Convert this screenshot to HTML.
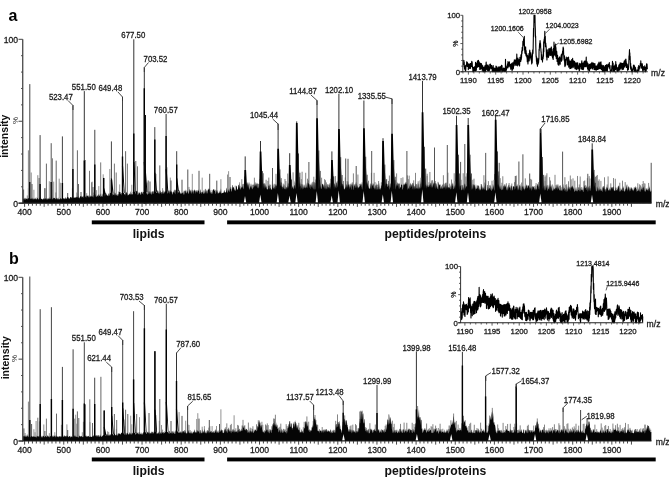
<!DOCTYPE html>
<html><head><meta charset="utf-8"><style>
html,body{margin:0;padding:0;background:#fff;width:669px;height:477px;overflow:hidden}
svg{display:block;filter:grayscale(1)}
</style></head><body>
<svg width="669" height="477" viewBox="0 0 669 477" font-family='"Liberation Sans", sans-serif'>
<rect width="669" height="477" fill="#fff"/>
<line x1="24" y1="198.18" x2="24" y2="203.2" stroke="#777" stroke-width="0.8"/>
<line x1="27.3" y1="195.45" x2="27.3" y2="203.2" stroke="#777" stroke-width="0.8"/>
<line x1="28.4" y1="188.29" x2="28.4" y2="203.2" stroke="#777" stroke-width="0.8"/>
<line x1="33.9" y1="189.76" x2="33.9" y2="203.2" stroke="#777" stroke-width="0.8"/>
<line x1="36.1" y1="197.54" x2="36.1" y2="203.2" stroke="#777" stroke-width="0.8"/>
<line x1="40.5" y1="196.89" x2="40.5" y2="203.2" stroke="#777" stroke-width="0.8"/>
<line x1="44.9" y1="188.78" x2="44.9" y2="203.2" stroke="#777" stroke-width="0.8"/>
<line x1="49.3" y1="181.25" x2="49.3" y2="203.2" stroke="#777" stroke-width="0.8"/>
<line x1="51.5" y1="195.44" x2="51.5" y2="203.2" stroke="#777" stroke-width="0.8"/>
<line x1="52.6" y1="189.68" x2="52.6" y2="203.2" stroke="#777" stroke-width="0.8"/>
<line x1="53.7" y1="181.67" x2="53.7" y2="203.2" stroke="#777" stroke-width="0.8"/>
<line x1="55.9" y1="192.44" x2="55.9" y2="203.2" stroke="#777" stroke-width="0.8"/>
<line x1="59.2" y1="178.66" x2="59.2" y2="203.2" stroke="#777" stroke-width="0.8"/>
<line x1="60.3" y1="182.77" x2="60.3" y2="203.2" stroke="#777" stroke-width="0.8"/>
<line x1="65.8" y1="197.69" x2="65.8" y2="203.2" stroke="#777" stroke-width="0.8"/>
<line x1="68" y1="197.47" x2="68" y2="203.2" stroke="#777" stroke-width="0.8"/>
<line x1="72.4" y1="188.35" x2="72.4" y2="203.2" stroke="#777" stroke-width="0.8"/>
<line x1="76.8" y1="192.5" x2="76.8" y2="203.2" stroke="#777" stroke-width="0.8"/>
<line x1="77.9" y1="193.64" x2="77.9" y2="203.2" stroke="#777" stroke-width="0.8"/>
<line x1="85.6" y1="194.96" x2="85.6" y2="203.2" stroke="#777" stroke-width="0.8"/>
<line x1="86.7" y1="193.15" x2="86.7" y2="203.2" stroke="#777" stroke-width="0.8"/>
<line x1="92.2" y1="181.67" x2="92.2" y2="203.2" stroke="#777" stroke-width="0.8"/>
<line x1="93.3" y1="192.57" x2="93.3" y2="203.2" stroke="#777" stroke-width="0.8"/>
<line x1="96.6" y1="190.15" x2="96.6" y2="203.2" stroke="#777" stroke-width="0.8"/>
<line x1="98.8" y1="186.08" x2="98.8" y2="203.2" stroke="#777" stroke-width="0.8"/>
<line x1="102.1" y1="193.7" x2="102.1" y2="203.2" stroke="#777" stroke-width="0.8"/>
<line x1="103.2" y1="174.3" x2="103.2" y2="203.2" stroke="#777" stroke-width="0.8"/>
<line x1="104.3" y1="194.35" x2="104.3" y2="203.2" stroke="#777" stroke-width="0.8"/>
<line x1="105.4" y1="193.36" x2="105.4" y2="203.2" stroke="#777" stroke-width="0.8"/>
<line x1="109.8" y1="168.98" x2="109.8" y2="203.2" stroke="#777" stroke-width="0.8"/>
<line x1="115.3" y1="193.5" x2="115.3" y2="203.2" stroke="#777" stroke-width="0.8"/>
<line x1="118.6" y1="191.55" x2="118.6" y2="203.2" stroke="#777" stroke-width="0.8"/>
<line x1="119.7" y1="184.41" x2="119.7" y2="203.2" stroke="#777" stroke-width="0.8"/>
<line x1="123" y1="189.4" x2="123" y2="203.2" stroke="#777" stroke-width="0.8"/>
<line x1="126.3" y1="192.56" x2="126.3" y2="203.2" stroke="#777" stroke-width="0.8"/>
<line x1="131.8" y1="184.77" x2="131.8" y2="203.2" stroke="#777" stroke-width="0.8"/>
<line x1="141.7" y1="191.9" x2="141.7" y2="203.2" stroke="#777" stroke-width="0.8"/>
<line x1="145" y1="184.73" x2="145" y2="203.2" stroke="#777" stroke-width="0.8"/>
<line x1="147.2" y1="182.49" x2="147.2" y2="203.2" stroke="#777" stroke-width="0.8"/>
<line x1="156" y1="173.9" x2="156" y2="203.2" stroke="#777" stroke-width="0.8"/>
<line x1="162.6" y1="188.2" x2="162.6" y2="203.2" stroke="#777" stroke-width="0.8"/>
<line x1="164.8" y1="191.34" x2="164.8" y2="203.2" stroke="#777" stroke-width="0.8"/>
<line x1="167" y1="167.3" x2="167" y2="203.2" stroke="#777" stroke-width="0.8"/>
<line x1="168.1" y1="190.97" x2="168.1" y2="203.2" stroke="#777" stroke-width="0.8"/>
<line x1="170.3" y1="177.58" x2="170.3" y2="203.2" stroke="#777" stroke-width="0.8"/>
<line x1="179.1" y1="190.35" x2="179.1" y2="203.2" stroke="#777" stroke-width="0.8"/>
<line x1="184.6" y1="191.1" x2="184.6" y2="203.2" stroke="#777" stroke-width="0.8"/>
<line x1="189" y1="186.96" x2="189" y2="203.2" stroke="#777" stroke-width="0.8"/>
<line x1="192.3" y1="173.88" x2="192.3" y2="203.2" stroke="#777" stroke-width="0.8"/>
<line x1="202.2" y1="177.65" x2="202.2" y2="203.2" stroke="#777" stroke-width="0.8"/>
<line x1="205.5" y1="188.89" x2="205.5" y2="203.2" stroke="#777" stroke-width="0.8"/>
<line x1="207.7" y1="190.64" x2="207.7" y2="203.2" stroke="#777" stroke-width="0.8"/>
<line x1="208.8" y1="189.92" x2="208.8" y2="203.2" stroke="#777" stroke-width="0.8"/>
<line x1="212.1" y1="189.92" x2="212.1" y2="203.2" stroke="#777" stroke-width="0.8"/>
<line x1="213.2" y1="190.49" x2="213.2" y2="203.2" stroke="#777" stroke-width="0.8"/>
<line x1="215.4" y1="189.84" x2="215.4" y2="203.2" stroke="#777" stroke-width="0.8"/>
<line x1="217.6" y1="190.43" x2="217.6" y2="203.2" stroke="#777" stroke-width="0.8"/>
<line x1="220.9" y1="179.2" x2="220.9" y2="203.2" stroke="#777" stroke-width="0.8"/>
<line x1="227.5" y1="174.53" x2="227.5" y2="203.2" stroke="#777" stroke-width="0.8"/>
<line x1="228.6" y1="171.18" x2="228.6" y2="203.2" stroke="#777" stroke-width="0.8"/>
<line x1="230.8" y1="187.23" x2="230.8" y2="203.2" stroke="#777" stroke-width="0.8"/>
<line x1="233" y1="187.41" x2="233" y2="203.2" stroke="#777" stroke-width="0.8"/>
<line x1="235.2" y1="185.63" x2="235.2" y2="203.2" stroke="#777" stroke-width="0.8"/>
<line x1="239.6" y1="182.33" x2="239.6" y2="203.2" stroke="#777" stroke-width="0.8"/>
<line x1="240" y1="185.78" x2="240" y2="203.2" stroke="#666" stroke-width="0.8"/>
<line x1="241.8" y1="179.2" x2="241.8" y2="203.2" stroke="#666" stroke-width="0.8"/>
<line x1="242.7" y1="184.09" x2="242.7" y2="203.2" stroke="#666" stroke-width="0.8"/>
<line x1="243.6" y1="183.87" x2="243.6" y2="203.2" stroke="#666" stroke-width="0.8"/>
<line x1="244.5" y1="176.5" x2="244.5" y2="203.2" stroke="#666" stroke-width="0.8"/>
<line x1="246.3" y1="183.4" x2="246.3" y2="203.2" stroke="#666" stroke-width="0.8"/>
<line x1="248.1" y1="184.41" x2="248.1" y2="203.2" stroke="#666" stroke-width="0.8"/>
<line x1="249" y1="182.49" x2="249" y2="203.2" stroke="#666" stroke-width="0.8"/>
<line x1="249.9" y1="183.78" x2="249.9" y2="203.2" stroke="#666" stroke-width="0.8"/>
<line x1="252.6" y1="184.69" x2="252.6" y2="203.2" stroke="#666" stroke-width="0.8"/>
<line x1="253.5" y1="184.69" x2="253.5" y2="203.2" stroke="#666" stroke-width="0.8"/>
<line x1="254.4" y1="177.68" x2="254.4" y2="203.2" stroke="#666" stroke-width="0.8"/>
<line x1="255.3" y1="182.48" x2="255.3" y2="203.2" stroke="#666" stroke-width="0.8"/>
<line x1="256.2" y1="184.45" x2="256.2" y2="203.2" stroke="#666" stroke-width="0.8"/>
<line x1="258" y1="183.83" x2="258" y2="203.2" stroke="#666" stroke-width="0.8"/>
<line x1="259.8" y1="179.33" x2="259.8" y2="203.2" stroke="#666" stroke-width="0.8"/>
<line x1="260.7" y1="182.33" x2="260.7" y2="203.2" stroke="#666" stroke-width="0.8"/>
<line x1="261.6" y1="181.46" x2="261.6" y2="203.2" stroke="#666" stroke-width="0.8"/>
<line x1="263.4" y1="173.26" x2="263.4" y2="203.2" stroke="#666" stroke-width="0.8"/>
<line x1="264.3" y1="183.54" x2="264.3" y2="203.2" stroke="#666" stroke-width="0.8"/>
<line x1="266.1" y1="179.75" x2="266.1" y2="203.2" stroke="#666" stroke-width="0.8"/>
<line x1="267.9" y1="180.88" x2="267.9" y2="203.2" stroke="#666" stroke-width="0.8"/>
<line x1="268.8" y1="177.59" x2="268.8" y2="203.2" stroke="#666" stroke-width="0.8"/>
<line x1="270.6" y1="184.69" x2="270.6" y2="203.2" stroke="#666" stroke-width="0.8"/>
<line x1="272.4" y1="181.23" x2="272.4" y2="203.2" stroke="#666" stroke-width="0.8"/>
<line x1="274.2" y1="183.77" x2="274.2" y2="203.2" stroke="#666" stroke-width="0.8"/>
<line x1="275.1" y1="184.7" x2="275.1" y2="203.2" stroke="#666" stroke-width="0.8"/>
<line x1="276" y1="173.83" x2="276" y2="203.2" stroke="#666" stroke-width="0.8"/>
<line x1="277.8" y1="179.36" x2="277.8" y2="203.2" stroke="#666" stroke-width="0.8"/>
<line x1="278.7" y1="180.3" x2="278.7" y2="203.2" stroke="#666" stroke-width="0.8"/>
<line x1="279.6" y1="182.41" x2="279.6" y2="203.2" stroke="#666" stroke-width="0.8"/>
<line x1="281.4" y1="178.11" x2="281.4" y2="203.2" stroke="#666" stroke-width="0.8"/>
<line x1="283.2" y1="183.62" x2="283.2" y2="203.2" stroke="#666" stroke-width="0.8"/>
<line x1="284.1" y1="184.56" x2="284.1" y2="203.2" stroke="#666" stroke-width="0.8"/>
<line x1="285" y1="178.98" x2="285" y2="203.2" stroke="#666" stroke-width="0.8"/>
<line x1="285.9" y1="181.05" x2="285.9" y2="203.2" stroke="#666" stroke-width="0.8"/>
<line x1="287.7" y1="173.54" x2="287.7" y2="203.2" stroke="#666" stroke-width="0.8"/>
<line x1="288.6" y1="183.47" x2="288.6" y2="203.2" stroke="#666" stroke-width="0.8"/>
<line x1="290.4" y1="184.64" x2="290.4" y2="203.2" stroke="#666" stroke-width="0.8"/>
<line x1="291.3" y1="184.69" x2="291.3" y2="203.2" stroke="#666" stroke-width="0.8"/>
<line x1="293.1" y1="172.33" x2="293.1" y2="203.2" stroke="#666" stroke-width="0.8"/>
<line x1="294.9" y1="182.35" x2="294.9" y2="203.2" stroke="#666" stroke-width="0.8"/>
<line x1="296.7" y1="184.59" x2="296.7" y2="203.2" stroke="#666" stroke-width="0.8"/>
<line x1="297.6" y1="184.59" x2="297.6" y2="203.2" stroke="#666" stroke-width="0.8"/>
<line x1="298.5" y1="182.03" x2="298.5" y2="203.2" stroke="#666" stroke-width="0.8"/>
<line x1="299.4" y1="177.14" x2="299.4" y2="203.2" stroke="#666" stroke-width="0.8"/>
<line x1="301.2" y1="184.24" x2="301.2" y2="203.2" stroke="#666" stroke-width="0.8"/>
<line x1="302.1" y1="171.73" x2="302.1" y2="203.2" stroke="#666" stroke-width="0.8"/>
<line x1="303" y1="184.62" x2="303" y2="203.2" stroke="#666" stroke-width="0.8"/>
<line x1="304.8" y1="184.68" x2="304.8" y2="203.2" stroke="#666" stroke-width="0.8"/>
<line x1="305.7" y1="172.78" x2="305.7" y2="203.2" stroke="#666" stroke-width="0.8"/>
<line x1="307.5" y1="178.7" x2="307.5" y2="203.2" stroke="#666" stroke-width="0.8"/>
<line x1="308.4" y1="180.38" x2="308.4" y2="203.2" stroke="#666" stroke-width="0.8"/>
<line x1="313.8" y1="176.74" x2="313.8" y2="203.2" stroke="#666" stroke-width="0.8"/>
<line x1="314.7" y1="182.33" x2="314.7" y2="203.2" stroke="#666" stroke-width="0.8"/>
<line x1="315.6" y1="180.34" x2="315.6" y2="203.2" stroke="#666" stroke-width="0.8"/>
<line x1="317.4" y1="184.02" x2="317.4" y2="203.2" stroke="#666" stroke-width="0.8"/>
<line x1="324.6" y1="179.17" x2="324.6" y2="203.2" stroke="#666" stroke-width="0.8"/>
<line x1="325.5" y1="180.22" x2="325.5" y2="203.2" stroke="#666" stroke-width="0.8"/>
<line x1="326.4" y1="182.41" x2="326.4" y2="203.2" stroke="#666" stroke-width="0.8"/>
<line x1="327.3" y1="184.16" x2="327.3" y2="203.2" stroke="#666" stroke-width="0.8"/>
<line x1="328.2" y1="184.56" x2="328.2" y2="203.2" stroke="#666" stroke-width="0.8"/>
<line x1="329.1" y1="184.69" x2="329.1" y2="203.2" stroke="#666" stroke-width="0.8"/>
<line x1="330.9" y1="178.84" x2="330.9" y2="203.2" stroke="#666" stroke-width="0.8"/>
<line x1="331.8" y1="184.47" x2="331.8" y2="203.2" stroke="#666" stroke-width="0.8"/>
<line x1="333.6" y1="176.64" x2="333.6" y2="203.2" stroke="#666" stroke-width="0.8"/>
<line x1="335.4" y1="176.05" x2="335.4" y2="203.2" stroke="#666" stroke-width="0.8"/>
<line x1="336.3" y1="182.76" x2="336.3" y2="203.2" stroke="#666" stroke-width="0.8"/>
<line x1="337.2" y1="181.3" x2="337.2" y2="203.2" stroke="#666" stroke-width="0.8"/>
<line x1="338.1" y1="182.74" x2="338.1" y2="203.2" stroke="#666" stroke-width="0.8"/>
<line x1="339" y1="182.65" x2="339" y2="203.2" stroke="#666" stroke-width="0.8"/>
<line x1="339.9" y1="184.7" x2="339.9" y2="203.2" stroke="#666" stroke-width="0.8"/>
<line x1="340.8" y1="183.14" x2="340.8" y2="203.2" stroke="#666" stroke-width="0.8"/>
<line x1="341.7" y1="184.63" x2="341.7" y2="203.2" stroke="#666" stroke-width="0.8"/>
<line x1="342.6" y1="184.06" x2="342.6" y2="203.2" stroke="#666" stroke-width="0.8"/>
<line x1="345.3" y1="177.52" x2="345.3" y2="203.2" stroke="#666" stroke-width="0.8"/>
<line x1="346.2" y1="184.42" x2="346.2" y2="203.2" stroke="#666" stroke-width="0.8"/>
<line x1="347.1" y1="181.19" x2="347.1" y2="203.2" stroke="#666" stroke-width="0.8"/>
<line x1="348" y1="181.54" x2="348" y2="203.2" stroke="#666" stroke-width="0.8"/>
<line x1="348.9" y1="184.13" x2="348.9" y2="203.2" stroke="#666" stroke-width="0.8"/>
<line x1="351.6" y1="184.61" x2="351.6" y2="203.2" stroke="#666" stroke-width="0.8"/>
<line x1="353.4" y1="173.38" x2="353.4" y2="203.2" stroke="#666" stroke-width="0.8"/>
<line x1="354.3" y1="184.61" x2="354.3" y2="203.2" stroke="#666" stroke-width="0.8"/>
<line x1="356.1" y1="183.93" x2="356.1" y2="203.2" stroke="#666" stroke-width="0.8"/>
<line x1="357.9" y1="174.53" x2="357.9" y2="203.2" stroke="#666" stroke-width="0.8"/>
<line x1="359.7" y1="183.89" x2="359.7" y2="203.2" stroke="#666" stroke-width="0.8"/>
<line x1="360.6" y1="184.58" x2="360.6" y2="203.2" stroke="#666" stroke-width="0.8"/>
<line x1="361.5" y1="184.45" x2="361.5" y2="203.2" stroke="#666" stroke-width="0.8"/>
<line x1="366" y1="184.52" x2="366" y2="203.2" stroke="#666" stroke-width="0.8"/>
<line x1="366.9" y1="182.31" x2="366.9" y2="203.2" stroke="#666" stroke-width="0.8"/>
<line x1="367.8" y1="183.88" x2="367.8" y2="203.2" stroke="#666" stroke-width="0.8"/>
<line x1="368.7" y1="184.67" x2="368.7" y2="203.2" stroke="#666" stroke-width="0.8"/>
<line x1="371.4" y1="172.75" x2="371.4" y2="203.2" stroke="#666" stroke-width="0.8"/>
<line x1="374.1" y1="172.83" x2="374.1" y2="203.2" stroke="#666" stroke-width="0.8"/>
<line x1="375" y1="182.12" x2="375" y2="203.2" stroke="#666" stroke-width="0.8"/>
<line x1="376.8" y1="184.66" x2="376.8" y2="203.2" stroke="#666" stroke-width="0.8"/>
<line x1="377.7" y1="184.7" x2="377.7" y2="203.2" stroke="#666" stroke-width="0.8"/>
<line x1="378.6" y1="181.02" x2="378.6" y2="203.2" stroke="#666" stroke-width="0.8"/>
<line x1="381.3" y1="182.33" x2="381.3" y2="203.2" stroke="#666" stroke-width="0.8"/>
<line x1="383.1" y1="184.43" x2="383.1" y2="203.2" stroke="#666" stroke-width="0.8"/>
<line x1="384" y1="180.32" x2="384" y2="203.2" stroke="#666" stroke-width="0.8"/>
<line x1="384.9" y1="184.32" x2="384.9" y2="203.2" stroke="#666" stroke-width="0.8"/>
<line x1="386.7" y1="178.99" x2="386.7" y2="203.2" stroke="#666" stroke-width="0.8"/>
<line x1="387.6" y1="184.2" x2="387.6" y2="203.2" stroke="#666" stroke-width="0.8"/>
<line x1="388.5" y1="180.89" x2="388.5" y2="203.2" stroke="#666" stroke-width="0.8"/>
<line x1="389.4" y1="175.53" x2="389.4" y2="203.2" stroke="#666" stroke-width="0.8"/>
<line x1="392.1" y1="173.77" x2="392.1" y2="203.2" stroke="#666" stroke-width="0.8"/>
<line x1="393" y1="184.7" x2="393" y2="203.2" stroke="#666" stroke-width="0.8"/>
<line x1="393.9" y1="178.57" x2="393.9" y2="203.2" stroke="#666" stroke-width="0.8"/>
<line x1="394.8" y1="180.14" x2="394.8" y2="203.2" stroke="#666" stroke-width="0.8"/>
<line x1="395.7" y1="180.33" x2="395.7" y2="203.2" stroke="#666" stroke-width="0.8"/>
<line x1="396.6" y1="173.38" x2="396.6" y2="203.2" stroke="#666" stroke-width="0.8"/>
<line x1="398.4" y1="183.45" x2="398.4" y2="203.2" stroke="#666" stroke-width="0.8"/>
<line x1="399.3" y1="183.86" x2="399.3" y2="203.2" stroke="#666" stroke-width="0.8"/>
<line x1="401.1" y1="178" x2="401.1" y2="203.2" stroke="#666" stroke-width="0.8"/>
<line x1="402.9" y1="177.33" x2="402.9" y2="203.2" stroke="#666" stroke-width="0.8"/>
<line x1="407.4" y1="175.36" x2="407.4" y2="203.2" stroke="#666" stroke-width="0.8"/>
<line x1="408.3" y1="179.16" x2="408.3" y2="203.2" stroke="#666" stroke-width="0.8"/>
<line x1="409.2" y1="175.64" x2="409.2" y2="203.2" stroke="#666" stroke-width="0.8"/>
<line x1="411.9" y1="184.65" x2="411.9" y2="203.2" stroke="#666" stroke-width="0.8"/>
<line x1="412.8" y1="182.87" x2="412.8" y2="203.2" stroke="#666" stroke-width="0.8"/>
<line x1="413.7" y1="180.31" x2="413.7" y2="203.2" stroke="#666" stroke-width="0.8"/>
<line x1="415.5" y1="172.85" x2="415.5" y2="203.2" stroke="#666" stroke-width="0.8"/>
<line x1="416.4" y1="184.13" x2="416.4" y2="203.2" stroke="#666" stroke-width="0.8"/>
<line x1="418.2" y1="181.29" x2="418.2" y2="203.2" stroke="#666" stroke-width="0.8"/>
<line x1="420" y1="180.48" x2="420" y2="203.2" stroke="#666" stroke-width="0.8"/>
<line x1="420.9" y1="184.06" x2="420.9" y2="203.2" stroke="#666" stroke-width="0.8"/>
<line x1="421.8" y1="182.45" x2="421.8" y2="203.2" stroke="#666" stroke-width="0.8"/>
<line x1="422.7" y1="184.57" x2="422.7" y2="203.2" stroke="#666" stroke-width="0.8"/>
<line x1="423.6" y1="180.11" x2="423.6" y2="203.2" stroke="#666" stroke-width="0.8"/>
<line x1="424.5" y1="176.43" x2="424.5" y2="203.2" stroke="#666" stroke-width="0.8"/>
<line x1="427.2" y1="173.72" x2="427.2" y2="203.2" stroke="#666" stroke-width="0.8"/>
<line x1="429" y1="182.24" x2="429" y2="203.2" stroke="#666" stroke-width="0.8"/>
<line x1="429.9" y1="171.96" x2="429.9" y2="203.2" stroke="#666" stroke-width="0.8"/>
<line x1="430.8" y1="183.17" x2="430.8" y2="203.2" stroke="#666" stroke-width="0.8"/>
<line x1="431.7" y1="180.44" x2="431.7" y2="203.2" stroke="#666" stroke-width="0.8"/>
<line x1="432.6" y1="180.24" x2="432.6" y2="203.2" stroke="#666" stroke-width="0.8"/>
<line x1="433.5" y1="183.55" x2="433.5" y2="203.2" stroke="#666" stroke-width="0.8"/>
<line x1="434.4" y1="181.57" x2="434.4" y2="203.2" stroke="#666" stroke-width="0.8"/>
<line x1="435.3" y1="181.02" x2="435.3" y2="203.2" stroke="#666" stroke-width="0.8"/>
<line x1="438" y1="181.87" x2="438" y2="203.2" stroke="#666" stroke-width="0.8"/>
<line x1="439.8" y1="184.7" x2="439.8" y2="203.2" stroke="#666" stroke-width="0.8"/>
<line x1="440.7" y1="184.67" x2="440.7" y2="203.2" stroke="#666" stroke-width="0.8"/>
<line x1="442.5" y1="184.59" x2="442.5" y2="203.2" stroke="#666" stroke-width="0.8"/>
<line x1="443.4" y1="175.21" x2="443.4" y2="203.2" stroke="#666" stroke-width="0.8"/>
<line x1="444.3" y1="184.31" x2="444.3" y2="203.2" stroke="#666" stroke-width="0.8"/>
<line x1="445.2" y1="183.2" x2="445.2" y2="203.2" stroke="#666" stroke-width="0.8"/>
<line x1="446.1" y1="182.72" x2="446.1" y2="203.2" stroke="#666" stroke-width="0.8"/>
<line x1="447.9" y1="172.68" x2="447.9" y2="203.2" stroke="#666" stroke-width="0.8"/>
<line x1="449.7" y1="183.67" x2="449.7" y2="203.2" stroke="#666" stroke-width="0.8"/>
<line x1="451.5" y1="179.52" x2="451.5" y2="203.2" stroke="#666" stroke-width="0.8"/>
<line x1="452.4" y1="183.62" x2="452.4" y2="203.2" stroke="#666" stroke-width="0.8"/>
<line x1="454.2" y1="173.28" x2="454.2" y2="203.2" stroke="#666" stroke-width="0.8"/>
<line x1="457.8" y1="184.65" x2="457.8" y2="203.2" stroke="#666" stroke-width="0.8"/>
<line x1="458.7" y1="178.21" x2="458.7" y2="203.2" stroke="#666" stroke-width="0.8"/>
<line x1="460.5" y1="184.8" x2="460.5" y2="203.2" stroke="#666" stroke-width="0.8"/>
<line x1="461.4" y1="185.27" x2="461.4" y2="203.2" stroke="#666" stroke-width="0.8"/>
<line x1="462.3" y1="185.18" x2="462.3" y2="203.2" stroke="#666" stroke-width="0.8"/>
<line x1="463.2" y1="173.25" x2="463.2" y2="203.2" stroke="#666" stroke-width="0.8"/>
<line x1="464.1" y1="185.33" x2="464.1" y2="203.2" stroke="#666" stroke-width="0.8"/>
<line x1="465" y1="184.34" x2="465" y2="203.2" stroke="#666" stroke-width="0.8"/>
<line x1="465.9" y1="176.56" x2="465.9" y2="203.2" stroke="#666" stroke-width="0.8"/>
<line x1="466.8" y1="173.29" x2="466.8" y2="203.2" stroke="#666" stroke-width="0.8"/>
<line x1="467.7" y1="173.75" x2="467.7" y2="203.2" stroke="#666" stroke-width="0.8"/>
<line x1="470.4" y1="176.74" x2="470.4" y2="203.2" stroke="#666" stroke-width="0.8"/>
<line x1="471.3" y1="185.46" x2="471.3" y2="203.2" stroke="#666" stroke-width="0.8"/>
<line x1="473.1" y1="184.05" x2="473.1" y2="203.2" stroke="#666" stroke-width="0.8"/>
<line x1="474" y1="178.68" x2="474" y2="203.2" stroke="#666" stroke-width="0.8"/>
<line x1="477.6" y1="186.18" x2="477.6" y2="203.2" stroke="#666" stroke-width="0.8"/>
<line x1="478.5" y1="185.89" x2="478.5" y2="203.2" stroke="#666" stroke-width="0.8"/>
<line x1="481.2" y1="184.01" x2="481.2" y2="203.2" stroke="#666" stroke-width="0.8"/>
<line x1="483.9" y1="175.22" x2="483.9" y2="203.2" stroke="#666" stroke-width="0.8"/>
<line x1="484.8" y1="182.52" x2="484.8" y2="203.2" stroke="#666" stroke-width="0.8"/>
<line x1="485.7" y1="179.78" x2="485.7" y2="203.2" stroke="#666" stroke-width="0.8"/>
<line x1="487.5" y1="185.09" x2="487.5" y2="203.2" stroke="#666" stroke-width="0.8"/>
<line x1="488.4" y1="181.14" x2="488.4" y2="203.2" stroke="#666" stroke-width="0.8"/>
<line x1="489.3" y1="185.34" x2="489.3" y2="203.2" stroke="#666" stroke-width="0.8"/>
<line x1="490.2" y1="185.52" x2="490.2" y2="203.2" stroke="#666" stroke-width="0.8"/>
<line x1="492" y1="180.72" x2="492" y2="203.2" stroke="#666" stroke-width="0.8"/>
<line x1="494.7" y1="174.1" x2="494.7" y2="203.2" stroke="#666" stroke-width="0.8"/>
<line x1="496.5" y1="184.99" x2="496.5" y2="203.2" stroke="#666" stroke-width="0.8"/>
<line x1="497.4" y1="181.68" x2="497.4" y2="203.2" stroke="#666" stroke-width="0.8"/>
<line x1="498.3" y1="175.56" x2="498.3" y2="203.2" stroke="#666" stroke-width="0.8"/>
<line x1="501.9" y1="182.77" x2="501.9" y2="203.2" stroke="#666" stroke-width="0.8"/>
<line x1="502.8" y1="176.25" x2="502.8" y2="203.2" stroke="#666" stroke-width="0.8"/>
<line x1="503.7" y1="186.12" x2="503.7" y2="203.2" stroke="#666" stroke-width="0.8"/>
<line x1="506.4" y1="183.25" x2="506.4" y2="203.2" stroke="#666" stroke-width="0.8"/>
<line x1="509.1" y1="183.03" x2="509.1" y2="203.2" stroke="#666" stroke-width="0.8"/>
<line x1="511.8" y1="183.5" x2="511.8" y2="203.2" stroke="#666" stroke-width="0.8"/>
<line x1="514.5" y1="182.15" x2="514.5" y2="203.2" stroke="#666" stroke-width="0.8"/>
<line x1="515.4" y1="180.14" x2="515.4" y2="203.2" stroke="#666" stroke-width="0.8"/>
<line x1="516.3" y1="175.58" x2="516.3" y2="203.2" stroke="#666" stroke-width="0.8"/>
<line x1="517.2" y1="185.98" x2="517.2" y2="203.2" stroke="#666" stroke-width="0.8"/>
<line x1="519.9" y1="186.2" x2="519.9" y2="203.2" stroke="#666" stroke-width="0.8"/>
<line x1="521.7" y1="182.54" x2="521.7" y2="203.2" stroke="#666" stroke-width="0.8"/>
<line x1="525.3" y1="178.37" x2="525.3" y2="203.2" stroke="#666" stroke-width="0.8"/>
<line x1="526.2" y1="185.98" x2="526.2" y2="203.2" stroke="#666" stroke-width="0.8"/>
<line x1="527.1" y1="185.81" x2="527.1" y2="203.2" stroke="#666" stroke-width="0.8"/>
<line x1="530.7" y1="178.91" x2="530.7" y2="203.2" stroke="#666" stroke-width="0.8"/>
<line x1="531.6" y1="179.69" x2="531.6" y2="203.2" stroke="#666" stroke-width="0.8"/>
<line x1="532.5" y1="186.2" x2="532.5" y2="203.2" stroke="#666" stroke-width="0.8"/>
<line x1="534.3" y1="186.2" x2="534.3" y2="203.2" stroke="#666" stroke-width="0.8"/>
<line x1="536.1" y1="183.11" x2="536.1" y2="203.2" stroke="#666" stroke-width="0.8"/>
<line x1="537" y1="186.17" x2="537" y2="203.2" stroke="#666" stroke-width="0.8"/>
<line x1="538.8" y1="182.27" x2="538.8" y2="203.2" stroke="#666" stroke-width="0.8"/>
<line x1="539.7" y1="186.18" x2="539.7" y2="203.2" stroke="#666" stroke-width="0.8"/>
<line x1="540.6" y1="185.71" x2="540.6" y2="203.2" stroke="#666" stroke-width="0.8"/>
<line x1="544.2" y1="185.77" x2="544.2" y2="203.2" stroke="#666" stroke-width="0.8"/>
<line x1="545.1" y1="176.57" x2="545.1" y2="203.2" stroke="#666" stroke-width="0.8"/>
<line x1="546" y1="175.27" x2="546" y2="203.2" stroke="#666" stroke-width="0.8"/>
<line x1="546.9" y1="173.28" x2="546.9" y2="203.2" stroke="#666" stroke-width="0.8"/>
<line x1="549.6" y1="177.16" x2="549.6" y2="203.2" stroke="#666" stroke-width="0.8"/>
<line x1="550.5" y1="180.53" x2="550.5" y2="203.2" stroke="#666" stroke-width="0.8"/>
<line x1="552.3" y1="184.49" x2="552.3" y2="203.2" stroke="#666" stroke-width="0.8"/>
<line x1="555" y1="174.83" x2="555" y2="203.2" stroke="#666" stroke-width="0.8"/>
<line x1="555.9" y1="185.19" x2="555.9" y2="203.2" stroke="#666" stroke-width="0.8"/>
<line x1="556.8" y1="184.54" x2="556.8" y2="203.2" stroke="#666" stroke-width="0.8"/>
<line x1="559.5" y1="185.79" x2="559.5" y2="203.2" stroke="#666" stroke-width="0.8"/>
<line x1="560.4" y1="185.39" x2="560.4" y2="203.2" stroke="#666" stroke-width="0.8"/>
<line x1="562.2" y1="186.91" x2="562.2" y2="203.2" stroke="#666" stroke-width="0.8"/>
<line x1="563.1" y1="184.43" x2="563.1" y2="203.2" stroke="#666" stroke-width="0.8"/>
<line x1="564.9" y1="177.21" x2="564.9" y2="203.2" stroke="#666" stroke-width="0.8"/>
<line x1="565.8" y1="184.85" x2="565.8" y2="203.2" stroke="#666" stroke-width="0.8"/>
<line x1="566.7" y1="184.24" x2="566.7" y2="203.2" stroke="#666" stroke-width="0.8"/>
<line x1="568.5" y1="181.27" x2="568.5" y2="203.2" stroke="#666" stroke-width="0.8"/>
<line x1="570.3" y1="175.51" x2="570.3" y2="203.2" stroke="#666" stroke-width="0.8"/>
<line x1="571.2" y1="179.34" x2="571.2" y2="203.2" stroke="#666" stroke-width="0.8"/>
<line x1="573" y1="178.33" x2="573" y2="203.2" stroke="#666" stroke-width="0.8"/>
<line x1="574.8" y1="180.7" x2="574.8" y2="203.2" stroke="#666" stroke-width="0.8"/>
<line x1="577.5" y1="175.95" x2="577.5" y2="203.2" stroke="#666" stroke-width="0.8"/>
<line x1="578.4" y1="187.28" x2="578.4" y2="203.2" stroke="#666" stroke-width="0.8"/>
<line x1="579.3" y1="184.46" x2="579.3" y2="203.2" stroke="#666" stroke-width="0.8"/>
<line x1="580.2" y1="176.49" x2="580.2" y2="203.2" stroke="#666" stroke-width="0.8"/>
<line x1="581.1" y1="187.03" x2="581.1" y2="203.2" stroke="#666" stroke-width="0.8"/>
<line x1="582" y1="187.53" x2="582" y2="203.2" stroke="#666" stroke-width="0.8"/>
<line x1="583.8" y1="181.17" x2="583.8" y2="203.2" stroke="#666" stroke-width="0.8"/>
<line x1="584.7" y1="180.5" x2="584.7" y2="203.2" stroke="#666" stroke-width="0.8"/>
<line x1="585.6" y1="185.2" x2="585.6" y2="203.2" stroke="#666" stroke-width="0.8"/>
<line x1="586.5" y1="187.54" x2="586.5" y2="203.2" stroke="#666" stroke-width="0.8"/>
<line x1="587.4" y1="178.14" x2="587.4" y2="203.2" stroke="#666" stroke-width="0.8"/>
<line x1="588.3" y1="187.44" x2="588.3" y2="203.2" stroke="#666" stroke-width="0.8"/>
<line x1="589.2" y1="176.1" x2="589.2" y2="203.2" stroke="#666" stroke-width="0.8"/>
<line x1="590.1" y1="178.53" x2="590.1" y2="203.2" stroke="#666" stroke-width="0.8"/>
<line x1="591.9" y1="187.48" x2="591.9" y2="203.2" stroke="#666" stroke-width="0.8"/>
<line x1="592.8" y1="187.7" x2="592.8" y2="203.2" stroke="#666" stroke-width="0.8"/>
<line x1="593.7" y1="174.82" x2="593.7" y2="203.2" stroke="#666" stroke-width="0.8"/>
<line x1="594.6" y1="187.66" x2="594.6" y2="203.2" stroke="#666" stroke-width="0.8"/>
<line x1="595.5" y1="176.8" x2="595.5" y2="203.2" stroke="#666" stroke-width="0.8"/>
<line x1="596.4" y1="175.9" x2="596.4" y2="203.2" stroke="#666" stroke-width="0.8"/>
<line x1="597.3" y1="174.97" x2="597.3" y2="203.2" stroke="#666" stroke-width="0.8"/>
<line x1="598.2" y1="180.87" x2="598.2" y2="203.2" stroke="#666" stroke-width="0.8"/>
<line x1="599.1" y1="179.42" x2="599.1" y2="203.2" stroke="#666" stroke-width="0.8"/>
<line x1="600.9" y1="180.87" x2="600.9" y2="203.2" stroke="#666" stroke-width="0.8"/>
<line x1="602.7" y1="187.48" x2="602.7" y2="203.2" stroke="#666" stroke-width="0.8"/>
<line x1="604.5" y1="177.31" x2="604.5" y2="203.2" stroke="#666" stroke-width="0.8"/>
<line x1="606.3" y1="187.46" x2="606.3" y2="203.2" stroke="#666" stroke-width="0.8"/>
<line x1="607.2" y1="184.47" x2="607.2" y2="203.2" stroke="#666" stroke-width="0.8"/>
<line x1="608.1" y1="176.41" x2="608.1" y2="203.2" stroke="#666" stroke-width="0.8"/>
<line x1="610.8" y1="183.37" x2="610.8" y2="203.2" stroke="#666" stroke-width="0.8"/>
<line x1="612.6" y1="187.02" x2="612.6" y2="203.2" stroke="#666" stroke-width="0.8"/>
<line x1="613.5" y1="178.07" x2="613.5" y2="203.2" stroke="#666" stroke-width="0.8"/>
<line x1="615.3" y1="178.76" x2="615.3" y2="203.2" stroke="#666" stroke-width="0.8"/>
<line x1="616.2" y1="187.67" x2="616.2" y2="203.2" stroke="#666" stroke-width="0.8"/>
<line x1="618" y1="187.47" x2="618" y2="203.2" stroke="#666" stroke-width="0.8"/>
<line x1="618.9" y1="185.91" x2="618.9" y2="203.2" stroke="#666" stroke-width="0.8"/>
<line x1="619.8" y1="182.73" x2="619.8" y2="203.2" stroke="#666" stroke-width="0.8"/>
<line x1="622.5" y1="180.67" x2="622.5" y2="203.2" stroke="#666" stroke-width="0.8"/>
<line x1="623.4" y1="187.7" x2="623.4" y2="203.2" stroke="#666" stroke-width="0.8"/>
<line x1="625.2" y1="182.11" x2="625.2" y2="203.2" stroke="#666" stroke-width="0.8"/>
<line x1="627" y1="184.67" x2="627" y2="203.2" stroke="#666" stroke-width="0.8"/>
<line x1="631.5" y1="187.68" x2="631.5" y2="203.2" stroke="#666" stroke-width="0.8"/>
<line x1="634.2" y1="187.34" x2="634.2" y2="203.2" stroke="#666" stroke-width="0.8"/>
<line x1="635.1" y1="187.7" x2="635.1" y2="203.2" stroke="#666" stroke-width="0.8"/>
<line x1="636.9" y1="187.3" x2="636.9" y2="203.2" stroke="#666" stroke-width="0.8"/>
<line x1="637.8" y1="183.3" x2="637.8" y2="203.2" stroke="#666" stroke-width="0.8"/>
<line x1="639.6" y1="184.35" x2="639.6" y2="203.2" stroke="#666" stroke-width="0.8"/>
<line x1="640.5" y1="185.38" x2="640.5" y2="203.2" stroke="#666" stroke-width="0.8"/>
<line x1="642.3" y1="184.02" x2="642.3" y2="203.2" stroke="#666" stroke-width="0.8"/>
<line x1="643.2" y1="181.03" x2="643.2" y2="203.2" stroke="#666" stroke-width="0.8"/>
<line x1="644.1" y1="183.25" x2="644.1" y2="203.2" stroke="#666" stroke-width="0.8"/>
<line x1="645" y1="183.58" x2="645" y2="203.2" stroke="#666" stroke-width="0.8"/>
<line x1="648.6" y1="182.95" x2="648.6" y2="203.2" stroke="#666" stroke-width="0.8"/>
<line x1="649.5" y1="187.7" x2="649.5" y2="203.2" stroke="#666" stroke-width="0.8"/>
<line x1="23.6" y1="189.5" x2="23.6" y2="203.2" stroke="#555" stroke-width="1.0"/>
<line x1="28.4" y1="150.3" x2="28.4" y2="203.2" stroke="#888" stroke-width="1.0"/>
<line x1="29.8" y1="84.1" x2="29.8" y2="203.2" stroke="#444" stroke-width="1.0"/>
<line x1="29.8" y1="182" x2="29.8" y2="203.2" stroke="#000" stroke-width="1.4"/>
<line x1="31.2" y1="172.5" x2="31.2" y2="203.2" stroke="#888" stroke-width="1.0"/>
<line x1="32" y1="184" x2="32" y2="203.2" stroke="#555" stroke-width="1.0"/>
<line x1="37.8" y1="175.2" x2="37.8" y2="203.2" stroke="#888" stroke-width="1.0"/>
<line x1="39.1" y1="178" x2="39.1" y2="203.2" stroke="#666" stroke-width="1.0"/>
<line x1="40.1" y1="135.1" x2="40.1" y2="203.2" stroke="#444" stroke-width="1.0"/>
<line x1="40.1" y1="184" x2="40.1" y2="203.2" stroke="#000" stroke-width="1.4"/>
<line x1="44.9" y1="188" x2="44.9" y2="203.2" stroke="#555" stroke-width="1.0"/>
<line x1="46.4" y1="163.6" x2="46.4" y2="203.2" stroke="#666" stroke-width="1.0"/>
<line x1="51.2" y1="143.2" x2="51.2" y2="203.2" stroke="#555" stroke-width="1.0"/>
<line x1="51.2" y1="182" x2="51.2" y2="203.2" stroke="#000" stroke-width="1.4"/>
<line x1="52.4" y1="158.3" x2="52.4" y2="203.2" stroke="#777" stroke-width="1.0"/>
<line x1="56.2" y1="160.6" x2="56.2" y2="203.2" stroke="#666" stroke-width="1.0"/>
<line x1="62.4" y1="136.4" x2="62.4" y2="203.2" stroke="#444" stroke-width="1.0"/>
<line x1="62.4" y1="183" x2="62.4" y2="203.2" stroke="#000" stroke-width="1.4"/>
<line x1="67.7" y1="193" x2="67.7" y2="203.2" stroke="#555" stroke-width="1.0"/>
<line x1="72.9" y1="105.1" x2="72.9" y2="203.2" stroke="#444" stroke-width="1.0"/>
<line x1="72.9" y1="169" x2="72.9" y2="203.2" stroke="#000" stroke-width="1.4"/>
<line x1="77.4" y1="150.3" x2="77.4" y2="203.2" stroke="#666" stroke-width="1.0"/>
<line x1="78.4" y1="184" x2="78.4" y2="203.2" stroke="#555" stroke-width="1.0"/>
<line x1="81" y1="192" x2="81" y2="203.2" stroke="#555" stroke-width="1.0"/>
<line x1="84.3" y1="91.1" x2="84.3" y2="203.2" stroke="#333" stroke-width="1.0"/>
<line x1="84.3" y1="160.6" x2="84.3" y2="203.2" stroke="#000" stroke-width="1.4"/>
<line x1="85.5" y1="160" x2="85.5" y2="203.2" stroke="#888" stroke-width="1.0"/>
<line x1="89.5" y1="170.8" x2="89.5" y2="203.2" stroke="#777" stroke-width="1.0"/>
<line x1="91.6" y1="182.3" x2="91.6" y2="203.2" stroke="#777" stroke-width="1.0"/>
<line x1="93" y1="187" x2="93" y2="203.2" stroke="#555" stroke-width="1.0"/>
<line x1="94.8" y1="129.8" x2="94.8" y2="203.2" stroke="#444" stroke-width="1.0"/>
<line x1="94.8" y1="164.5" x2="94.8" y2="203.2" stroke="#000" stroke-width="1.4"/>
<line x1="100.7" y1="162.4" x2="100.7" y2="203.2" stroke="#777" stroke-width="1.0"/>
<line x1="103.7" y1="177.9" x2="103.7" y2="203.2" stroke="#555" stroke-width="1.0"/>
<line x1="103.7" y1="178" x2="103.7" y2="203.2" stroke="#000" stroke-width="1.4"/>
<path d="M103.1,188.16 L104.3,188.16 L105.9,194.49 L102.7,194.49 L102.7,203.2 L105.9,203.2Z" fill="#000"/>
<line x1="111.4" y1="141.4" x2="111.4" y2="203.2" stroke="#444" stroke-width="1.0"/>
<line x1="111.4" y1="180" x2="111.4" y2="203.2" stroke="#000" stroke-width="1.4"/>
<path d="M110.8,178.38 L112,178.38 L113.6,193.83 L110.4,193.83 L110.4,203.2 L113.6,203.2Z" fill="#000"/>
<line x1="114.4" y1="163.6" x2="114.4" y2="203.2" stroke="#777" stroke-width="1.0"/>
<line x1="116.2" y1="172.5" x2="116.2" y2="203.2" stroke="#777" stroke-width="1.0"/>
<line x1="119.7" y1="192" x2="119.7" y2="203.2" stroke="#555" stroke-width="1.0"/>
<line x1="122.5" y1="96.8" x2="122.5" y2="203.2" stroke="#444" stroke-width="1.0"/>
<line x1="122.5" y1="156.5" x2="122.5" y2="203.2" stroke="#000" stroke-width="1.4"/>
<path d="M121.9,166.29 L123.1,166.29 L124.7,192.89 L121.5,192.89 L121.5,203.2 L124.7,203.2Z" fill="#000"/>
<line x1="125.6" y1="151.2" x2="125.6" y2="203.2" stroke="#666" stroke-width="1.0"/>
<line x1="127.4" y1="163.6" x2="127.4" y2="203.2" stroke="#777" stroke-width="1.0"/>
<line x1="133.8" y1="39.3" x2="133.8" y2="203.2" stroke="#333" stroke-width="1.0"/>
<line x1="133.8" y1="133.4" x2="133.8" y2="203.2" stroke="#000" stroke-width="1.4"/>
<path d="M133.2,162.12 L134.4,162.12 L136,192.12 L132.8,192.12 L132.8,203.2 L136,203.2Z" fill="#000"/>
<line x1="135.8" y1="161" x2="135.8" y2="203.2" stroke="#666" stroke-width="1.0"/>
<line x1="137.5" y1="166.3" x2="137.5" y2="203.2" stroke="#777" stroke-width="1.0"/>
<line x1="144.3" y1="67.3" x2="144.3" y2="203.2" stroke="#333" stroke-width="1.0"/>
<line x1="144.3" y1="88.3" x2="144.3" y2="203.2" stroke="#000" stroke-width="1.4"/>
<path d="M143.7,161.91 L144.9,161.91 L146.5,191.91 L143.3,191.91 L143.3,203.2 L146.5,203.2Z" fill="#000"/>
<line x1="145.2" y1="115" x2="145.2" y2="203.2" stroke="#333" stroke-width="1.0"/>
<line x1="145.2" y1="115" x2="145.2" y2="203.2" stroke="#000" stroke-width="1.4"/>
<path d="M144.6,169.85 L145.8,169.85 L147.4,191.9 L144.2,191.9 L144.2,203.2 L147.4,203.2Z" fill="#000"/>
<line x1="148.2" y1="180.5" x2="148.2" y2="203.2" stroke="#555" stroke-width="1.0"/>
<line x1="150" y1="181.5" x2="150" y2="203.2" stroke="#555" stroke-width="1.0"/>
<line x1="154.8" y1="127.1" x2="154.8" y2="203.2" stroke="#444" stroke-width="1.0"/>
<line x1="154.8" y1="139.6" x2="154.8" y2="203.2" stroke="#000" stroke-width="1.4"/>
<path d="M154.2,172.68 L155.4,172.68 L157,191.7 L153.8,191.7 L153.8,203.2 L157,203.2Z" fill="#000"/>
<line x1="159.8" y1="165.4" x2="159.8" y2="203.2" stroke="#666" stroke-width="1.0"/>
<line x1="166.1" y1="114" x2="166.1" y2="203.2" stroke="#333" stroke-width="1.0"/>
<line x1="166.1" y1="136" x2="166.1" y2="203.2" stroke="#000" stroke-width="1.4"/>
<path d="M165.5,169.18 L166.7,169.18 L168.3,191.48 L165.1,191.48 L165.1,203.2 L168.3,203.2Z" fill="#000"/>
<line x1="171" y1="180.5" x2="171" y2="203.2" stroke="#555" stroke-width="1.0"/>
<line x1="176.7" y1="151.2" x2="176.7" y2="203.2" stroke="#444" stroke-width="1.0"/>
<line x1="176.7" y1="164.5" x2="176.7" y2="203.2" stroke="#000" stroke-width="1.4"/>
<path d="M176.1,178.27 L177.3,178.27 L178.9,191.27 L175.7,191.27 L175.7,203.2 L178.9,203.2Z" fill="#000"/>
<line x1="182" y1="179.7" x2="182" y2="203.2" stroke="#555" stroke-width="1.0"/>
<line x1="187.8" y1="169.5" x2="187.8" y2="203.2" stroke="#555" stroke-width="1.0"/>
<line x1="192.8" y1="190" x2="192.8" y2="203.2" stroke="#555" stroke-width="1.0"/>
<line x1="199" y1="170.8" x2="199" y2="203.2" stroke="#555" stroke-width="1.0"/>
<line x1="209.7" y1="173.8" x2="209.7" y2="203.2" stroke="#555" stroke-width="1.0"/>
<line x1="216.8" y1="180.6" x2="216.8" y2="203.2" stroke="#555" stroke-width="1.0"/>
<line x1="230" y1="177" x2="230" y2="203.2" stroke="#555" stroke-width="1.0"/>
<line x1="245.2" y1="156.4" x2="245.2" y2="203.2" stroke="#333" stroke-width="1.0"/>
<path d="M244.4,170 L246.1,170 L246.8,183.28 L248.1,193.9 L250.2,203.2 L243.7,203.2 L244,189.92Z" fill="#000"/>
<line x1="247" y1="182.62" x2="247" y2="203.2" stroke="#222" stroke-width="0.9"/>
<line x1="248.4" y1="190.58" x2="248.4" y2="203.2" stroke="#333" stroke-width="0.9"/>
<line x1="249.8" y1="193.24" x2="249.8" y2="203.2" stroke="#777" stroke-width="0.9"/>
<line x1="243.6" y1="193.9" x2="243.6" y2="203.2" stroke="#777" stroke-width="0.9"/>
<line x1="260.5" y1="141" x2="260.5" y2="203.2" stroke="#333" stroke-width="1.0"/>
<path d="M259.7,151.4 L261.4,151.4 L262.1,172.12 L263.4,188.7 L265.5,203.2 L259,203.2 L259.3,182.48Z" fill="#000"/>
<line x1="262.3" y1="171.08" x2="262.3" y2="203.2" stroke="#222" stroke-width="0.9"/>
<line x1="263.7" y1="183.52" x2="263.7" y2="203.2" stroke="#333" stroke-width="0.9"/>
<line x1="265.1" y1="187.66" x2="265.1" y2="203.2" stroke="#777" stroke-width="0.9"/>
<line x1="258.9" y1="188.7" x2="258.9" y2="203.2" stroke="#777" stroke-width="0.9"/>
<line x1="272.5" y1="168" x2="272.5" y2="203.2" stroke="#555" stroke-width="1.0"/>
<line x1="278.1" y1="123.6" x2="278.1" y2="203.2" stroke="#333" stroke-width="1.0"/>
<path d="M277.3,148.7 L279,148.7 L279.7,170.5 L281,187.94 L283.1,203.2 L276.6,203.2 L276.9,181.4Z" fill="#000"/>
<line x1="279.9" y1="169.41" x2="279.9" y2="203.2" stroke="#222" stroke-width="0.9"/>
<line x1="281.3" y1="182.49" x2="281.3" y2="203.2" stroke="#333" stroke-width="0.9"/>
<line x1="282.7" y1="186.85" x2="282.7" y2="203.2" stroke="#777" stroke-width="0.9"/>
<line x1="276.5" y1="187.94" x2="276.5" y2="203.2" stroke="#777" stroke-width="0.9"/>
<line x1="289.7" y1="153.2" x2="289.7" y2="203.2" stroke="#333" stroke-width="1.0"/>
<path d="M288.9,165 L290.6,165 L291.3,180.28 L292.6,192.5 L294.7,203.2 L288.2,203.2 L288.5,187.92Z" fill="#000"/>
<line x1="291.5" y1="179.52" x2="291.5" y2="203.2" stroke="#222" stroke-width="0.9"/>
<line x1="292.9" y1="188.68" x2="292.9" y2="203.2" stroke="#333" stroke-width="0.9"/>
<line x1="294.3" y1="191.74" x2="294.3" y2="203.2" stroke="#777" stroke-width="0.9"/>
<line x1="288.1" y1="192.5" x2="288.1" y2="203.2" stroke="#777" stroke-width="0.9"/>
<line x1="296.7" y1="121.4" x2="296.7" y2="203.2" stroke="#333" stroke-width="1.0"/>
<path d="M295.9,123 L297.6,123 L298.3,155.08 L299.6,180.74 L301.7,203.2 L295.2,203.2 L295.5,171.12Z" fill="#000"/>
<line x1="298.5" y1="153.48" x2="298.5" y2="203.2" stroke="#222" stroke-width="0.9"/>
<line x1="299.9" y1="172.72" x2="299.9" y2="203.2" stroke="#333" stroke-width="0.9"/>
<line x1="301.3" y1="179.14" x2="301.3" y2="203.2" stroke="#777" stroke-width="0.9"/>
<line x1="295.1" y1="180.74" x2="295.1" y2="203.2" stroke="#777" stroke-width="0.9"/>
<line x1="308.9" y1="162" x2="308.9" y2="203.2" stroke="#555" stroke-width="1.0"/>
<line x1="317" y1="100.2" x2="317" y2="203.2" stroke="#333" stroke-width="1.0"/>
<path d="M316.2,118.2 L317.9,118.2 L318.6,152.2 L319.9,179.4 L322,203.2 L315.5,203.2 L315.8,169.2Z" fill="#000"/>
<line x1="318.8" y1="150.5" x2="318.8" y2="203.2" stroke="#222" stroke-width="0.9"/>
<line x1="320.2" y1="170.9" x2="320.2" y2="203.2" stroke="#333" stroke-width="0.9"/>
<line x1="321.6" y1="177.7" x2="321.6" y2="203.2" stroke="#777" stroke-width="0.9"/>
<line x1="315.4" y1="179.4" x2="315.4" y2="203.2" stroke="#777" stroke-width="0.9"/>
<line x1="331.9" y1="151.4" x2="331.9" y2="203.2" stroke="#333" stroke-width="1.0"/>
<path d="M331.1,160 L332.8,160 L333.5,177.28 L334.8,191.1 L336.9,203.2 L330.4,203.2 L330.7,185.92Z" fill="#000"/>
<line x1="333.7" y1="176.42" x2="333.7" y2="203.2" stroke="#222" stroke-width="0.9"/>
<line x1="335.1" y1="186.78" x2="335.1" y2="203.2" stroke="#333" stroke-width="0.9"/>
<line x1="336.5" y1="190.24" x2="336.5" y2="203.2" stroke="#777" stroke-width="0.9"/>
<line x1="330.3" y1="191.1" x2="330.3" y2="203.2" stroke="#777" stroke-width="0.9"/>
<line x1="338.9" y1="94" x2="338.9" y2="203.2" stroke="#333" stroke-width="1.0"/>
<path d="M338.1,129 L339.8,129 L340.5,158.68 L341.8,182.42 L343.9,203.2 L337.4,203.2 L337.7,173.52Z" fill="#000"/>
<line x1="340.7" y1="157.2" x2="340.7" y2="203.2" stroke="#222" stroke-width="0.9"/>
<line x1="342.1" y1="175" x2="342.1" y2="203.2" stroke="#333" stroke-width="0.9"/>
<line x1="343.5" y1="180.94" x2="343.5" y2="203.2" stroke="#777" stroke-width="0.9"/>
<line x1="337.3" y1="182.42" x2="337.3" y2="203.2" stroke="#777" stroke-width="0.9"/>
<line x1="345.7" y1="158.5" x2="345.7" y2="203.2" stroke="#555" stroke-width="1.0"/>
<line x1="348" y1="158.8" x2="348" y2="203.2" stroke="#555" stroke-width="1.0"/>
<line x1="356.2" y1="166" x2="356.2" y2="203.2" stroke="#555" stroke-width="1.0"/>
<line x1="363.9" y1="100.5" x2="363.9" y2="203.2" stroke="#333" stroke-width="1.0"/>
<path d="M363.1,128.3 L364.8,128.3 L365.5,158.26 L366.8,182.23 L368.9,203.2 L362.4,203.2 L362.7,173.24Z" fill="#000"/>
<line x1="365.7" y1="156.76" x2="365.7" y2="203.2" stroke="#222" stroke-width="0.9"/>
<line x1="367.1" y1="174.74" x2="367.1" y2="203.2" stroke="#333" stroke-width="0.9"/>
<line x1="368.5" y1="180.73" x2="368.5" y2="203.2" stroke="#777" stroke-width="0.9"/>
<line x1="362.3" y1="182.23" x2="362.3" y2="203.2" stroke="#777" stroke-width="0.9"/>
<line x1="371.7" y1="151" x2="371.7" y2="203.2" stroke="#555" stroke-width="1.0"/>
<line x1="383" y1="138.2" x2="383" y2="203.2" stroke="#333" stroke-width="1.0"/>
<path d="M382.2,141 L383.9,141 L384.6,165.88 L385.9,185.78 L388,203.2 L381.5,203.2 L381.8,178.32Z" fill="#000"/>
<line x1="384.8" y1="164.64" x2="384.8" y2="203.2" stroke="#222" stroke-width="0.9"/>
<line x1="386.2" y1="179.56" x2="386.2" y2="203.2" stroke="#333" stroke-width="0.9"/>
<line x1="387.6" y1="184.54" x2="387.6" y2="203.2" stroke="#777" stroke-width="0.9"/>
<line x1="381.4" y1="185.78" x2="381.4" y2="203.2" stroke="#777" stroke-width="0.9"/>
<line x1="392" y1="98.7" x2="392" y2="203.2" stroke="#333" stroke-width="1.0"/>
<path d="M391.2,133.7 L392.9,133.7 L393.6,161.5 L394.9,183.74 L397,203.2 L390.5,203.2 L390.8,175.4Z" fill="#000"/>
<line x1="393.8" y1="160.11" x2="393.8" y2="203.2" stroke="#222" stroke-width="0.9"/>
<line x1="395.2" y1="176.79" x2="395.2" y2="203.2" stroke="#333" stroke-width="0.9"/>
<line x1="396.6" y1="182.35" x2="396.6" y2="203.2" stroke="#777" stroke-width="0.9"/>
<line x1="390.4" y1="183.74" x2="390.4" y2="203.2" stroke="#777" stroke-width="0.9"/>
<line x1="406.9" y1="151" x2="406.9" y2="203.2" stroke="#555" stroke-width="1.0"/>
<line x1="422.5" y1="80.8" x2="422.5" y2="203.2" stroke="#333" stroke-width="1.0"/>
<path d="M421.7,112.2 L423.4,112.2 L424.1,148.6 L425.4,177.72 L427.5,203.2 L421,203.2 L421.3,166.8Z" fill="#000"/>
<line x1="424.3" y1="146.78" x2="424.3" y2="203.2" stroke="#222" stroke-width="0.9"/>
<line x1="425.7" y1="168.62" x2="425.7" y2="203.2" stroke="#333" stroke-width="0.9"/>
<line x1="427.1" y1="175.9" x2="427.1" y2="203.2" stroke="#777" stroke-width="0.9"/>
<line x1="420.9" y1="177.72" x2="420.9" y2="203.2" stroke="#777" stroke-width="0.9"/>
<line x1="434.5" y1="147.5" x2="434.5" y2="203.2" stroke="#555" stroke-width="1.0"/>
<line x1="447.3" y1="145" x2="447.3" y2="203.2" stroke="#555" stroke-width="1.0"/>
<line x1="456.5" y1="115.8" x2="456.5" y2="203.2" stroke="#333" stroke-width="1.0"/>
<path d="M455.7,125 L457.4,125 L458.1,156.28 L459.4,181.3 L461.5,203.2 L455,203.2 L455.3,171.92Z" fill="#000"/>
<line x1="458.3" y1="154.72" x2="458.3" y2="203.2" stroke="#222" stroke-width="0.9"/>
<line x1="459.7" y1="173.48" x2="459.7" y2="203.2" stroke="#333" stroke-width="0.9"/>
<line x1="461.1" y1="179.74" x2="461.1" y2="203.2" stroke="#777" stroke-width="0.9"/>
<line x1="454.9" y1="181.3" x2="454.9" y2="203.2" stroke="#777" stroke-width="0.9"/>
<line x1="460.6" y1="161.9" x2="460.6" y2="203.2" stroke="#555" stroke-width="1.0"/>
<line x1="464.8" y1="144" x2="464.8" y2="203.2" stroke="#555" stroke-width="1.0"/>
<line x1="468.2" y1="118" x2="468.2" y2="203.2" stroke="#333" stroke-width="1.0"/>
<path d="M467.4,125 L469.1,125 L469.8,156.28 L471.1,181.3 L473.2,203.2 L466.7,203.2 L467,171.92Z" fill="#000"/>
<line x1="470" y1="154.72" x2="470" y2="203.2" stroke="#222" stroke-width="0.9"/>
<line x1="471.4" y1="173.48" x2="471.4" y2="203.2" stroke="#333" stroke-width="0.9"/>
<line x1="472.8" y1="179.74" x2="472.8" y2="203.2" stroke="#777" stroke-width="0.9"/>
<line x1="466.6" y1="181.3" x2="466.6" y2="203.2" stroke="#777" stroke-width="0.9"/>
<line x1="485.7" y1="152.9" x2="485.7" y2="203.2" stroke="#555" stroke-width="1.0"/>
<line x1="495.6" y1="115.8" x2="495.6" y2="203.2" stroke="#333" stroke-width="1.0"/>
<path d="M494.8,119.7 L496.5,119.7 L497.2,153.1 L498.5,179.82 L500.6,203.2 L494.1,203.2 L494.4,169.8Z" fill="#000"/>
<line x1="497.4" y1="151.43" x2="497.4" y2="203.2" stroke="#222" stroke-width="0.9"/>
<line x1="498.8" y1="171.47" x2="498.8" y2="203.2" stroke="#333" stroke-width="0.9"/>
<line x1="500.2" y1="178.15" x2="500.2" y2="203.2" stroke="#777" stroke-width="0.9"/>
<line x1="494" y1="179.82" x2="494" y2="203.2" stroke="#777" stroke-width="0.9"/>
<line x1="499.2" y1="162.8" x2="499.2" y2="203.2" stroke="#555" stroke-width="1.0"/>
<line x1="515.3" y1="176" x2="515.3" y2="203.2" stroke="#555" stroke-width="1.0"/>
<line x1="518.9" y1="161.5" x2="518.9" y2="203.2" stroke="#555" stroke-width="1.0"/>
<line x1="522.9" y1="154.3" x2="522.9" y2="203.2" stroke="#555" stroke-width="1.0"/>
<line x1="529.7" y1="173.5" x2="529.7" y2="203.2" stroke="#555" stroke-width="1.0"/>
<line x1="540.5" y1="128.7" x2="540.5" y2="203.2" stroke="#333" stroke-width="1.0"/>
<path d="M539.7,128.7 L541.4,128.7 L542.1,158.5 L543.4,182.34 L545.5,203.2 L539,203.2 L539.3,173.4Z" fill="#000"/>
<line x1="542.3" y1="157.01" x2="542.3" y2="203.2" stroke="#222" stroke-width="0.9"/>
<line x1="543.7" y1="174.89" x2="543.7" y2="203.2" stroke="#333" stroke-width="0.9"/>
<line x1="545.1" y1="180.85" x2="545.1" y2="203.2" stroke="#777" stroke-width="0.9"/>
<line x1="538.9" y1="182.34" x2="538.9" y2="203.2" stroke="#777" stroke-width="0.9"/>
<line x1="562.6" y1="151.6" x2="562.6" y2="203.2" stroke="#555" stroke-width="1.0"/>
<line x1="587.8" y1="173.8" x2="587.8" y2="203.2" stroke="#555" stroke-width="1.0"/>
<line x1="592.2" y1="143.3" x2="592.2" y2="203.2" stroke="#333" stroke-width="1.0"/>
<path d="M591.4,149.5 L593.1,149.5 L593.8,170.98 L595.1,188.16 L597.2,203.2 L590.7,203.2 L591,181.72Z" fill="#000"/>
<line x1="594" y1="169.91" x2="594" y2="203.2" stroke="#222" stroke-width="0.9"/>
<line x1="595.4" y1="182.79" x2="595.4" y2="203.2" stroke="#333" stroke-width="0.9"/>
<line x1="596.8" y1="187.09" x2="596.8" y2="203.2" stroke="#777" stroke-width="0.9"/>
<line x1="590.6" y1="188.16" x2="590.6" y2="203.2" stroke="#777" stroke-width="0.9"/>
<line x1="651.2" y1="162.8" x2="651.2" y2="203.2" stroke="#555" stroke-width="1.0"/>
<path d="M23,203.2 L23,199.44 L23.33,198.69 L23.66,198.44 L23.99,199.58 L24.32,199.41 L24.65,197.56 L24.98,199.53 L25.31,199.44 L25.64,197.5 L25.97,198.39 L26.3,198.98 L26.63,198.66 L26.96,198.28 L27.29,199.18 L27.62,199.43 L27.95,197.95 L28.28,198.26 L28.61,198.66 L28.94,197.87 L29.27,198.57 L29.6,197.41 L29.93,199.31 L30.26,198.56 L30.59,198.72 L30.92,199.02 L31.25,198.46 L31.58,199.26 L31.91,197.91 L32.24,197.73 L32.57,199.44 L32.9,198.76 L33.23,199.18 L33.56,199.51 L33.89,197.65 L34.22,198.85 L34.55,199.41 L34.88,198.25 L35.21,199.32 L35.54,197.63 L35.87,199.29 L36.2,199.57 L36.53,199.32 L36.86,199.03 L37.19,198.76 L37.52,197.62 L37.85,198.19 L38.18,199.05 L38.51,199.59 L38.84,199.39 L39.17,197.36 L39.5,198.78 L39.83,198.21 L40.16,199.55 L40.49,199.57 L40.82,197.79 L41.15,198.47 L41.48,199.11 L41.81,199.09 L42.14,199.5 L42.47,199.37 L42.8,199.58 L43.13,197.81 L43.46,198.77 L43.79,199.45 L44.12,198.08 L44.45,199.33 L44.78,199.54 L45.11,198.45 L45.44,197.65 L45.77,199.58 L46.1,197.9 L46.43,199.34 L46.76,199.5 L47.09,199.59 L47.42,199.14 L47.75,198.11 L48.08,198.7 L48.41,197.77 L48.74,199.29 L49.07,199.1 L49.4,199.21 L49.73,197.41 L50.06,197.52 L50.39,199.05 L50.72,198.84 L51.05,199.1 L51.38,198.06 L51.71,199.57 L52.04,199.53 L52.37,198.91 L52.7,199.24 L53.03,197.79 L53.36,198.07 L53.69,198.58 L54.02,198.29 L54.35,198.21 L54.68,197.97 L55.01,197.56 L55.34,199.41 L55.67,198.38 L56,199.42 L56.33,198.82 L56.66,197.95 L56.99,197.65 L57.32,198.03 L57.65,199.57 L57.98,199.01 L58.31,199.39 L58.64,197.35 L58.97,199.42 L59.3,199.24 L59.63,199.01 L59.96,199.54 L60.29,197.69 L60.62,198.3 L60.95,199.33 L61.28,198.59 L61.61,199.42 L61.94,198.26 L62.27,199.11 L62.6,199.41 L62.93,199.28 L63.26,198.3 L63.59,198.05 L63.92,198.8 L64.25,197.98 L64.58,198.7 L64.91,199.13 L65.24,198.73 L65.57,198.52 L65.9,197.04 L66.23,199.07 L66.56,199.1 L66.89,197.99 L67.22,196.75 L67.55,196.9 L67.88,197.51 L68.21,199.02 L68.54,197.13 L68.87,197.48 L69.2,198.83 L69.53,198.05 L69.86,198.94 L70.19,197 L70.52,197.23 L70.85,196.93 L71.18,197.04 L71.51,198.41 L71.84,196.89 L72.17,198.41 L72.5,198.63 L72.83,198.01 L73.16,197.68 L73.49,198.23 L73.82,197.31 L74.15,197.29 L74.48,198.28 L74.81,197.17 L75.14,197.93 L75.47,196.75 L75.8,198.06 L76.13,196.47 L76.46,197.67 L76.79,197.23 L77.12,196.82 L77.45,197.29 L77.78,198.01 L78.11,195.63 L78.44,198.33 L78.77,197.76 L79.1,197.06 L79.43,198.38 L79.76,198.12 L80.09,196.11 L80.42,196.14 L80.75,196.64 L81.08,195.64 L81.41,196.16 L81.74,197.63 L82.07,196.5 L82.4,197.46 L82.73,196.06 L83.06,197.28 L83.39,197.89 L83.72,195.49 L84.05,196.17 L84.38,195.94 L84.71,196.59 L85.04,195.73 L85.37,196.91 L85.7,196.49 L86.03,197.92 L86.36,196.47 L86.69,195.46 L87.02,195.86 L87.35,195.45 L87.68,196.58 L88.01,195.07 L88.34,197.68 L88.67,195.03 L89,196.9 L89.33,197.66 L89.66,195.97 L89.99,196.54 L90.32,196.61 L90.65,194.95 L90.98,197.44 L91.31,195.84 L91.64,196.56 L91.97,196.13 L92.3,196.21 L92.63,197.35 L92.96,196.11 L93.29,194.66 L93.62,197.19 L93.95,197.51 L94.28,197.39 L94.61,196.18 L94.94,193.99 L95.27,197.38 L95.6,193.85 L95.93,195.79 L96.26,197.15 L96.59,196.18 L96.92,196.87 L97.25,194.95 L97.58,195.64 L97.91,196.55 L98.24,196.63 L98.57,194.15 L98.9,194.58 L99.23,195.92 L99.56,196.01 L99.89,194.62 L100.22,193.49 L100.55,196.98 L100.88,196.75 L101.21,196.06 L101.54,195.47 L101.87,196.91 L102.2,196.93 L102.53,196.46 L102.86,195.85 L103.19,194.32 L103.52,194.88 L103.85,196.88 L104.18,196.83 L104.51,195.47 L104.84,193.52 L105.17,193.29 L105.5,195.74 L105.83,193.37 L106.16,193.13 L106.49,195.5 L106.82,193.97 L107.15,195.62 L107.48,196.34 L107.81,194.69 L108.14,196.48 L108.47,194.23 L108.8,193.49 L109.13,192.91 L109.46,195.11 L109.79,196.3 L110.12,192.89 L110.45,193.02 L110.78,192.48 L111.11,194.34 L111.44,193.93 L111.77,195.26 L112.1,195.94 L112.43,195.53 L112.76,193.58 L113.09,195.36 L113.42,193.67 L113.75,194.55 L114.08,194.77 L114.41,192.12 L114.74,195.83 L115.07,194.52 L115.4,195.81 L115.73,192.16 L116.06,194.44 L116.39,195.1 L116.72,195.69 L117.05,193.86 L117.38,194.74 L117.71,195.76 L118.04,196 L118.37,194.7 L118.7,193.78 L119.03,194.07 L119.36,192.03 L119.69,191.93 L120.02,191.75 L120.35,192.5 L120.68,194.14 L121.01,193.89 L121.34,194.46 L121.67,194.43 L122,195.73 L122.33,192.32 L122.66,195.01 L122.99,195.7 L123.32,193.99 L123.65,192.66 L123.98,194.09 L124.31,194.4 L124.64,192.9 L124.97,195.18 L125.3,195.59 L125.63,193.17 L125.96,193.47 L126.29,191.57 L126.62,193.99 L126.95,191.98 L127.28,195.46 L127.61,195.42 L127.94,192.95 L128.27,194.72 L128.6,195.26 L128.93,195.04 L129.26,193.99 L129.59,194.15 L129.92,192.98 L130.25,191.04 L130.58,193.93 L130.91,194.72 L131.24,192.83 L131.57,195.26 L131.9,193.82 L132.23,194.13 L132.56,193.79 L132.89,195.13 L133.22,192.92 L133.55,192.53 L133.88,191.8 L134.21,190.51 L134.54,193.92 L134.87,192.32 L135.2,193.48 L135.53,194.52 L135.86,190.9 L136.19,191.77 L136.52,190.55 L136.85,191.3 L137.18,190.69 L137.51,194.83 L137.84,195.14 L138.17,194.55 L138.5,193.57 L138.83,192.06 L139.16,193.43 L139.49,193.03 L139.82,191.61 L140.15,194.97 L140.48,192.08 L140.81,195.02 L141.14,194.29 L141.47,191.8 L141.8,192.03 L142.13,193.54 L142.46,194.07 L142.79,191.13 L143.12,194.15 L143.45,195.03 L143.78,194.26 L144.11,195.04 L144.44,191.21 L144.77,194.74 L145.1,190.15 L145.43,194.38 L145.76,193.96 L146.09,192.51 L146.42,193.94 L146.75,193.59 L147.08,194.76 L147.41,193.53 L147.74,194.98 L148.07,194.29 L148.4,190.49 L148.73,194.03 L149.06,194.07 L149.39,191.9 L149.72,190.63 L150.05,193.94 L150.38,193.55 L150.71,191.66 L151.04,191.18 L151.37,192.25 L151.7,194.42 L152.03,194.41 L152.36,191.37 L152.69,191.67 L153.02,190.48 L153.35,191.21 L153.68,193.26 L154.01,194.56 L154.34,190.48 L154.67,191.7 L155,192.39 L155.33,191.77 L155.66,193.41 L155.99,193.61 L156.32,192.37 L156.65,192.88 L156.98,191.57 L157.31,190.12 L157.64,190.69 L157.97,193.36 L158.3,193.43 L158.63,190.15 L158.96,193.31 L159.29,190.96 L159.62,194.62 L159.95,192.99 L160.28,192.63 L160.61,190.87 L160.94,190.42 L161.27,194.38 L161.6,192.03 L161.93,191.95 L162.26,194.36 L162.59,190.67 L162.92,192.37 L163.25,189.81 L163.58,194.21 L163.91,192.52 L164.24,193.57 L164.57,191.82 L164.9,192.02 L165.23,192.56 L165.56,193.55 L165.89,192.6 L166.22,193.3 L166.55,190.21 L166.88,192.82 L167.21,192.74 L167.54,193.83 L167.87,193.84 L168.2,189.75 L168.53,193.55 L168.86,190.31 L169.19,192.02 L169.52,189.54 L169.85,194.2 L170.18,189.79 L170.51,190.9 L170.84,192.14 L171.17,191.29 L171.5,191.19 L171.83,192.8 L172.16,191.72 L172.49,193.89 L172.82,194.63 L173.15,191.45 L173.48,192.63 L173.81,189.95 L174.14,193.7 L174.47,190.52 L174.8,189.38 L175.13,189.97 L175.46,189.51 L175.79,194.13 L176.12,194.1 L176.45,193.82 L176.78,193.18 L177.11,194.28 L177.44,194.14 L177.77,194.56 L178.1,189.67 L178.43,193.15 L178.76,191.65 L179.09,192.64 L179.42,190.9 L179.75,190.48 L180.08,193.01 L180.41,192.16 L180.74,194.29 L181.07,193.48 L181.4,193.77 L181.73,193.36 L182.06,193.28 L182.39,191.89 L182.72,193.22 L183.05,193.25 L183.38,190.24 L183.71,194.49 L184.04,194.5 L184.37,194.37 L184.7,189.98 L185.03,191.48 L185.36,190.88 L185.69,189.32 L186.02,193.72 L186.35,189.57 L186.68,193.6 L187.01,192.13 L187.34,191.14 L187.67,190.38 L188,193.55 L188.33,192.35 L188.66,194.34 L188.99,193.34 L189.32,189.08 L189.65,189.6 L189.98,191.7 L190.31,190.39 L190.64,189.6 L190.97,193.09 L191.3,189.03 L191.63,192.45 L191.96,193.88 L192.29,191.97 L192.62,191.58 L192.95,190.95 L193.28,191.08 L193.61,194.28 L193.94,191.27 L194.27,189.38 L194.6,191.06 L194.93,188.99 L195.26,192.02 L195.59,190.12 L195.92,193.9 L196.25,189.52 L196.58,192.43 L196.91,189.64 L197.24,193.04 L197.57,191.29 L197.9,189.82 L198.23,190.72 L198.56,191.3 L198.89,188.93 L199.22,194.05 L199.55,193.99 L199.88,191.7 L200.21,189.01 L200.54,190.84 L200.87,193.04 L201.2,193.95 L201.53,192.28 L201.86,192.09 L202.19,192.15 L202.52,191.23 L202.85,193.2 L203.18,189.47 L203.51,193.11 L203.84,193.91 L204.17,192.78 L204.5,189.05 L204.83,193.69 L205.16,193.13 L205.49,189.09 L205.82,192.76 L206.15,189.67 L206.48,194.08 L206.81,189.34 L207.14,193.3 L207.47,193.55 L207.8,190.32 L208.13,188.58 L208.46,188.79 L208.79,190.24 L209.12,189.1 L209.45,188.57 L209.78,191.51 L210.11,193.67 L210.44,189.53 L210.77,192.41 L211.1,192.86 L211.43,191.79 L211.76,194.03 L212.09,194.07 L212.42,193.08 L212.75,191.18 L213.08,190.17 L213.41,188.69 L213.74,189.68 L214.07,188.8 L214.4,190.89 L214.73,190.24 L215.06,191.19 L215.39,193.83 L215.72,193.89 L216.05,190.03 L216.38,193.32 L216.71,189.81 L217.04,191.91 L217.37,194.01 L217.7,191.31 L218.03,192.02 L218.36,193.81 L218.69,193 L219.02,192.76 L219.35,192.55 L219.68,190.32 L220.01,193.42 L220.34,191.92 L220.67,190.83 L221,188.36 L221.33,193.41 L221.66,193.49 L221.99,192.96 L222.32,192.76 L222.65,192.98 L222.98,193.28 L223.31,192.64 L223.64,192.51 L223.97,190.95 L224.3,189.74 L224.63,191.54 L224.96,192.54 L225.29,192.81 L225.62,191.94 L225.95,192.36 L226.28,190.47 L226.61,187.5 L226.94,188.64 L227.27,191.96 L227.6,192.64 L227.93,192.47 L228.26,190.37 L228.59,190.78 L228.92,188.44 L229.25,192.18 L229.58,191.26 L229.91,188.19 L230.24,189.02 L230.57,189.33 L230.9,186.16 L231.23,191.72 L231.56,191.24 L231.89,188.68 L232.22,188.61 L232.55,185.03 L232.88,184.97 L233.21,188.23 L233.54,186.74 L233.87,187.18 L234.2,191.11 L234.53,187.82 L234.86,189.96 L235.19,189.53 L235.52,190.75 L235.85,191.34 L236.18,185.25 L236.51,186.4 L236.84,186.01 L237.17,189.65 L237.5,188.65 L237.83,190.24 L238.16,187.03 L238.49,184.81 L238.82,185.3 L239.15,183.73 L239.48,189.41 L239.81,185.78 L240.14,190.11 L240.47,187.09 L240.8,190.09 L241.13,186.91 L241.46,186.83 L241.79,188.35 L242.12,188.27 L242.45,185.08 L242.78,187.08 L243.11,187.62 L243.44,189.62 L243.77,188.46 L244.1,183.34 L244.43,181.95 L244.76,187.57 L245.09,182.93 L245.42,182.9 L245.75,188.73 L246.08,188.33 L246.41,184.68 L246.74,188.09 L247.07,182.04 L247.4,187.63 L247.73,184.35 L248.06,184.57 L248.39,188.76 L248.72,182.98 L249.05,187.92 L249.38,189.41 L249.71,189.71 L250.04,186.92 L250.37,185.29 L250.7,188.35 L251.03,183.22 L251.36,188.38 L251.69,183.17 L252.02,189.78 L252.35,188.42 L252.68,189.11 L253.01,186.95 L253.34,187.75 L253.67,187.39 L254,183.12 L254.33,185.78 L254.66,185.54 L254.99,187.43 L255.32,183.57 L255.65,186.48 L255.98,184.19 L256.31,182.47 L256.64,185.48 L256.97,187.06 L257.3,188.41 L257.63,182.49 L257.96,184 L258.29,183.66 L258.62,188.71 L258.95,187.04 L259.28,182.79 L259.61,188.54 L259.94,183.51 L260.27,186.16 L260.6,188.73 L260.93,187.55 L261.26,189.59 L261.59,184.9 L261.92,184.38 L262.25,189.8 L262.58,188.13 L262.91,183.97 L263.24,188.85 L263.57,186.17 L263.9,183.59 L264.23,185.87 L264.56,189.34 L264.89,182.52 L265.22,184.19 L265.55,185.92 L265.88,187.89 L266.21,185.76 L266.54,187.42 L266.87,189.36 L267.2,189.34 L267.53,189.73 L267.86,189.05 L268.19,188.54 L268.52,185.26 L268.85,185.78 L269.18,185.68 L269.51,183.43 L269.84,189.49 L270.17,187.44 L270.5,189.57 L270.83,187.19 L271.16,189.57 L271.49,189.64 L271.82,189.44 L272.15,187.43 L272.48,184.02 L272.81,188.27 L273.14,184.23 L273.47,188.63 L273.8,188.24 L274.13,186.75 L274.46,189.59 L274.79,186.94 L275.12,185.75 L275.45,183.4 L275.78,189.68 L276.11,183.65 L276.44,185.87 L276.77,185.79 L277.1,189.71 L277.43,182.83 L277.76,188.31 L278.09,186.08 L278.42,186.16 L278.75,182.51 L279.08,185.58 L279.41,181.65 L279.74,188.63 L280.07,185.01 L280.4,185.81 L280.73,186.38 L281.06,185.34 L281.39,186.05 L281.72,187.86 L282.05,185.2 L282.38,189.55 L282.71,186.68 L283.04,186.91 L283.37,188.76 L283.7,185.89 L284.03,184.93 L284.36,189.32 L284.69,188.16 L285.02,189.66 L285.35,185.62 L285.68,189.56 L286.01,188.65 L286.34,186.95 L286.67,186.92 L287,189.78 L287.33,182.12 L287.66,188.65 L287.99,185.5 L288.32,188.7 L288.65,185.63 L288.98,187.73 L289.31,188 L289.64,186.72 L289.97,185.72 L290.3,185.61 L290.63,184.76 L290.96,188.37 L291.29,189.51 L291.62,188.48 L291.95,187.94 L292.28,185.53 L292.61,187.23 L292.94,188.05 L293.27,189.47 L293.6,185.63 L293.93,189.41 L294.26,186.35 L294.59,184.76 L294.92,185.38 L295.25,189.11 L295.58,187.71 L295.91,182.19 L296.24,189.51 L296.57,184.85 L296.9,187.05 L297.23,185.47 L297.56,187.4 L297.89,189.33 L298.22,185.94 L298.55,189.87 L298.88,183 L299.21,183.66 L299.54,187.56 L299.87,186.17 L300.2,186.26 L300.53,181.77 L300.86,189.74 L301.19,188.16 L301.52,187.29 L301.85,183.78 L302.18,184.35 L302.51,187.16 L302.84,189.85 L303.17,185.14 L303.5,187.29 L303.83,189.37 L304.16,185.3 L304.49,186.98 L304.82,188.09 L305.15,188.37 L305.48,186.31 L305.81,188.52 L306.14,187.41 L306.47,182.18 L306.8,186.69 L307.13,188.48 L307.46,186.31 L307.79,182.44 L308.12,182.97 L308.45,184.86 L308.78,182.63 L309.11,184.09 L309.44,184.84 L309.77,187.12 L310.1,189.18 L310.43,184.33 L310.76,185.27 L311.09,181.9 L311.42,187.98 L311.75,182.86 L312.08,188.73 L312.41,182.13 L312.74,181.6 L313.07,189.72 L313.4,187.95 L313.73,181.57 L314.06,181.9 L314.39,184.93 L314.72,189.27 L315.05,189.87 L315.38,188.51 L315.71,182.15 L316.04,183.6 L316.37,187.11 L316.7,184.04 L317.03,182.6 L317.36,188.14 L317.69,182.89 L318.02,188.37 L318.35,187.92 L318.68,189.73 L319.01,189.11 L319.34,186.05 L319.67,189.81 L320,186.09 L320.33,189.05 L320.66,184.16 L320.99,189.3 L321.32,188.81 L321.65,188.37 L321.98,185.75 L322.31,183.57 L322.64,184.12 L322.97,184.24 L323.3,184.82 L323.63,186.11 L323.96,187.81 L324.29,188.99 L324.62,183 L324.95,187.27 L325.28,185.12 L325.61,189.63 L325.94,187.67 L326.27,189.46 L326.6,187.72 L326.93,184.32 L327.26,187.82 L327.59,184.82 L327.92,189.33 L328.25,187.47 L328.58,187.27 L328.91,186.42 L329.24,188.66 L329.57,184.66 L329.9,182.81 L330.23,183.52 L330.56,189.79 L330.89,186.6 L331.22,187.8 L331.55,185.85 L331.88,189.55 L332.21,184.35 L332.54,187.21 L332.87,182.16 L333.2,189.83 L333.53,187.2 L333.86,186.62 L334.19,183.33 L334.52,184.09 L334.85,188.97 L335.18,188.08 L335.51,184.29 L335.84,187.19 L336.17,188.41 L336.5,182.3 L336.83,183.21 L337.16,187.71 L337.49,186.06 L337.82,182.31 L338.15,188.74 L338.48,182.52 L338.81,182.78 L339.14,184.38 L339.47,184.78 L339.8,184.79 L340.13,186.11 L340.46,185.76 L340.79,188.87 L341.12,185.94 L341.45,184.91 L341.78,186.63 L342.11,184.84 L342.44,186.86 L342.77,183.62 L343.1,184.44 L343.43,189.52 L343.76,183.96 L344.09,188.25 L344.42,189.56 L344.75,189.34 L345.08,187.96 L345.41,186.28 L345.74,187.91 L346.07,188.83 L346.4,183.96 L346.73,187.56 L347.06,182.89 L347.39,188.55 L347.72,184.74 L348.05,187.69 L348.38,183.14 L348.71,185.16 L349.04,184.85 L349.37,189.5 L349.7,184.14 L350.03,187.72 L350.36,184.25 L350.69,183.19 L351.02,189.34 L351.35,189.84 L351.68,184.07 L352.01,181.89 L352.34,182.62 L352.67,187.05 L353,183.31 L353.33,189.82 L353.66,189.67 L353.99,185.77 L354.32,186.25 L354.65,183.4 L354.98,188.62 L355.31,186.82 L355.64,181.67 L355.97,188.12 L356.3,187.31 L356.63,185.52 L356.96,181.61 L357.29,188.97 L357.62,184.73 L357.95,187.23 L358.28,187.34 L358.61,188.46 L358.94,186.8 L359.27,185.83 L359.6,187.41 L359.93,186.45 L360.26,185.26 L360.59,183.12 L360.92,185.95 L361.25,187.49 L361.58,181.97 L361.91,189.03 L362.24,189.73 L362.57,182.53 L362.9,188.39 L363.23,189.16 L363.56,187.47 L363.89,187.81 L364.22,187.72 L364.55,183.13 L364.88,188.21 L365.21,189.28 L365.54,188.75 L365.87,182.1 L366.2,187.11 L366.53,187.67 L366.86,183.88 L367.19,182.25 L367.52,186.41 L367.85,183.5 L368.18,188.4 L368.51,187.75 L368.84,185.81 L369.17,188.6 L369.5,188.32 L369.83,188.94 L370.16,188.42 L370.49,183.25 L370.82,183.7 L371.15,189.39 L371.48,187.76 L371.81,184.43 L372.14,183.04 L372.47,185.96 L372.8,184.38 L373.13,188.6 L373.46,183.83 L373.79,183.44 L374.12,187.29 L374.45,188.61 L374.78,189.78 L375.11,185.32 L375.44,185.29 L375.77,189.88 L376.1,186.32 L376.43,182.21 L376.76,189.8 L377.09,189.25 L377.42,189.68 L377.75,187.05 L378.08,187.47 L378.41,182.93 L378.74,189.63 L379.07,188.85 L379.4,182.22 L379.73,189.83 L380.06,188.44 L380.39,187.4 L380.72,189.88 L381.05,188.24 L381.38,185.57 L381.71,185.45 L382.04,185.51 L382.37,185.12 L382.7,185.46 L383.03,189.78 L383.36,185.08 L383.69,185.74 L384.02,188.73 L384.35,187.19 L384.68,188.59 L385.01,182.95 L385.34,188.3 L385.67,189.09 L386,183.69 L386.33,184.04 L386.66,183.12 L386.99,184.86 L387.32,187.21 L387.65,186.71 L387.98,186.01 L388.31,185.63 L388.64,182.14 L388.97,188.4 L389.3,183.97 L389.63,189.84 L389.96,188.92 L390.29,182.15 L390.62,188.5 L390.95,186.4 L391.28,182.45 L391.61,185.08 L391.94,186.6 L392.27,184.63 L392.6,181.79 L392.93,182.19 L393.26,188.98 L393.59,189.23 L393.92,188.23 L394.25,189.2 L394.58,184.01 L394.91,183.31 L395.24,189.23 L395.57,189.6 L395.9,187.96 L396.23,184.77 L396.56,183.95 L396.89,186.84 L397.22,185.23 L397.55,182.44 L397.88,182.83 L398.21,189.36 L398.54,184.51 L398.87,183.89 L399.2,182.54 L399.53,187.2 L399.86,189.14 L400.19,186.73 L400.52,187.59 L400.85,187.4 L401.18,183.62 L401.51,185.11 L401.84,184.84 L402.17,185.1 L402.5,189.22 L402.83,189.67 L403.16,187.39 L403.49,183.14 L403.82,185.14 L404.15,183.74 L404.48,185.38 L404.81,183.81 L405.14,181.6 L405.47,184.51 L405.8,183.02 L406.13,181.85 L406.46,184.25 L406.79,183.52 L407.12,189.57 L407.45,189.77 L407.78,182.37 L408.11,188.59 L408.44,188.1 L408.77,189.26 L409.1,185.27 L409.43,189.79 L409.76,183.66 L410.09,188.15 L410.42,184.21 L410.75,182.51 L411.08,184.74 L411.41,187.15 L411.74,185.36 L412.07,183.09 L412.4,184.53 L412.73,188.49 L413.06,189.87 L413.39,182.83 L413.72,185.38 L414.05,189.65 L414.38,186.04 L414.71,185.7 L415.04,188.19 L415.37,182.77 L415.7,188.58 L416.03,189.21 L416.36,188.07 L416.69,187.84 L417.02,182.79 L417.35,185.06 L417.68,189.34 L418.01,187.4 L418.34,189.45 L418.67,184.59 L419,183.09 L419.33,189.5 L419.66,186.5 L419.99,188.55 L420.32,188.25 L420.65,184.18 L420.98,181.8 L421.31,188.3 L421.64,186.12 L421.97,188.06 L422.3,189.66 L422.63,185.57 L422.96,189.14 L423.29,184.76 L423.62,184.18 L423.95,189.22 L424.28,185.63 L424.61,188.8 L424.94,184.02 L425.27,188.24 L425.6,184.75 L425.93,185.14 L426.26,185.82 L426.59,188.73 L426.92,183.3 L427.25,187.72 L427.58,183.95 L427.91,186.72 L428.24,186.95 L428.57,184.52 L428.9,187.83 L429.23,184.02 L429.56,186.97 L429.89,184.25 L430.22,184.67 L430.55,182.14 L430.88,187.28 L431.21,187.76 L431.54,181.61 L431.87,186.35 L432.2,187.2 L432.53,184.64 L432.86,188.51 L433.19,182.01 L433.52,184.11 L433.85,185.13 L434.18,188.2 L434.51,183.56 L434.84,182.42 L435.17,183.74 L435.5,182.49 L435.83,189.5 L436.16,184.24 L436.49,182.97 L436.82,186.71 L437.15,189.57 L437.48,186.12 L437.81,188.56 L438.14,189.78 L438.47,182.24 L438.8,183.32 L439.13,185.27 L439.46,184.17 L439.79,184.92 L440.12,186.82 L440.45,189.34 L440.78,188.22 L441.11,186.45 L441.44,185.76 L441.77,188.13 L442.1,189.31 L442.43,187.81 L442.76,188.95 L443.09,182.3 L443.42,188.71 L443.75,187.4 L444.08,186.13 L444.41,188.49 L444.74,186.54 L445.07,186.03 L445.4,189.71 L445.73,182.12 L446.06,186.16 L446.39,189.2 L446.72,181.74 L447.05,189.06 L447.38,184.38 L447.71,186.65 L448.04,188.45 L448.37,187.52 L448.7,186.66 L449.03,187.59 L449.36,188.53 L449.69,187.22 L450.02,187.05 L450.35,184.76 L450.68,188.87 L451.01,189.73 L451.34,183.31 L451.67,189.62 L452,185.3 L452.33,186.06 L452.66,181.82 L452.99,188.92 L453.32,182.75 L453.65,189.29 L453.98,189.04 L454.31,185.09 L454.64,189.08 L454.97,185.72 L455.3,184.89 L455.63,189.32 L455.96,183.75 L456.29,187.16 L456.62,181.91 L456.95,189.86 L457.28,189.57 L457.61,185.41 L457.94,188.46 L458.27,187.33 L458.6,182.53 L458.93,187.8 L459.26,189.71 L459.59,189.22 L459.92,186 L460.25,185.47 L460.58,185.63 L460.91,188.08 L461.24,189.77 L461.57,190.43 L461.9,189.87 L462.23,190.01 L462.56,184.22 L462.89,188.58 L463.22,190.49 L463.55,186.69 L463.88,188.19 L464.21,190.88 L464.54,183.51 L464.87,183.84 L465.2,189.62 L465.53,184.93 L465.86,188.21 L466.19,186.38 L466.52,186.56 L466.85,185.86 L467.18,188.32 L467.51,190.33 L467.84,185.2 L468.17,188.33 L468.5,188.31 L468.83,185.61 L469.16,186.28 L469.49,183.42 L469.82,188.73 L470.15,186.72 L470.48,190.66 L470.81,190.51 L471.14,189.67 L471.47,189.5 L471.8,188.28 L472.13,189.84 L472.46,183.94 L472.79,188.42 L473.12,188.77 L473.45,184.27 L473.78,185.28 L474.11,185.51 L474.44,184.15 L474.77,185.82 L475.1,189.32 L475.43,183.69 L475.76,190.89 L476.09,184.32 L476.42,188.49 L476.75,189.09 L477.08,188.06 L477.41,188.64 L477.74,184.67 L478.07,185.18 L478.4,185.73 L478.73,189.81 L479.06,188.33 L479.39,190.7 L479.72,185.77 L480.05,190.84 L480.38,188.67 L480.71,190.3 L481.04,184.75 L481.37,184.11 L481.7,189.43 L482.03,184.55 L482.36,190.15 L482.69,186.05 L483.02,189.69 L483.35,188.29 L483.68,186.93 L484.01,189 L484.34,190.03 L484.67,187.13 L485,185.29 L485.33,183.35 L485.66,189.2 L485.99,189.65 L486.32,190.69 L486.65,189.99 L486.98,190.89 L487.31,189.7 L487.64,185.91 L487.97,190.5 L488.3,186.62 L488.63,189.4 L488.96,189.84 L489.29,187.99 L489.62,188.36 L489.95,188.28 L490.28,190.49 L490.61,187.32 L490.94,184.27 L491.27,190.94 L491.6,190.67 L491.93,187.14 L492.26,189.23 L492.59,189.69 L492.92,183.43 L493.25,189.3 L493.58,184.09 L493.91,186.88 L494.24,190.88 L494.57,189.59 L494.9,190.69 L495.23,187.54 L495.56,184.21 L495.89,190.79 L496.22,190.89 L496.55,190.88 L496.88,189.55 L497.21,190.22 L497.54,183.62 L497.87,185.47 L498.2,183.91 L498.53,187.19 L498.86,185.04 L499.19,186.07 L499.52,189.42 L499.85,186.57 L500.18,189.43 L500.51,188.14 L500.84,185.02 L501.17,189.89 L501.5,190.17 L501.83,184.75 L502.16,188.15 L502.49,190.17 L502.82,189.24 L503.15,189.49 L503.48,184.33 L503.81,188.07 L504.14,184.09 L504.47,188.09 L504.8,183.91 L505.13,184.13 L505.46,187.3 L505.79,185.36 L506.12,189.45 L506.45,190.5 L506.78,186.99 L507.11,190.78 L507.44,188.11 L507.77,186.85 L508.1,185.54 L508.43,184.32 L508.76,189.99 L509.09,184.62 L509.42,187.88 L509.75,186.83 L510.08,188.16 L510.41,184.79 L510.74,189.36 L511.07,190.95 L511.4,184.96 L511.73,186.49 L512.06,186 L512.39,190.45 L512.72,189.98 L513.05,186.8 L513.38,185.72 L513.71,186.49 L514.04,187.06 L514.37,186.55 L514.7,190.32 L515.03,188.25 L515.36,189.15 L515.69,185.82 L516.02,187.71 L516.35,185.97 L516.68,186.19 L517.01,184.24 L517.34,184.71 L517.67,190.8 L518,186.43 L518.33,188.83 L518.66,190.57 L518.99,188.03 L519.32,184.83 L519.65,185.27 L519.98,190.55 L520.31,190 L520.64,186.19 L520.97,183.62 L521.3,190.69 L521.63,190.63 L521.96,186.19 L522.29,186.89 L522.62,185.13 L522.95,190.03 L523.28,187.9 L523.61,185.23 L523.94,188.77 L524.27,188.64 L524.6,190.87 L524.93,185.26 L525.26,188.28 L525.59,188.8 L525.92,186.54 L526.25,184.74 L526.58,184.61 L526.91,189.06 L527.24,186.95 L527.57,188.73 L527.9,184.87 L528.23,185.3 L528.56,186.49 L528.89,185.02 L529.22,187.77 L529.55,187.27 L529.88,190.24 L530.21,186.08 L530.54,189.44 L530.87,187.34 L531.2,190.96 L531.53,188.65 L531.86,186.89 L532.19,186.76 L532.52,187.33 L532.85,189.68 L533.18,186.55 L533.51,186.49 L533.84,187.11 L534.17,188.81 L534.5,190.3 L534.83,187.39 L535.16,190.8 L535.49,184.13 L535.82,188.99 L536.15,189.48 L536.48,188.25 L536.81,190.56 L537.14,184.44 L537.47,183.51 L537.8,185.02 L538.13,187.24 L538.46,183.89 L538.79,189.15 L539.12,188.13 L539.45,190.19 L539.78,188.45 L540.11,184.02 L540.44,186.47 L540.77,187.48 L541.1,187.56 L541.43,186.72 L541.76,186.94 L542.09,188.23 L542.42,187.77 L542.75,190.57 L543.08,188.3 L543.41,186.37 L543.74,189.87 L544.07,189.52 L544.4,185.19 L544.73,190.39 L545.06,190.04 L545.39,185.06 L545.72,190.47 L546.05,189.36 L546.38,184.19 L546.71,188.54 L547.04,185.07 L547.37,185.56 L547.7,190.91 L548.03,189.89 L548.36,184.17 L548.69,189.21 L549.02,188.61 L549.35,183.95 L549.68,190.53 L550.01,183.59 L550.34,186.62 L550.67,186.78 L551,190.96 L551.33,186.76 L551.66,185.03 L551.99,188.68 L552.32,190.7 L552.65,190.41 L552.98,190.68 L553.31,188.52 L553.64,185.08 L553.97,190.77 L554.3,188.59 L554.63,188.63 L554.96,188.65 L555.29,187.64 L555.62,187.57 L555.95,189.99 L556.28,185.29 L556.61,187.71 L556.94,188.99 L557.27,183.66 L557.6,186.1 L557.93,190.24 L558.26,183.62 L558.59,187.21 L558.92,189.08 L559.25,189.78 L559.58,190.73 L559.91,189.74 L560.24,190.65 L560.57,190.3 L560.9,185.17 L561.23,188.51 L561.56,191.22 L561.89,190.12 L562.22,189.69 L562.55,191.76 L562.88,189.44 L563.21,189.15 L563.54,185.87 L563.87,189.69 L564.2,187.75 L564.53,187.82 L564.86,191.32 L565.19,188.7 L565.52,189.58 L565.85,191.38 L566.18,191.99 L566.51,185.1 L566.84,191.73 L567.17,186.08 L567.5,190.15 L567.83,191.77 L568.16,185.38 L568.49,187.97 L568.82,189.89 L569.15,186.5 L569.48,187.59 L569.81,189.81 L570.14,187.51 L570.47,187.34 L570.8,191.33 L571.13,187.52 L571.46,185.81 L571.79,187.75 L572.12,186.83 L572.45,185.16 L572.78,186.85 L573.11,189.43 L573.44,188.74 L573.77,187.1 L574.1,188.2 L574.43,191.82 L574.76,191.86 L575.09,190.75 L575.42,186.67 L575.75,191.06 L576.08,190.46 L576.41,186.62 L576.74,191.55 L577.07,190.71 L577.4,190.85 L577.73,191.91 L578.06,187.3 L578.39,190.45 L578.72,189.87 L579.05,190.37 L579.38,191.84 L579.71,186.44 L580.04,191.53 L580.37,190.67 L580.7,187.48 L581.03,190.27 L581.36,189.16 L581.69,190.39 L582.02,188.76 L582.35,190.47 L582.68,189.52 L583.01,192.02 L583.34,192.01 L583.67,189.16 L584,186.68 L584.33,185.08 L584.66,186.79 L584.99,189.03 L585.32,188.1 L585.65,187.88 L585.98,187.41 L586.31,185.14 L586.64,190.3 L586.97,189.6 L587.3,187 L587.63,191.09 L587.96,191.71 L588.29,185.97 L588.62,192.01 L588.95,186.01 L589.28,185.83 L589.61,191.37 L589.94,187.2 L590.27,190.65 L590.6,190.76 L590.93,185.21 L591.26,186.07 L591.59,187.12 L591.92,189.67 L592.25,185.19 L592.58,188.68 L592.91,185.25 L593.24,187.48 L593.57,191.91 L593.9,186.84 L594.23,186.5 L594.56,186.12 L594.89,188.28 L595.22,191.94 L595.55,186.24 L595.88,189.77 L596.21,191.2 L596.54,191.13 L596.87,191.17 L597.2,186.69 L597.53,191.81 L597.86,185.8 L598.19,192.01 L598.52,187.47 L598.85,191 L599.18,189.1 L599.51,191.3 L599.84,185.96 L600.17,191.42 L600.5,189.45 L600.83,188.38 L601.16,189.55 L601.49,191.09 L601.82,190.64 L602.15,185.65 L602.48,191.57 L602.81,192 L603.14,185.88 L603.47,186.08 L603.8,187.77 L604.13,189.41 L604.46,185.5 L604.79,189.83 L605.12,192.02 L605.45,189.67 L605.78,188.99 L606.11,188.85 L606.44,186.06 L606.77,191.83 L607.1,186.36 L607.43,189.04 L607.76,187.39 L608.09,189.83 L608.42,190.61 L608.75,190.35 L609.08,190.74 L609.41,189.54 L609.74,188.47 L610.07,186.56 L610.4,191.32 L610.73,189.57 L611.06,188.97 L611.39,186.67 L611.72,187.57 L612.05,188.27 L612.38,187.86 L612.71,189.58 L613.04,186.77 L613.37,186.5 L613.7,188.71 L614.03,191.61 L614.36,189.74 L614.69,190.8 L615.02,191.22 L615.35,190.6 L615.68,186.66 L616.01,190.27 L616.34,189.71 L616.67,190.04 L617,191.26 L617.33,188.67 L617.66,189.8 L617.99,185.63 L618.32,188.31 L618.65,185.26 L618.98,186.32 L619.31,189.28 L619.64,192.01 L619.97,191.11 L620.3,191.6 L620.63,187.34 L620.96,191.51 L621.29,188.09 L621.62,190.44 L621.95,189.35 L622.28,187.19 L622.61,190.59 L622.94,191.33 L623.27,190.66 L623.6,185.57 L623.93,188.81 L624.26,190.66 L624.59,191.47 L624.92,191.83 L625.25,190.36 L625.58,188.34 L625.91,189.52 L626.24,186.72 L626.57,185.11 L626.9,188.68 L627.23,190.29 L627.56,186.87 L627.89,191.74 L628.22,187.16 L628.55,186.12 L628.88,187.02 L629.21,191.7 L629.54,188.6 L629.87,186.8 L630.2,189.84 L630.53,186.44 L630.86,191.36 L631.19,188.99 L631.52,188.77 L631.85,186.92 L632.18,189.84 L632.51,190.84 L632.84,187.55 L633.17,191.62 L633.5,190.14 L633.83,189.44 L634.16,186.92 L634.49,189.75 L634.82,188.74 L635.15,187.83 L635.48,187.85 L635.81,185.39 L636.14,189.48 L636.47,188.67 L636.8,192 L637.13,191.22 L637.46,190.9 L637.79,191.12 L638.12,189.07 L638.45,191.18 L638.78,188.68 L639.11,186.6 L639.44,191.81 L639.77,190.93 L640.1,189.23 L640.43,191.91 L640.76,191.48 L641.09,188.64 L641.42,189.92 L641.75,185.93 L642.08,188.68 L642.41,187.18 L642.74,190.29 L643.07,190.08 L643.4,186.36 L643.73,188.33 L644.06,185.83 L644.39,190.88 L644.72,191.62 L645.05,187.84 L645.38,191.57 L645.71,191.8 L646.04,189.99 L646.37,187.76 L646.7,190.19 L647.03,187.22 L647.36,189.53 L647.69,190.68 L648.02,188.95 L648.35,188.41 L648.68,191.45 L649.01,188.52 L649.34,191.35 L649.67,185.35 L650,188.97 L650.33,191.15 L650.66,191.92 L650.99,191.1 L651.32,190.47 L651.32,203.2Z" fill="#050505"/>
<path d="M243.8,202.6 L245,195.99 L246.2,202.6Z" fill="#fff"/>
<path d="M259.1,202.6 L260.3,194.6 L261.5,202.6Z" fill="#fff"/>
<path d="M276.7,202.6 L277.9,193.04 L279.1,202.6Z" fill="#fff"/>
<path d="M288.3,202.6 L289.5,195.7 L290.7,202.6Z" fill="#fff"/>
<path d="M295.3,202.6 L296.5,192.84 L297.7,202.6Z" fill="#fff"/>
<path d="M315.6,202.6 L316.8,190.93 L318,202.6Z" fill="#fff"/>
<path d="M330.5,202.6 L331.7,195.54 L332.9,202.6Z" fill="#fff"/>
<path d="M337.5,202.6 L338.7,190.37 L339.9,202.6Z" fill="#fff"/>
<path d="M362.5,202.6 L363.7,190.96 L364.9,202.6Z" fill="#fff"/>
<path d="M381.6,202.6 L382.8,194.35 L384,202.6Z" fill="#fff"/>
<path d="M390.6,202.6 L391.8,190.79 L393,202.6Z" fill="#fff"/>
<path d="M421.1,202.6 L422.3,189.2 L423.5,202.6Z" fill="#fff"/>
<path d="M455.1,202.6 L456.3,192.33 L457.5,202.6Z" fill="#fff"/>
<path d="M466.8,202.6 L468,192.53 L469.2,202.6Z" fill="#fff"/>
<path d="M494.2,202.6 L495.4,192.33 L496.6,202.6Z" fill="#fff"/>
<path d="M539.1,202.6 L540.3,193.49 L541.5,202.6Z" fill="#fff"/>
<path d="M590.8,202.6 L592,194.81 L593.2,202.6Z" fill="#fff"/>
<line x1="22.7" y1="39.3" x2="22.7" y2="203.7" stroke="#555" stroke-width="1.4"/>
<line x1="18.5" y1="203.2" x2="22.7" y2="203.2" stroke="#444" stroke-width="1"/>
<line x1="21.1" y1="186.81" x2="22.7" y2="186.81" stroke="#444" stroke-width="1"/>
<line x1="21.1" y1="170.42" x2="22.7" y2="170.42" stroke="#444" stroke-width="1"/>
<line x1="21.1" y1="154.03" x2="22.7" y2="154.03" stroke="#444" stroke-width="1"/>
<line x1="21.1" y1="137.64" x2="22.7" y2="137.64" stroke="#444" stroke-width="1"/>
<line x1="18.5" y1="121.25" x2="22.7" y2="121.25" stroke="#444" stroke-width="1"/>
<line x1="21.1" y1="104.86" x2="22.7" y2="104.86" stroke="#444" stroke-width="1"/>
<line x1="21.1" y1="88.47" x2="22.7" y2="88.47" stroke="#444" stroke-width="1"/>
<line x1="21.1" y1="72.08" x2="22.7" y2="72.08" stroke="#444" stroke-width="1"/>
<line x1="21.1" y1="55.69" x2="22.7" y2="55.69" stroke="#444" stroke-width="1"/>
<line x1="18.5" y1="39.3" x2="22.7" y2="39.3" stroke="#444" stroke-width="1"/>
<line x1="18.5" y1="203.2" x2="651.5" y2="203.2" stroke="#222" stroke-width="1.2"/>
<line x1="24.6" y1="203.2" x2="24.6" y2="206.8" stroke="#333" stroke-width="0.9"/>
<line x1="28.52" y1="203.2" x2="28.52" y2="205.7" stroke="#333" stroke-width="0.9"/>
<line x1="32.43" y1="203.2" x2="32.43" y2="205.7" stroke="#333" stroke-width="0.9"/>
<line x1="36.34" y1="203.2" x2="36.34" y2="205.7" stroke="#333" stroke-width="0.9"/>
<line x1="40.26" y1="203.2" x2="40.26" y2="205.7" stroke="#333" stroke-width="0.9"/>
<line x1="44.17" y1="203.2" x2="44.17" y2="206.8" stroke="#333" stroke-width="0.9"/>
<line x1="48.09" y1="203.2" x2="48.09" y2="205.7" stroke="#333" stroke-width="0.9"/>
<line x1="52.01" y1="203.2" x2="52.01" y2="205.7" stroke="#333" stroke-width="0.9"/>
<line x1="55.92" y1="203.2" x2="55.92" y2="205.7" stroke="#333" stroke-width="0.9"/>
<line x1="59.84" y1="203.2" x2="59.84" y2="205.7" stroke="#333" stroke-width="0.9"/>
<line x1="63.75" y1="203.2" x2="63.75" y2="206.8" stroke="#333" stroke-width="0.9"/>
<line x1="67.67" y1="203.2" x2="67.67" y2="205.7" stroke="#333" stroke-width="0.9"/>
<line x1="71.58" y1="203.2" x2="71.58" y2="205.7" stroke="#333" stroke-width="0.9"/>
<line x1="75.5" y1="203.2" x2="75.5" y2="205.7" stroke="#333" stroke-width="0.9"/>
<line x1="79.41" y1="203.2" x2="79.41" y2="205.7" stroke="#333" stroke-width="0.9"/>
<line x1="83.33" y1="203.2" x2="83.33" y2="206.8" stroke="#333" stroke-width="0.9"/>
<line x1="87.24" y1="203.2" x2="87.24" y2="205.7" stroke="#333" stroke-width="0.9"/>
<line x1="91.16" y1="203.2" x2="91.16" y2="205.7" stroke="#333" stroke-width="0.9"/>
<line x1="95.07" y1="203.2" x2="95.07" y2="205.7" stroke="#333" stroke-width="0.9"/>
<line x1="98.99" y1="203.2" x2="98.99" y2="205.7" stroke="#333" stroke-width="0.9"/>
<line x1="102.9" y1="203.2" x2="102.9" y2="206.8" stroke="#333" stroke-width="0.9"/>
<line x1="106.81" y1="203.2" x2="106.81" y2="205.7" stroke="#333" stroke-width="0.9"/>
<line x1="110.73" y1="203.2" x2="110.73" y2="205.7" stroke="#333" stroke-width="0.9"/>
<line x1="114.65" y1="203.2" x2="114.65" y2="205.7" stroke="#333" stroke-width="0.9"/>
<line x1="118.56" y1="203.2" x2="118.56" y2="205.7" stroke="#333" stroke-width="0.9"/>
<line x1="122.47" y1="203.2" x2="122.47" y2="206.8" stroke="#333" stroke-width="0.9"/>
<line x1="126.39" y1="203.2" x2="126.39" y2="205.7" stroke="#333" stroke-width="0.9"/>
<line x1="130.31" y1="203.2" x2="130.31" y2="205.7" stroke="#333" stroke-width="0.9"/>
<line x1="134.22" y1="203.2" x2="134.22" y2="205.7" stroke="#333" stroke-width="0.9"/>
<line x1="138.14" y1="203.2" x2="138.14" y2="205.7" stroke="#333" stroke-width="0.9"/>
<line x1="142.05" y1="203.2" x2="142.05" y2="206.8" stroke="#333" stroke-width="0.9"/>
<line x1="145.97" y1="203.2" x2="145.97" y2="205.7" stroke="#333" stroke-width="0.9"/>
<line x1="149.88" y1="203.2" x2="149.88" y2="205.7" stroke="#333" stroke-width="0.9"/>
<line x1="153.79" y1="203.2" x2="153.79" y2="205.7" stroke="#333" stroke-width="0.9"/>
<line x1="157.71" y1="203.2" x2="157.71" y2="205.7" stroke="#333" stroke-width="0.9"/>
<line x1="161.62" y1="203.2" x2="161.62" y2="206.8" stroke="#333" stroke-width="0.9"/>
<line x1="165.54" y1="203.2" x2="165.54" y2="205.7" stroke="#333" stroke-width="0.9"/>
<line x1="169.46" y1="203.2" x2="169.46" y2="205.7" stroke="#333" stroke-width="0.9"/>
<line x1="173.37" y1="203.2" x2="173.37" y2="205.7" stroke="#333" stroke-width="0.9"/>
<line x1="177.28" y1="203.2" x2="177.28" y2="205.7" stroke="#333" stroke-width="0.9"/>
<line x1="181.2" y1="203.2" x2="181.2" y2="206.8" stroke="#333" stroke-width="0.9"/>
<line x1="185.12" y1="203.2" x2="185.12" y2="205.7" stroke="#333" stroke-width="0.9"/>
<line x1="189.03" y1="203.2" x2="189.03" y2="205.7" stroke="#333" stroke-width="0.9"/>
<line x1="192.94" y1="203.2" x2="192.94" y2="205.7" stroke="#333" stroke-width="0.9"/>
<line x1="196.86" y1="203.2" x2="196.86" y2="205.7" stroke="#333" stroke-width="0.9"/>
<line x1="200.78" y1="203.2" x2="200.78" y2="206.8" stroke="#333" stroke-width="0.9"/>
<line x1="204.69" y1="203.2" x2="204.69" y2="205.7" stroke="#333" stroke-width="0.9"/>
<line x1="208.6" y1="203.2" x2="208.6" y2="205.7" stroke="#333" stroke-width="0.9"/>
<line x1="212.52" y1="203.2" x2="212.52" y2="205.7" stroke="#333" stroke-width="0.9"/>
<line x1="216.44" y1="203.2" x2="216.44" y2="205.7" stroke="#333" stroke-width="0.9"/>
<line x1="220.35" y1="203.2" x2="220.35" y2="206.8" stroke="#333" stroke-width="0.9"/>
<line x1="224.27" y1="203.2" x2="224.27" y2="205.7" stroke="#333" stroke-width="0.9"/>
<line x1="228.18" y1="203.2" x2="228.18" y2="205.7" stroke="#333" stroke-width="0.9"/>
<line x1="232.09" y1="203.2" x2="232.09" y2="205.7" stroke="#333" stroke-width="0.9"/>
<line x1="236.01" y1="203.2" x2="236.01" y2="205.7" stroke="#333" stroke-width="0.9"/>
<line x1="239.93" y1="203.2" x2="239.93" y2="206.8" stroke="#333" stroke-width="0.9"/>
<line x1="243.84" y1="203.2" x2="243.84" y2="205.7" stroke="#333" stroke-width="0.9"/>
<line x1="247.75" y1="203.2" x2="247.75" y2="205.7" stroke="#333" stroke-width="0.9"/>
<line x1="251.67" y1="203.2" x2="251.67" y2="205.7" stroke="#333" stroke-width="0.9"/>
<line x1="255.59" y1="203.2" x2="255.59" y2="205.7" stroke="#333" stroke-width="0.9"/>
<line x1="259.5" y1="203.2" x2="259.5" y2="206.8" stroke="#333" stroke-width="0.9"/>
<line x1="263.42" y1="203.2" x2="263.42" y2="205.7" stroke="#333" stroke-width="0.9"/>
<line x1="267.33" y1="203.2" x2="267.33" y2="205.7" stroke="#333" stroke-width="0.9"/>
<line x1="271.25" y1="203.2" x2="271.25" y2="205.7" stroke="#333" stroke-width="0.9"/>
<line x1="275.16" y1="203.2" x2="275.16" y2="205.7" stroke="#333" stroke-width="0.9"/>
<line x1="279.08" y1="203.2" x2="279.08" y2="206.8" stroke="#333" stroke-width="0.9"/>
<line x1="282.99" y1="203.2" x2="282.99" y2="205.7" stroke="#333" stroke-width="0.9"/>
<line x1="286.91" y1="203.2" x2="286.91" y2="205.7" stroke="#333" stroke-width="0.9"/>
<line x1="290.82" y1="203.2" x2="290.82" y2="205.7" stroke="#333" stroke-width="0.9"/>
<line x1="294.74" y1="203.2" x2="294.74" y2="205.7" stroke="#333" stroke-width="0.9"/>
<line x1="298.65" y1="203.2" x2="298.65" y2="206.8" stroke="#333" stroke-width="0.9"/>
<line x1="302.57" y1="203.2" x2="302.57" y2="205.7" stroke="#333" stroke-width="0.9"/>
<line x1="306.48" y1="203.2" x2="306.48" y2="205.7" stroke="#333" stroke-width="0.9"/>
<line x1="310.4" y1="203.2" x2="310.4" y2="205.7" stroke="#333" stroke-width="0.9"/>
<line x1="314.31" y1="203.2" x2="314.31" y2="205.7" stroke="#333" stroke-width="0.9"/>
<line x1="318.23" y1="203.2" x2="318.23" y2="206.8" stroke="#333" stroke-width="0.9"/>
<line x1="322.14" y1="203.2" x2="322.14" y2="205.7" stroke="#333" stroke-width="0.9"/>
<line x1="326.06" y1="203.2" x2="326.06" y2="205.7" stroke="#333" stroke-width="0.9"/>
<line x1="329.97" y1="203.2" x2="329.97" y2="205.7" stroke="#333" stroke-width="0.9"/>
<line x1="333.89" y1="203.2" x2="333.89" y2="205.7" stroke="#333" stroke-width="0.9"/>
<line x1="337.8" y1="203.2" x2="337.8" y2="206.8" stroke="#333" stroke-width="0.9"/>
<line x1="341.72" y1="203.2" x2="341.72" y2="205.7" stroke="#333" stroke-width="0.9"/>
<line x1="345.63" y1="203.2" x2="345.63" y2="205.7" stroke="#333" stroke-width="0.9"/>
<line x1="349.55" y1="203.2" x2="349.55" y2="205.7" stroke="#333" stroke-width="0.9"/>
<line x1="353.46" y1="203.2" x2="353.46" y2="205.7" stroke="#333" stroke-width="0.9"/>
<line x1="357.38" y1="203.2" x2="357.38" y2="206.8" stroke="#333" stroke-width="0.9"/>
<line x1="361.29" y1="203.2" x2="361.29" y2="205.7" stroke="#333" stroke-width="0.9"/>
<line x1="365.21" y1="203.2" x2="365.21" y2="205.7" stroke="#333" stroke-width="0.9"/>
<line x1="369.12" y1="203.2" x2="369.12" y2="205.7" stroke="#333" stroke-width="0.9"/>
<line x1="373.04" y1="203.2" x2="373.04" y2="205.7" stroke="#333" stroke-width="0.9"/>
<line x1="376.95" y1="203.2" x2="376.95" y2="206.8" stroke="#333" stroke-width="0.9"/>
<line x1="380.87" y1="203.2" x2="380.87" y2="205.7" stroke="#333" stroke-width="0.9"/>
<line x1="384.78" y1="203.2" x2="384.78" y2="205.7" stroke="#333" stroke-width="0.9"/>
<line x1="388.7" y1="203.2" x2="388.7" y2="205.7" stroke="#333" stroke-width="0.9"/>
<line x1="392.61" y1="203.2" x2="392.61" y2="205.7" stroke="#333" stroke-width="0.9"/>
<line x1="396.53" y1="203.2" x2="396.53" y2="206.8" stroke="#333" stroke-width="0.9"/>
<line x1="400.44" y1="203.2" x2="400.44" y2="205.7" stroke="#333" stroke-width="0.9"/>
<line x1="404.36" y1="203.2" x2="404.36" y2="205.7" stroke="#333" stroke-width="0.9"/>
<line x1="408.27" y1="203.2" x2="408.27" y2="205.7" stroke="#333" stroke-width="0.9"/>
<line x1="412.19" y1="203.2" x2="412.19" y2="205.7" stroke="#333" stroke-width="0.9"/>
<line x1="416.1" y1="203.2" x2="416.1" y2="206.8" stroke="#333" stroke-width="0.9"/>
<line x1="420.02" y1="203.2" x2="420.02" y2="205.7" stroke="#333" stroke-width="0.9"/>
<line x1="423.93" y1="203.2" x2="423.93" y2="205.7" stroke="#333" stroke-width="0.9"/>
<line x1="427.85" y1="203.2" x2="427.85" y2="205.7" stroke="#333" stroke-width="0.9"/>
<line x1="431.76" y1="203.2" x2="431.76" y2="205.7" stroke="#333" stroke-width="0.9"/>
<line x1="435.68" y1="203.2" x2="435.68" y2="206.8" stroke="#333" stroke-width="0.9"/>
<line x1="439.59" y1="203.2" x2="439.59" y2="205.7" stroke="#333" stroke-width="0.9"/>
<line x1="443.51" y1="203.2" x2="443.51" y2="205.7" stroke="#333" stroke-width="0.9"/>
<line x1="447.42" y1="203.2" x2="447.42" y2="205.7" stroke="#333" stroke-width="0.9"/>
<line x1="451.34" y1="203.2" x2="451.34" y2="205.7" stroke="#333" stroke-width="0.9"/>
<line x1="455.25" y1="203.2" x2="455.25" y2="206.8" stroke="#333" stroke-width="0.9"/>
<line x1="459.17" y1="203.2" x2="459.17" y2="205.7" stroke="#333" stroke-width="0.9"/>
<line x1="463.08" y1="203.2" x2="463.08" y2="205.7" stroke="#333" stroke-width="0.9"/>
<line x1="467" y1="203.2" x2="467" y2="205.7" stroke="#333" stroke-width="0.9"/>
<line x1="470.91" y1="203.2" x2="470.91" y2="205.7" stroke="#333" stroke-width="0.9"/>
<line x1="474.83" y1="203.2" x2="474.83" y2="206.8" stroke="#333" stroke-width="0.9"/>
<line x1="478.74" y1="203.2" x2="478.74" y2="205.7" stroke="#333" stroke-width="0.9"/>
<line x1="482.66" y1="203.2" x2="482.66" y2="205.7" stroke="#333" stroke-width="0.9"/>
<line x1="486.57" y1="203.2" x2="486.57" y2="205.7" stroke="#333" stroke-width="0.9"/>
<line x1="490.49" y1="203.2" x2="490.49" y2="205.7" stroke="#333" stroke-width="0.9"/>
<line x1="494.4" y1="203.2" x2="494.4" y2="206.8" stroke="#333" stroke-width="0.9"/>
<line x1="498.32" y1="203.2" x2="498.32" y2="205.7" stroke="#333" stroke-width="0.9"/>
<line x1="502.23" y1="203.2" x2="502.23" y2="205.7" stroke="#333" stroke-width="0.9"/>
<line x1="506.15" y1="203.2" x2="506.15" y2="205.7" stroke="#333" stroke-width="0.9"/>
<line x1="510.06" y1="203.2" x2="510.06" y2="205.7" stroke="#333" stroke-width="0.9"/>
<line x1="513.98" y1="203.2" x2="513.98" y2="206.8" stroke="#333" stroke-width="0.9"/>
<line x1="517.89" y1="203.2" x2="517.89" y2="205.7" stroke="#333" stroke-width="0.9"/>
<line x1="521.81" y1="203.2" x2="521.81" y2="205.7" stroke="#333" stroke-width="0.9"/>
<line x1="525.72" y1="203.2" x2="525.72" y2="205.7" stroke="#333" stroke-width="0.9"/>
<line x1="529.63" y1="203.2" x2="529.63" y2="205.7" stroke="#333" stroke-width="0.9"/>
<line x1="533.55" y1="203.2" x2="533.55" y2="206.8" stroke="#333" stroke-width="0.9"/>
<line x1="537.47" y1="203.2" x2="537.47" y2="205.7" stroke="#333" stroke-width="0.9"/>
<line x1="541.38" y1="203.2" x2="541.38" y2="205.7" stroke="#333" stroke-width="0.9"/>
<line x1="545.3" y1="203.2" x2="545.3" y2="205.7" stroke="#333" stroke-width="0.9"/>
<line x1="549.21" y1="203.2" x2="549.21" y2="205.7" stroke="#333" stroke-width="0.9"/>
<line x1="553.12" y1="203.2" x2="553.12" y2="206.8" stroke="#333" stroke-width="0.9"/>
<line x1="557.04" y1="203.2" x2="557.04" y2="205.7" stroke="#333" stroke-width="0.9"/>
<line x1="560.96" y1="203.2" x2="560.96" y2="205.7" stroke="#333" stroke-width="0.9"/>
<line x1="564.87" y1="203.2" x2="564.87" y2="205.7" stroke="#333" stroke-width="0.9"/>
<line x1="568.79" y1="203.2" x2="568.79" y2="205.7" stroke="#333" stroke-width="0.9"/>
<line x1="572.7" y1="203.2" x2="572.7" y2="206.8" stroke="#333" stroke-width="0.9"/>
<line x1="576.62" y1="203.2" x2="576.62" y2="205.7" stroke="#333" stroke-width="0.9"/>
<line x1="580.53" y1="203.2" x2="580.53" y2="205.7" stroke="#333" stroke-width="0.9"/>
<line x1="584.45" y1="203.2" x2="584.45" y2="205.7" stroke="#333" stroke-width="0.9"/>
<line x1="588.36" y1="203.2" x2="588.36" y2="205.7" stroke="#333" stroke-width="0.9"/>
<line x1="592.28" y1="203.2" x2="592.28" y2="206.8" stroke="#333" stroke-width="0.9"/>
<line x1="596.19" y1="203.2" x2="596.19" y2="205.7" stroke="#333" stroke-width="0.9"/>
<line x1="600.11" y1="203.2" x2="600.11" y2="205.7" stroke="#333" stroke-width="0.9"/>
<line x1="604.02" y1="203.2" x2="604.02" y2="205.7" stroke="#333" stroke-width="0.9"/>
<line x1="607.94" y1="203.2" x2="607.94" y2="205.7" stroke="#333" stroke-width="0.9"/>
<line x1="611.85" y1="203.2" x2="611.85" y2="206.8" stroke="#333" stroke-width="0.9"/>
<line x1="615.77" y1="203.2" x2="615.77" y2="205.7" stroke="#333" stroke-width="0.9"/>
<line x1="619.68" y1="203.2" x2="619.68" y2="205.7" stroke="#333" stroke-width="0.9"/>
<line x1="623.6" y1="203.2" x2="623.6" y2="205.7" stroke="#333" stroke-width="0.9"/>
<line x1="627.51" y1="203.2" x2="627.51" y2="205.7" stroke="#333" stroke-width="0.9"/>
<line x1="631.43" y1="203.2" x2="631.43" y2="206.8" stroke="#333" stroke-width="0.9"/>
<text x="24.6" y="215.1" font-size="8.6" text-anchor="middle" font-weight="normal" fill="#1a1a1a" stroke="#1a1a1a" stroke-width="0.28" >400</text>
<text x="63.75" y="215.1" font-size="8.6" text-anchor="middle" font-weight="normal" fill="#1a1a1a" stroke="#1a1a1a" stroke-width="0.28" >500</text>
<text x="102.9" y="215.1" font-size="8.6" text-anchor="middle" font-weight="normal" fill="#1a1a1a" stroke="#1a1a1a" stroke-width="0.28" >600</text>
<text x="142.05" y="215.1" font-size="8.6" text-anchor="middle" font-weight="normal" fill="#1a1a1a" stroke="#1a1a1a" stroke-width="0.28" >700</text>
<text x="181.2" y="215.1" font-size="8.6" text-anchor="middle" font-weight="normal" fill="#1a1a1a" stroke="#1a1a1a" stroke-width="0.28" >800</text>
<text x="220.35" y="215.1" font-size="8.6" text-anchor="middle" font-weight="normal" fill="#1a1a1a" stroke="#1a1a1a" stroke-width="0.28" >900</text>
<text x="259.5" y="215.1" font-size="8.6" text-anchor="middle" font-weight="normal" fill="#1a1a1a" stroke="#1a1a1a" stroke-width="0.28" >1000</text>
<text x="298.65" y="215.1" font-size="8.6" text-anchor="middle" font-weight="normal" fill="#1a1a1a" stroke="#1a1a1a" stroke-width="0.28" >1100</text>
<text x="337.8" y="215.1" font-size="8.6" text-anchor="middle" font-weight="normal" fill="#1a1a1a" stroke="#1a1a1a" stroke-width="0.28" >1200</text>
<text x="376.95" y="215.1" font-size="8.6" text-anchor="middle" font-weight="normal" fill="#1a1a1a" stroke="#1a1a1a" stroke-width="0.28" >1300</text>
<text x="416.1" y="215.1" font-size="8.6" text-anchor="middle" font-weight="normal" fill="#1a1a1a" stroke="#1a1a1a" stroke-width="0.28" >1400</text>
<text x="455.25" y="215.1" font-size="8.6" text-anchor="middle" font-weight="normal" fill="#1a1a1a" stroke="#1a1a1a" stroke-width="0.28" >1500</text>
<text x="494.4" y="215.1" font-size="8.6" text-anchor="middle" font-weight="normal" fill="#1a1a1a" stroke="#1a1a1a" stroke-width="0.28" >1600</text>
<text x="533.55" y="215.1" font-size="8.6" text-anchor="middle" font-weight="normal" fill="#1a1a1a" stroke="#1a1a1a" stroke-width="0.28" >1700</text>
<text x="572.7" y="215.1" font-size="8.6" text-anchor="middle" font-weight="normal" fill="#1a1a1a" stroke="#1a1a1a" stroke-width="0.28" >1800</text>
<text x="611.85" y="215.1" font-size="8.6" text-anchor="middle" font-weight="normal" fill="#1a1a1a" stroke="#1a1a1a" stroke-width="0.28" >1900</text>
<text x="18" y="43.3" font-size="8.6" text-anchor="end" font-weight="normal" fill="#1a1a1a" stroke="#1a1a1a" stroke-width="0.28" >100</text>
<text x="18" y="207" font-size="8.6" text-anchor="end" font-weight="normal" fill="#1a1a1a" stroke="#1a1a1a" stroke-width="0.28" >0</text>
<text x="655.8" y="206.8" font-size="8.6" text-anchor="start" font-weight="normal" fill="#1a1a1a" stroke="#1a1a1a" stroke-width="0.28" >m/z</text>
<line x1="25.1" y1="432.99" x2="25.1" y2="441" stroke="#777" stroke-width="0.8"/>
<line x1="27.3" y1="434.5" x2="27.3" y2="441" stroke="#777" stroke-width="0.8"/>
<line x1="29.5" y1="429.89" x2="29.5" y2="441" stroke="#777" stroke-width="0.8"/>
<line x1="33.9" y1="429.18" x2="33.9" y2="441" stroke="#777" stroke-width="0.8"/>
<line x1="35" y1="432.23" x2="35" y2="441" stroke="#777" stroke-width="0.8"/>
<line x1="36.1" y1="421.03" x2="36.1" y2="441" stroke="#777" stroke-width="0.8"/>
<line x1="39.4" y1="421.4" x2="39.4" y2="441" stroke="#777" stroke-width="0.8"/>
<line x1="40.5" y1="428.21" x2="40.5" y2="441" stroke="#777" stroke-width="0.8"/>
<line x1="42.7" y1="435.82" x2="42.7" y2="441" stroke="#777" stroke-width="0.8"/>
<line x1="43.8" y1="424.47" x2="43.8" y2="441" stroke="#777" stroke-width="0.8"/>
<line x1="47.1" y1="435.71" x2="47.1" y2="441" stroke="#777" stroke-width="0.8"/>
<line x1="49.3" y1="433.14" x2="49.3" y2="441" stroke="#777" stroke-width="0.8"/>
<line x1="54.8" y1="432.22" x2="54.8" y2="441" stroke="#777" stroke-width="0.8"/>
<line x1="61.4" y1="424.8" x2="61.4" y2="441" stroke="#777" stroke-width="0.8"/>
<line x1="66.9" y1="424.36" x2="66.9" y2="441" stroke="#777" stroke-width="0.8"/>
<line x1="74.6" y1="418.66" x2="74.6" y2="441" stroke="#777" stroke-width="0.8"/>
<line x1="75.7" y1="414.73" x2="75.7" y2="441" stroke="#777" stroke-width="0.8"/>
<line x1="76.8" y1="423.73" x2="76.8" y2="441" stroke="#777" stroke-width="0.8"/>
<line x1="77.9" y1="434.54" x2="77.9" y2="441" stroke="#777" stroke-width="0.8"/>
<line x1="82.3" y1="432.28" x2="82.3" y2="441" stroke="#777" stroke-width="0.8"/>
<line x1="83.4" y1="421.79" x2="83.4" y2="441" stroke="#777" stroke-width="0.8"/>
<line x1="84.5" y1="434.03" x2="84.5" y2="441" stroke="#777" stroke-width="0.8"/>
<line x1="85.6" y1="436" x2="85.6" y2="441" stroke="#777" stroke-width="0.8"/>
<line x1="90" y1="422.07" x2="90" y2="441" stroke="#777" stroke-width="0.8"/>
<line x1="94.4" y1="428.21" x2="94.4" y2="441" stroke="#777" stroke-width="0.8"/>
<line x1="95.5" y1="435.59" x2="95.5" y2="441" stroke="#777" stroke-width="0.8"/>
<line x1="96.6" y1="435.29" x2="96.6" y2="441" stroke="#777" stroke-width="0.8"/>
<line x1="97.7" y1="435.42" x2="97.7" y2="441" stroke="#777" stroke-width="0.8"/>
<line x1="107.6" y1="431.31" x2="107.6" y2="441" stroke="#777" stroke-width="0.8"/>
<line x1="108.7" y1="431.94" x2="108.7" y2="441" stroke="#777" stroke-width="0.8"/>
<line x1="116.4" y1="428.9" x2="116.4" y2="441" stroke="#777" stroke-width="0.8"/>
<line x1="121.9" y1="433.21" x2="121.9" y2="441" stroke="#777" stroke-width="0.8"/>
<line x1="123" y1="433.52" x2="123" y2="441" stroke="#777" stroke-width="0.8"/>
<line x1="124.1" y1="419.39" x2="124.1" y2="441" stroke="#777" stroke-width="0.8"/>
<line x1="125.2" y1="426.14" x2="125.2" y2="441" stroke="#777" stroke-width="0.8"/>
<line x1="126.3" y1="433.27" x2="126.3" y2="441" stroke="#777" stroke-width="0.8"/>
<line x1="130.7" y1="415.71" x2="130.7" y2="441" stroke="#777" stroke-width="0.8"/>
<line x1="131.8" y1="424.29" x2="131.8" y2="441" stroke="#777" stroke-width="0.8"/>
<line x1="132.9" y1="432.75" x2="132.9" y2="441" stroke="#777" stroke-width="0.8"/>
<line x1="135.1" y1="431.78" x2="135.1" y2="441" stroke="#777" stroke-width="0.8"/>
<line x1="136.2" y1="432.81" x2="136.2" y2="441" stroke="#777" stroke-width="0.8"/>
<line x1="139.5" y1="417.18" x2="139.5" y2="441" stroke="#777" stroke-width="0.8"/>
<line x1="145" y1="429.68" x2="145" y2="441" stroke="#777" stroke-width="0.8"/>
<line x1="151.6" y1="432.35" x2="151.6" y2="441" stroke="#777" stroke-width="0.8"/>
<line x1="152.7" y1="432.05" x2="152.7" y2="441" stroke="#777" stroke-width="0.8"/>
<line x1="154.9" y1="432.25" x2="154.9" y2="441" stroke="#777" stroke-width="0.8"/>
<line x1="156" y1="415.16" x2="156" y2="441" stroke="#777" stroke-width="0.8"/>
<line x1="159.3" y1="420.81" x2="159.3" y2="441" stroke="#777" stroke-width="0.8"/>
<line x1="161.5" y1="425.01" x2="161.5" y2="441" stroke="#777" stroke-width="0.8"/>
<line x1="162.6" y1="429.59" x2="162.6" y2="441" stroke="#777" stroke-width="0.8"/>
<line x1="168.1" y1="431.71" x2="168.1" y2="441" stroke="#777" stroke-width="0.8"/>
<line x1="176.9" y1="431.21" x2="176.9" y2="441" stroke="#777" stroke-width="0.8"/>
<line x1="179.1" y1="412.07" x2="179.1" y2="441" stroke="#777" stroke-width="0.8"/>
<line x1="183.5" y1="431.05" x2="183.5" y2="441" stroke="#777" stroke-width="0.8"/>
<line x1="185.7" y1="420.71" x2="185.7" y2="441" stroke="#777" stroke-width="0.8"/>
<line x1="187.9" y1="424.39" x2="187.9" y2="441" stroke="#777" stroke-width="0.8"/>
<line x1="189" y1="425" x2="189" y2="441" stroke="#777" stroke-width="0.8"/>
<line x1="190.1" y1="430.05" x2="190.1" y2="441" stroke="#777" stroke-width="0.8"/>
<line x1="191.2" y1="431.16" x2="191.2" y2="441" stroke="#777" stroke-width="0.8"/>
<line x1="194.5" y1="431.06" x2="194.5" y2="441" stroke="#777" stroke-width="0.8"/>
<line x1="196.7" y1="418.99" x2="196.7" y2="441" stroke="#777" stroke-width="0.8"/>
<line x1="197.8" y1="413.18" x2="197.8" y2="441" stroke="#777" stroke-width="0.8"/>
<line x1="202.2" y1="426.71" x2="202.2" y2="441" stroke="#777" stroke-width="0.8"/>
<line x1="204.4" y1="426.12" x2="204.4" y2="441" stroke="#777" stroke-width="0.8"/>
<line x1="207.7" y1="430.28" x2="207.7" y2="441" stroke="#777" stroke-width="0.8"/>
<line x1="208.8" y1="427.63" x2="208.8" y2="441" stroke="#777" stroke-width="0.8"/>
<line x1="209.9" y1="426.13" x2="209.9" y2="441" stroke="#777" stroke-width="0.8"/>
<line x1="212.1" y1="426.07" x2="212.1" y2="441" stroke="#777" stroke-width="0.8"/>
<line x1="216.5" y1="426" x2="216.5" y2="441" stroke="#777" stroke-width="0.8"/>
<line x1="219.8" y1="430.3" x2="219.8" y2="441" stroke="#777" stroke-width="0.8"/>
<line x1="220.9" y1="409.3" x2="220.9" y2="441" stroke="#777" stroke-width="0.8"/>
<line x1="222" y1="430.13" x2="222" y2="441" stroke="#777" stroke-width="0.8"/>
<line x1="224.2" y1="430.5" x2="224.2" y2="441" stroke="#777" stroke-width="0.8"/>
<line x1="225.3" y1="430.13" x2="225.3" y2="441" stroke="#777" stroke-width="0.8"/>
<line x1="228.6" y1="430.49" x2="228.6" y2="441" stroke="#777" stroke-width="0.8"/>
<line x1="234.1" y1="415.29" x2="234.1" y2="441" stroke="#777" stroke-width="0.8"/>
<line x1="237.4" y1="430.5" x2="237.4" y2="441" stroke="#777" stroke-width="0.8"/>
<line x1="225" y1="428.35" x2="225" y2="441" stroke="#666" stroke-width="0.8"/>
<line x1="225.9" y1="427.12" x2="225.9" y2="441" stroke="#666" stroke-width="0.8"/>
<line x1="226.8" y1="423.35" x2="226.8" y2="441" stroke="#666" stroke-width="0.8"/>
<line x1="227.7" y1="429.27" x2="227.7" y2="441" stroke="#666" stroke-width="0.8"/>
<line x1="228.6" y1="427.81" x2="228.6" y2="441" stroke="#666" stroke-width="0.8"/>
<line x1="230.4" y1="425.09" x2="230.4" y2="441" stroke="#666" stroke-width="0.8"/>
<line x1="231.3" y1="423.87" x2="231.3" y2="441" stroke="#666" stroke-width="0.8"/>
<line x1="232.2" y1="429.75" x2="232.2" y2="441" stroke="#666" stroke-width="0.8"/>
<line x1="233.1" y1="429.06" x2="233.1" y2="441" stroke="#666" stroke-width="0.8"/>
<line x1="234.9" y1="430.09" x2="234.9" y2="441" stroke="#666" stroke-width="0.8"/>
<line x1="235.8" y1="428.34" x2="235.8" y2="441" stroke="#666" stroke-width="0.8"/>
<line x1="237.6" y1="424.92" x2="237.6" y2="441" stroke="#666" stroke-width="0.8"/>
<line x1="238.5" y1="425.55" x2="238.5" y2="441" stroke="#666" stroke-width="0.8"/>
<line x1="239.4" y1="428.82" x2="239.4" y2="441" stroke="#666" stroke-width="0.8"/>
<line x1="242.1" y1="425.49" x2="242.1" y2="441" stroke="#666" stroke-width="0.8"/>
<line x1="243" y1="419.86" x2="243" y2="441" stroke="#666" stroke-width="0.8"/>
<line x1="243.9" y1="425.84" x2="243.9" y2="441" stroke="#666" stroke-width="0.8"/>
<line x1="244.8" y1="425.23" x2="244.8" y2="441" stroke="#666" stroke-width="0.8"/>
<line x1="246.6" y1="429.36" x2="246.6" y2="441" stroke="#666" stroke-width="0.8"/>
<line x1="247.5" y1="430.06" x2="247.5" y2="441" stroke="#666" stroke-width="0.8"/>
<line x1="248.4" y1="422.57" x2="248.4" y2="441" stroke="#666" stroke-width="0.8"/>
<line x1="250.2" y1="427.61" x2="250.2" y2="441" stroke="#666" stroke-width="0.8"/>
<line x1="251.1" y1="428.34" x2="251.1" y2="441" stroke="#666" stroke-width="0.8"/>
<line x1="252.9" y1="426.25" x2="252.9" y2="441" stroke="#666" stroke-width="0.8"/>
<line x1="254.7" y1="430.5" x2="254.7" y2="441" stroke="#666" stroke-width="0.8"/>
<line x1="256.5" y1="424.29" x2="256.5" y2="441" stroke="#666" stroke-width="0.8"/>
<line x1="257.4" y1="426.19" x2="257.4" y2="441" stroke="#666" stroke-width="0.8"/>
<line x1="258.3" y1="420.21" x2="258.3" y2="441" stroke="#666" stroke-width="0.8"/>
<line x1="260.1" y1="422.54" x2="260.1" y2="441" stroke="#666" stroke-width="0.8"/>
<line x1="261.9" y1="421.77" x2="261.9" y2="441" stroke="#666" stroke-width="0.8"/>
<line x1="262.8" y1="424.79" x2="262.8" y2="441" stroke="#666" stroke-width="0.8"/>
<line x1="264.6" y1="430.39" x2="264.6" y2="441" stroke="#666" stroke-width="0.8"/>
<line x1="265.5" y1="424.49" x2="265.5" y2="441" stroke="#666" stroke-width="0.8"/>
<line x1="266.4" y1="425.41" x2="266.4" y2="441" stroke="#666" stroke-width="0.8"/>
<line x1="267.3" y1="423.38" x2="267.3" y2="441" stroke="#666" stroke-width="0.8"/>
<line x1="268.2" y1="425.09" x2="268.2" y2="441" stroke="#666" stroke-width="0.8"/>
<line x1="269.1" y1="429.58" x2="269.1" y2="441" stroke="#666" stroke-width="0.8"/>
<line x1="270" y1="429.2" x2="270" y2="441" stroke="#666" stroke-width="0.8"/>
<line x1="270.9" y1="430.04" x2="270.9" y2="441" stroke="#666" stroke-width="0.8"/>
<line x1="271.8" y1="426.26" x2="271.8" y2="441" stroke="#666" stroke-width="0.8"/>
<line x1="273.6" y1="418.49" x2="273.6" y2="441" stroke="#666" stroke-width="0.8"/>
<line x1="274.5" y1="418.74" x2="274.5" y2="441" stroke="#666" stroke-width="0.8"/>
<line x1="275.4" y1="414.73" x2="275.4" y2="441" stroke="#666" stroke-width="0.8"/>
<line x1="277.2" y1="424.81" x2="277.2" y2="441" stroke="#666" stroke-width="0.8"/>
<line x1="278.1" y1="428.37" x2="278.1" y2="441" stroke="#666" stroke-width="0.8"/>
<line x1="279" y1="427.48" x2="279" y2="441" stroke="#666" stroke-width="0.8"/>
<line x1="279.9" y1="426.75" x2="279.9" y2="441" stroke="#666" stroke-width="0.8"/>
<line x1="280.8" y1="423.63" x2="280.8" y2="441" stroke="#666" stroke-width="0.8"/>
<line x1="281.7" y1="428.89" x2="281.7" y2="441" stroke="#666" stroke-width="0.8"/>
<line x1="283.5" y1="428.86" x2="283.5" y2="441" stroke="#666" stroke-width="0.8"/>
<line x1="284.4" y1="429.52" x2="284.4" y2="441" stroke="#666" stroke-width="0.8"/>
<line x1="285.3" y1="429.47" x2="285.3" y2="441" stroke="#666" stroke-width="0.8"/>
<line x1="286.2" y1="424.18" x2="286.2" y2="441" stroke="#666" stroke-width="0.8"/>
<line x1="287.1" y1="426.08" x2="287.1" y2="441" stroke="#666" stroke-width="0.8"/>
<line x1="288.9" y1="424.26" x2="288.9" y2="441" stroke="#666" stroke-width="0.8"/>
<line x1="289.8" y1="421.31" x2="289.8" y2="441" stroke="#666" stroke-width="0.8"/>
<line x1="290.7" y1="423.49" x2="290.7" y2="441" stroke="#666" stroke-width="0.8"/>
<line x1="291.6" y1="423.7" x2="291.6" y2="441" stroke="#666" stroke-width="0.8"/>
<line x1="292.5" y1="427.89" x2="292.5" y2="441" stroke="#666" stroke-width="0.8"/>
<line x1="295.2" y1="422" x2="295.2" y2="441" stroke="#666" stroke-width="0.8"/>
<line x1="297.9" y1="425.15" x2="297.9" y2="441" stroke="#666" stroke-width="0.8"/>
<line x1="298.8" y1="422.8" x2="298.8" y2="441" stroke="#666" stroke-width="0.8"/>
<line x1="299.7" y1="427.58" x2="299.7" y2="441" stroke="#666" stroke-width="0.8"/>
<line x1="301.5" y1="429.56" x2="301.5" y2="441" stroke="#666" stroke-width="0.8"/>
<line x1="303.3" y1="427.19" x2="303.3" y2="441" stroke="#666" stroke-width="0.8"/>
<line x1="304.2" y1="421.84" x2="304.2" y2="441" stroke="#666" stroke-width="0.8"/>
<line x1="306" y1="422.21" x2="306" y2="441" stroke="#666" stroke-width="0.8"/>
<line x1="306.9" y1="416.43" x2="306.9" y2="441" stroke="#666" stroke-width="0.8"/>
<line x1="308.7" y1="421.7" x2="308.7" y2="441" stroke="#666" stroke-width="0.8"/>
<line x1="309.6" y1="429.58" x2="309.6" y2="441" stroke="#666" stroke-width="0.8"/>
<line x1="310.5" y1="430.37" x2="310.5" y2="441" stroke="#666" stroke-width="0.8"/>
<line x1="313.2" y1="420.94" x2="313.2" y2="441" stroke="#666" stroke-width="0.8"/>
<line x1="314.1" y1="417.05" x2="314.1" y2="441" stroke="#666" stroke-width="0.8"/>
<line x1="315" y1="415.05" x2="315" y2="441" stroke="#666" stroke-width="0.8"/>
<line x1="315.9" y1="419.91" x2="315.9" y2="441" stroke="#666" stroke-width="0.8"/>
<line x1="316.8" y1="424.62" x2="316.8" y2="441" stroke="#666" stroke-width="0.8"/>
<line x1="317.7" y1="424.89" x2="317.7" y2="441" stroke="#666" stroke-width="0.8"/>
<line x1="319.5" y1="429.2" x2="319.5" y2="441" stroke="#666" stroke-width="0.8"/>
<line x1="321.3" y1="430.49" x2="321.3" y2="441" stroke="#666" stroke-width="0.8"/>
<line x1="322.2" y1="427.07" x2="322.2" y2="441" stroke="#666" stroke-width="0.8"/>
<line x1="323.1" y1="430.41" x2="323.1" y2="441" stroke="#666" stroke-width="0.8"/>
<line x1="324" y1="430.45" x2="324" y2="441" stroke="#666" stroke-width="0.8"/>
<line x1="324.9" y1="429.59" x2="324.9" y2="441" stroke="#666" stroke-width="0.8"/>
<line x1="332.1" y1="430.48" x2="332.1" y2="441" stroke="#666" stroke-width="0.8"/>
<line x1="333.9" y1="429.71" x2="333.9" y2="441" stroke="#666" stroke-width="0.8"/>
<line x1="334.8" y1="430.12" x2="334.8" y2="441" stroke="#666" stroke-width="0.8"/>
<line x1="335.7" y1="420.85" x2="335.7" y2="441" stroke="#666" stroke-width="0.8"/>
<line x1="337.5" y1="414.41" x2="337.5" y2="441" stroke="#666" stroke-width="0.8"/>
<line x1="338.4" y1="422.09" x2="338.4" y2="441" stroke="#666" stroke-width="0.8"/>
<line x1="339.3" y1="423.71" x2="339.3" y2="441" stroke="#666" stroke-width="0.8"/>
<line x1="341.1" y1="430.41" x2="341.1" y2="441" stroke="#666" stroke-width="0.8"/>
<line x1="342.9" y1="421.82" x2="342.9" y2="441" stroke="#666" stroke-width="0.8"/>
<line x1="343.8" y1="419.48" x2="343.8" y2="441" stroke="#666" stroke-width="0.8"/>
<line x1="344.7" y1="415.4" x2="344.7" y2="441" stroke="#666" stroke-width="0.8"/>
<line x1="346.5" y1="420.19" x2="346.5" y2="441" stroke="#666" stroke-width="0.8"/>
<line x1="347.4" y1="424.96" x2="347.4" y2="441" stroke="#666" stroke-width="0.8"/>
<line x1="348.3" y1="429.44" x2="348.3" y2="441" stroke="#666" stroke-width="0.8"/>
<line x1="350.1" y1="426.21" x2="350.1" y2="441" stroke="#666" stroke-width="0.8"/>
<line x1="351" y1="425.4" x2="351" y2="441" stroke="#666" stroke-width="0.8"/>
<line x1="351.9" y1="429.51" x2="351.9" y2="441" stroke="#666" stroke-width="0.8"/>
<line x1="352.8" y1="424.65" x2="352.8" y2="441" stroke="#666" stroke-width="0.8"/>
<line x1="353.7" y1="430.37" x2="353.7" y2="441" stroke="#666" stroke-width="0.8"/>
<line x1="355.5" y1="424.1" x2="355.5" y2="441" stroke="#666" stroke-width="0.8"/>
<line x1="356.4" y1="425.25" x2="356.4" y2="441" stroke="#666" stroke-width="0.8"/>
<line x1="358.2" y1="428.03" x2="358.2" y2="441" stroke="#666" stroke-width="0.8"/>
<line x1="360" y1="418.95" x2="360" y2="441" stroke="#666" stroke-width="0.8"/>
<line x1="360.9" y1="410.7" x2="360.9" y2="441" stroke="#666" stroke-width="0.8"/>
<line x1="361.8" y1="411.38" x2="361.8" y2="441" stroke="#666" stroke-width="0.8"/>
<line x1="362.7" y1="414.18" x2="362.7" y2="441" stroke="#666" stroke-width="0.8"/>
<line x1="364.5" y1="419.34" x2="364.5" y2="441" stroke="#666" stroke-width="0.8"/>
<line x1="365.4" y1="427.18" x2="365.4" y2="441" stroke="#666" stroke-width="0.8"/>
<line x1="366.3" y1="427.77" x2="366.3" y2="441" stroke="#666" stroke-width="0.8"/>
<line x1="367.2" y1="430.49" x2="367.2" y2="441" stroke="#666" stroke-width="0.8"/>
<line x1="369" y1="428.86" x2="369" y2="441" stroke="#666" stroke-width="0.8"/>
<line x1="369.9" y1="423.21" x2="369.9" y2="441" stroke="#666" stroke-width="0.8"/>
<line x1="370.8" y1="428.65" x2="370.8" y2="441" stroke="#666" stroke-width="0.8"/>
<line x1="371.7" y1="430.48" x2="371.7" y2="441" stroke="#666" stroke-width="0.8"/>
<line x1="374.4" y1="428.91" x2="374.4" y2="441" stroke="#666" stroke-width="0.8"/>
<line x1="375.3" y1="424.53" x2="375.3" y2="441" stroke="#666" stroke-width="0.8"/>
<line x1="377.1" y1="430.49" x2="377.1" y2="441" stroke="#666" stroke-width="0.8"/>
<line x1="378" y1="429.41" x2="378" y2="441" stroke="#666" stroke-width="0.8"/>
<line x1="381.6" y1="429.32" x2="381.6" y2="441" stroke="#666" stroke-width="0.8"/>
<line x1="382.5" y1="430.49" x2="382.5" y2="441" stroke="#666" stroke-width="0.8"/>
<line x1="383.4" y1="430.47" x2="383.4" y2="441" stroke="#666" stroke-width="0.8"/>
<line x1="384.3" y1="429.14" x2="384.3" y2="441" stroke="#666" stroke-width="0.8"/>
<line x1="385.2" y1="425.82" x2="385.2" y2="441" stroke="#666" stroke-width="0.8"/>
<line x1="386.1" y1="424.48" x2="386.1" y2="441" stroke="#666" stroke-width="0.8"/>
<line x1="387.9" y1="419.99" x2="387.9" y2="441" stroke="#666" stroke-width="0.8"/>
<line x1="388.8" y1="414.38" x2="388.8" y2="441" stroke="#666" stroke-width="0.8"/>
<line x1="392.4" y1="420.67" x2="392.4" y2="441" stroke="#666" stroke-width="0.8"/>
<line x1="393.3" y1="427.15" x2="393.3" y2="441" stroke="#666" stroke-width="0.8"/>
<line x1="394.2" y1="423.8" x2="394.2" y2="441" stroke="#666" stroke-width="0.8"/>
<line x1="395.1" y1="429.84" x2="395.1" y2="441" stroke="#666" stroke-width="0.8"/>
<line x1="396" y1="430.1" x2="396" y2="441" stroke="#666" stroke-width="0.8"/>
<line x1="400.5" y1="423.87" x2="400.5" y2="441" stroke="#666" stroke-width="0.8"/>
<line x1="403.2" y1="429.72" x2="403.2" y2="441" stroke="#666" stroke-width="0.8"/>
<line x1="404.1" y1="422.59" x2="404.1" y2="441" stroke="#666" stroke-width="0.8"/>
<line x1="405.9" y1="429.28" x2="405.9" y2="441" stroke="#666" stroke-width="0.8"/>
<line x1="406.8" y1="422.81" x2="406.8" y2="441" stroke="#666" stroke-width="0.8"/>
<line x1="408.6" y1="428.74" x2="408.6" y2="441" stroke="#666" stroke-width="0.8"/>
<line x1="409.5" y1="428.8" x2="409.5" y2="441" stroke="#666" stroke-width="0.8"/>
<line x1="411.3" y1="430.02" x2="411.3" y2="441" stroke="#666" stroke-width="0.8"/>
<line x1="412.2" y1="422.79" x2="412.2" y2="441" stroke="#666" stroke-width="0.8"/>
<line x1="414" y1="424.03" x2="414" y2="441" stroke="#666" stroke-width="0.8"/>
<line x1="414.9" y1="426.98" x2="414.9" y2="441" stroke="#666" stroke-width="0.8"/>
<line x1="416.7" y1="416.12" x2="416.7" y2="441" stroke="#666" stroke-width="0.8"/>
<line x1="417.6" y1="406.03" x2="417.6" y2="441" stroke="#666" stroke-width="0.8"/>
<line x1="420.3" y1="417.23" x2="420.3" y2="441" stroke="#666" stroke-width="0.8"/>
<line x1="421.2" y1="420.04" x2="421.2" y2="441" stroke="#666" stroke-width="0.8"/>
<line x1="422.1" y1="428.46" x2="422.1" y2="441" stroke="#666" stroke-width="0.8"/>
<line x1="423.9" y1="429.88" x2="423.9" y2="441" stroke="#666" stroke-width="0.8"/>
<line x1="424.8" y1="428.07" x2="424.8" y2="441" stroke="#666" stroke-width="0.8"/>
<line x1="426.6" y1="423.52" x2="426.6" y2="441" stroke="#666" stroke-width="0.8"/>
<line x1="428.4" y1="429.22" x2="428.4" y2="441" stroke="#666" stroke-width="0.8"/>
<line x1="429.3" y1="428.25" x2="429.3" y2="441" stroke="#666" stroke-width="0.8"/>
<line x1="431.1" y1="426.19" x2="431.1" y2="441" stroke="#666" stroke-width="0.8"/>
<line x1="432" y1="426.95" x2="432" y2="441" stroke="#666" stroke-width="0.8"/>
<line x1="432.9" y1="424.23" x2="432.9" y2="441" stroke="#666" stroke-width="0.8"/>
<line x1="433.8" y1="428.71" x2="433.8" y2="441" stroke="#666" stroke-width="0.8"/>
<line x1="434.7" y1="428.77" x2="434.7" y2="441" stroke="#666" stroke-width="0.8"/>
<line x1="435.6" y1="425.59" x2="435.6" y2="441" stroke="#666" stroke-width="0.8"/>
<line x1="436.5" y1="428.22" x2="436.5" y2="441" stroke="#666" stroke-width="0.8"/>
<line x1="438.3" y1="427.97" x2="438.3" y2="441" stroke="#666" stroke-width="0.8"/>
<line x1="440.1" y1="423.72" x2="440.1" y2="441" stroke="#666" stroke-width="0.8"/>
<line x1="441" y1="429.08" x2="441" y2="441" stroke="#666" stroke-width="0.8"/>
<line x1="442.8" y1="428.78" x2="442.8" y2="441" stroke="#666" stroke-width="0.8"/>
<line x1="447.3" y1="430.5" x2="447.3" y2="441" stroke="#666" stroke-width="0.8"/>
<line x1="448.2" y1="428.99" x2="448.2" y2="441" stroke="#666" stroke-width="0.8"/>
<line x1="449.1" y1="425.53" x2="449.1" y2="441" stroke="#666" stroke-width="0.8"/>
<line x1="450" y1="425.62" x2="450" y2="441" stroke="#666" stroke-width="0.8"/>
<line x1="450.9" y1="420.34" x2="450.9" y2="441" stroke="#666" stroke-width="0.8"/>
<line x1="453.6" y1="413.52" x2="453.6" y2="441" stroke="#666" stroke-width="0.8"/>
<line x1="455.4" y1="422.37" x2="455.4" y2="441" stroke="#666" stroke-width="0.8"/>
<line x1="456.3" y1="420.9" x2="456.3" y2="441" stroke="#666" stroke-width="0.8"/>
<line x1="457.2" y1="430.26" x2="457.2" y2="441" stroke="#666" stroke-width="0.8"/>
<line x1="458.1" y1="424.59" x2="458.1" y2="441" stroke="#666" stroke-width="0.8"/>
<line x1="459.9" y1="427.94" x2="459.9" y2="441" stroke="#666" stroke-width="0.8"/>
<line x1="461.7" y1="423.32" x2="461.7" y2="441" stroke="#666" stroke-width="0.8"/>
<line x1="463.5" y1="415.75" x2="463.5" y2="441" stroke="#666" stroke-width="0.8"/>
<line x1="465.3" y1="420.28" x2="465.3" y2="441" stroke="#666" stroke-width="0.8"/>
<line x1="468" y1="430.16" x2="468" y2="441" stroke="#666" stroke-width="0.8"/>
<line x1="468.9" y1="426" x2="468.9" y2="441" stroke="#666" stroke-width="0.8"/>
<line x1="469.8" y1="423.84" x2="469.8" y2="441" stroke="#666" stroke-width="0.8"/>
<line x1="470.7" y1="422.75" x2="470.7" y2="441" stroke="#666" stroke-width="0.8"/>
<line x1="471.6" y1="429.8" x2="471.6" y2="441" stroke="#666" stroke-width="0.8"/>
<line x1="474.3" y1="424.76" x2="474.3" y2="441" stroke="#666" stroke-width="0.8"/>
<line x1="475.2" y1="430.2" x2="475.2" y2="441" stroke="#666" stroke-width="0.8"/>
<line x1="476.1" y1="430.04" x2="476.1" y2="441" stroke="#666" stroke-width="0.8"/>
<line x1="477" y1="428.03" x2="477" y2="441" stroke="#666" stroke-width="0.8"/>
<line x1="478.8" y1="430.5" x2="478.8" y2="441" stroke="#666" stroke-width="0.8"/>
<line x1="480.6" y1="422.67" x2="480.6" y2="441" stroke="#666" stroke-width="0.8"/>
<line x1="481.5" y1="428.74" x2="481.5" y2="441" stroke="#666" stroke-width="0.8"/>
<line x1="483.3" y1="430.47" x2="483.3" y2="441" stroke="#666" stroke-width="0.8"/>
<line x1="485.1" y1="430.5" x2="485.1" y2="441" stroke="#666" stroke-width="0.8"/>
<line x1="486.9" y1="425.4" x2="486.9" y2="441" stroke="#666" stroke-width="0.8"/>
<line x1="488.7" y1="425.97" x2="488.7" y2="441" stroke="#666" stroke-width="0.8"/>
<line x1="489.6" y1="415.54" x2="489.6" y2="441" stroke="#666" stroke-width="0.8"/>
<line x1="492.3" y1="407.88" x2="492.3" y2="441" stroke="#666" stroke-width="0.8"/>
<line x1="495.9" y1="430.48" x2="495.9" y2="441" stroke="#666" stroke-width="0.8"/>
<line x1="497.7" y1="424.48" x2="497.7" y2="441" stroke="#666" stroke-width="0.8"/>
<line x1="498.6" y1="428.32" x2="498.6" y2="441" stroke="#666" stroke-width="0.8"/>
<line x1="499.5" y1="430.3" x2="499.5" y2="441" stroke="#666" stroke-width="0.8"/>
<line x1="500.4" y1="430.21" x2="500.4" y2="441" stroke="#666" stroke-width="0.8"/>
<line x1="503.1" y1="422.86" x2="503.1" y2="441" stroke="#666" stroke-width="0.8"/>
<line x1="504" y1="430.03" x2="504" y2="441" stroke="#666" stroke-width="0.8"/>
<line x1="505.8" y1="426" x2="505.8" y2="441" stroke="#666" stroke-width="0.8"/>
<line x1="506.7" y1="430.36" x2="506.7" y2="441" stroke="#666" stroke-width="0.8"/>
<line x1="507.6" y1="423.96" x2="507.6" y2="441" stroke="#666" stroke-width="0.8"/>
<line x1="510.3" y1="423.72" x2="510.3" y2="441" stroke="#666" stroke-width="0.8"/>
<line x1="511.2" y1="429.96" x2="511.2" y2="441" stroke="#666" stroke-width="0.8"/>
<line x1="512.1" y1="430.19" x2="512.1" y2="441" stroke="#666" stroke-width="0.8"/>
<line x1="513.9" y1="426.97" x2="513.9" y2="441" stroke="#666" stroke-width="0.8"/>
<line x1="514.8" y1="423.71" x2="514.8" y2="441" stroke="#666" stroke-width="0.8"/>
<line x1="515.7" y1="426.62" x2="515.7" y2="441" stroke="#666" stroke-width="0.8"/>
<line x1="516.6" y1="423.49" x2="516.6" y2="441" stroke="#666" stroke-width="0.8"/>
<line x1="517.5" y1="429.98" x2="517.5" y2="441" stroke="#666" stroke-width="0.8"/>
<line x1="520.2" y1="425.37" x2="520.2" y2="441" stroke="#666" stroke-width="0.8"/>
<line x1="523.8" y1="429.79" x2="523.8" y2="441" stroke="#666" stroke-width="0.8"/>
<line x1="525.6" y1="430.38" x2="525.6" y2="441" stroke="#666" stroke-width="0.8"/>
<line x1="527.4" y1="425.87" x2="527.4" y2="441" stroke="#666" stroke-width="0.8"/>
<line x1="528.3" y1="424.75" x2="528.3" y2="441" stroke="#666" stroke-width="0.8"/>
<line x1="529.2" y1="430.5" x2="529.2" y2="441" stroke="#666" stroke-width="0.8"/>
<line x1="530.1" y1="430.01" x2="530.1" y2="441" stroke="#666" stroke-width="0.8"/>
<line x1="531" y1="430.27" x2="531" y2="441" stroke="#666" stroke-width="0.8"/>
<line x1="531.9" y1="430.34" x2="531.9" y2="441" stroke="#666" stroke-width="0.8"/>
<line x1="533.7" y1="425.59" x2="533.7" y2="441" stroke="#666" stroke-width="0.8"/>
<line x1="535.5" y1="425.28" x2="535.5" y2="441" stroke="#666" stroke-width="0.8"/>
<line x1="537.3" y1="418.46" x2="537.3" y2="441" stroke="#666" stroke-width="0.8"/>
<line x1="542.7" y1="429.89" x2="542.7" y2="441" stroke="#666" stroke-width="0.8"/>
<line x1="543.6" y1="427.14" x2="543.6" y2="441" stroke="#666" stroke-width="0.8"/>
<line x1="544.5" y1="424.6" x2="544.5" y2="441" stroke="#666" stroke-width="0.8"/>
<line x1="545.4" y1="430.3" x2="545.4" y2="441" stroke="#666" stroke-width="0.8"/>
<line x1="547.2" y1="430.27" x2="547.2" y2="441" stroke="#666" stroke-width="0.8"/>
<line x1="549" y1="428.37" x2="549" y2="441" stroke="#666" stroke-width="0.8"/>
<line x1="549.9" y1="430.14" x2="549.9" y2="441" stroke="#666" stroke-width="0.8"/>
<line x1="550.8" y1="428.2" x2="550.8" y2="441" stroke="#666" stroke-width="0.8"/>
<line x1="552.6" y1="427.07" x2="552.6" y2="441" stroke="#666" stroke-width="0.8"/>
<line x1="553.5" y1="429.98" x2="553.5" y2="441" stroke="#666" stroke-width="0.8"/>
<line x1="554.4" y1="424.31" x2="554.4" y2="441" stroke="#666" stroke-width="0.8"/>
<line x1="555.3" y1="429" x2="555.3" y2="441" stroke="#666" stroke-width="0.8"/>
<line x1="556.2" y1="429.29" x2="556.2" y2="441" stroke="#666" stroke-width="0.8"/>
<line x1="558" y1="430.45" x2="558" y2="441" stroke="#666" stroke-width="0.8"/>
<line x1="558.9" y1="423.25" x2="558.9" y2="441" stroke="#666" stroke-width="0.8"/>
<line x1="559.8" y1="425.25" x2="559.8" y2="441" stroke="#666" stroke-width="0.8"/>
<line x1="562.5" y1="429.66" x2="562.5" y2="441" stroke="#666" stroke-width="0.8"/>
<line x1="564.3" y1="426.19" x2="564.3" y2="441" stroke="#666" stroke-width="0.8"/>
<line x1="565.2" y1="428.55" x2="565.2" y2="441" stroke="#666" stroke-width="0.8"/>
<line x1="566.1" y1="429.47" x2="566.1" y2="441" stroke="#666" stroke-width="0.8"/>
<line x1="567" y1="423.91" x2="567" y2="441" stroke="#666" stroke-width="0.8"/>
<line x1="567.9" y1="423.27" x2="567.9" y2="441" stroke="#666" stroke-width="0.8"/>
<line x1="568.8" y1="428.8" x2="568.8" y2="441" stroke="#666" stroke-width="0.8"/>
<line x1="569.7" y1="430.5" x2="569.7" y2="441" stroke="#666" stroke-width="0.8"/>
<line x1="570.6" y1="428.8" x2="570.6" y2="441" stroke="#666" stroke-width="0.8"/>
<line x1="571.5" y1="430.5" x2="571.5" y2="441" stroke="#666" stroke-width="0.8"/>
<line x1="572.4" y1="427.44" x2="572.4" y2="441" stroke="#666" stroke-width="0.8"/>
<line x1="574.2" y1="426.37" x2="574.2" y2="441" stroke="#666" stroke-width="0.8"/>
<line x1="575.1" y1="428.43" x2="575.1" y2="441" stroke="#666" stroke-width="0.8"/>
<line x1="576" y1="423.72" x2="576" y2="441" stroke="#666" stroke-width="0.8"/>
<line x1="576.9" y1="430.18" x2="576.9" y2="441" stroke="#666" stroke-width="0.8"/>
<line x1="577.8" y1="429.67" x2="577.8" y2="441" stroke="#666" stroke-width="0.8"/>
<line x1="578.7" y1="425.64" x2="578.7" y2="441" stroke="#666" stroke-width="0.8"/>
<line x1="582.3" y1="430.5" x2="582.3" y2="441" stroke="#666" stroke-width="0.8"/>
<line x1="583.2" y1="423.94" x2="583.2" y2="441" stroke="#666" stroke-width="0.8"/>
<line x1="584.1" y1="423.71" x2="584.1" y2="441" stroke="#666" stroke-width="0.8"/>
<line x1="585.9" y1="426.02" x2="585.9" y2="441" stroke="#666" stroke-width="0.8"/>
<line x1="586.8" y1="418.17" x2="586.8" y2="441" stroke="#666" stroke-width="0.8"/>
<line x1="587.7" y1="418.67" x2="587.7" y2="441" stroke="#666" stroke-width="0.8"/>
<line x1="589.5" y1="424.19" x2="589.5" y2="441" stroke="#666" stroke-width="0.8"/>
<line x1="590.4" y1="427.74" x2="590.4" y2="441" stroke="#666" stroke-width="0.8"/>
<line x1="593.1" y1="429.49" x2="593.1" y2="441" stroke="#666" stroke-width="0.8"/>
<line x1="594" y1="429.2" x2="594" y2="441" stroke="#666" stroke-width="0.8"/>
<line x1="594.9" y1="424.65" x2="594.9" y2="441" stroke="#666" stroke-width="0.8"/>
<line x1="596.7" y1="429.17" x2="596.7" y2="441" stroke="#666" stroke-width="0.8"/>
<line x1="601.2" y1="423.4" x2="601.2" y2="441" stroke="#666" stroke-width="0.8"/>
<line x1="602.1" y1="427.58" x2="602.1" y2="441" stroke="#666" stroke-width="0.8"/>
<line x1="604.8" y1="425.96" x2="604.8" y2="441" stroke="#666" stroke-width="0.8"/>
<line x1="605.7" y1="425.01" x2="605.7" y2="441" stroke="#666" stroke-width="0.8"/>
<line x1="606.6" y1="429.41" x2="606.6" y2="441" stroke="#666" stroke-width="0.8"/>
<line x1="607.5" y1="429.22" x2="607.5" y2="441" stroke="#666" stroke-width="0.8"/>
<line x1="608.4" y1="425.94" x2="608.4" y2="441" stroke="#666" stroke-width="0.8"/>
<line x1="610.2" y1="429.03" x2="610.2" y2="441" stroke="#666" stroke-width="0.8"/>
<line x1="612.9" y1="423.56" x2="612.9" y2="441" stroke="#666" stroke-width="0.8"/>
<line x1="613.8" y1="428.34" x2="613.8" y2="441" stroke="#666" stroke-width="0.8"/>
<line x1="615.6" y1="425.21" x2="615.6" y2="441" stroke="#666" stroke-width="0.8"/>
<line x1="617.4" y1="423.72" x2="617.4" y2="441" stroke="#666" stroke-width="0.8"/>
<line x1="618.3" y1="427.37" x2="618.3" y2="441" stroke="#666" stroke-width="0.8"/>
<line x1="619.2" y1="430.46" x2="619.2" y2="441" stroke="#666" stroke-width="0.8"/>
<line x1="620.1" y1="424.89" x2="620.1" y2="441" stroke="#666" stroke-width="0.8"/>
<line x1="621.9" y1="429.14" x2="621.9" y2="441" stroke="#666" stroke-width="0.8"/>
<line x1="622.8" y1="427.94" x2="622.8" y2="441" stroke="#666" stroke-width="0.8"/>
<line x1="623.7" y1="430.49" x2="623.7" y2="441" stroke="#666" stroke-width="0.8"/>
<line x1="624.6" y1="427.28" x2="624.6" y2="441" stroke="#666" stroke-width="0.8"/>
<line x1="625.5" y1="422.89" x2="625.5" y2="441" stroke="#666" stroke-width="0.8"/>
<line x1="628.2" y1="424.12" x2="628.2" y2="441" stroke="#666" stroke-width="0.8"/>
<line x1="630" y1="427.89" x2="630" y2="441" stroke="#666" stroke-width="0.8"/>
<line x1="635.4" y1="429.02" x2="635.4" y2="441" stroke="#666" stroke-width="0.8"/>
<line x1="637.2" y1="429.02" x2="637.2" y2="441" stroke="#666" stroke-width="0.8"/>
<line x1="640.8" y1="428.44" x2="640.8" y2="441" stroke="#666" stroke-width="0.8"/>
<line x1="642.6" y1="428.63" x2="642.6" y2="441" stroke="#666" stroke-width="0.8"/>
<line x1="643.5" y1="428.31" x2="643.5" y2="441" stroke="#666" stroke-width="0.8"/>
<line x1="646.2" y1="428.59" x2="646.2" y2="441" stroke="#666" stroke-width="0.8"/>
<line x1="648" y1="425.73" x2="648" y2="441" stroke="#666" stroke-width="0.8"/>
<line x1="649.8" y1="428.49" x2="649.8" y2="441" stroke="#666" stroke-width="0.8"/>
<line x1="650.7" y1="429.77" x2="650.7" y2="441" stroke="#666" stroke-width="0.8"/>
<line x1="23.9" y1="428.4" x2="23.9" y2="441" stroke="#555" stroke-width="1.0"/>
<line x1="28.4" y1="401.6" x2="28.4" y2="441" stroke="#888" stroke-width="1.0"/>
<line x1="29.8" y1="276.5" x2="29.8" y2="441" stroke="#444" stroke-width="1.0"/>
<line x1="29.8" y1="420" x2="29.8" y2="441" stroke="#000" stroke-width="1.4"/>
<line x1="31.6" y1="424" x2="31.6" y2="441" stroke="#555" stroke-width="1.0"/>
<line x1="37.8" y1="417.7" x2="37.8" y2="441" stroke="#777" stroke-width="1.0"/>
<line x1="40.2" y1="309.2" x2="40.2" y2="441" stroke="#444" stroke-width="1.0"/>
<line x1="40.2" y1="404" x2="40.2" y2="441" stroke="#000" stroke-width="1.4"/>
<line x1="44.9" y1="431" x2="44.9" y2="441" stroke="#555" stroke-width="1.0"/>
<line x1="46.4" y1="418.6" x2="46.4" y2="441" stroke="#777" stroke-width="1.0"/>
<line x1="51.4" y1="307.2" x2="51.4" y2="441" stroke="#444" stroke-width="1.0"/>
<line x1="51.4" y1="399" x2="51.4" y2="441" stroke="#000" stroke-width="1.4"/>
<line x1="56.5" y1="413.6" x2="56.5" y2="441" stroke="#666" stroke-width="1.0"/>
<line x1="62.4" y1="366.9" x2="62.4" y2="441" stroke="#444" stroke-width="1.0"/>
<line x1="62.4" y1="400" x2="62.4" y2="441" stroke="#000" stroke-width="1.4"/>
<line x1="67.7" y1="430" x2="67.7" y2="441" stroke="#555" stroke-width="1.0"/>
<line x1="73.1" y1="349.3" x2="73.1" y2="441" stroke="#444" stroke-width="1.0"/>
<line x1="73.1" y1="408.8" x2="73.1" y2="441" stroke="#000" stroke-width="1.4"/>
<line x1="77.4" y1="411.4" x2="77.4" y2="441" stroke="#666" stroke-width="1.0"/>
<line x1="78.8" y1="418" x2="78.8" y2="441" stroke="#666" stroke-width="1.0"/>
<line x1="84.3" y1="342.3" x2="84.3" y2="441" stroke="#444" stroke-width="1.0"/>
<line x1="84.3" y1="403.4" x2="84.3" y2="441" stroke="#000" stroke-width="1.4"/>
<line x1="85.5" y1="404.3" x2="85.5" y2="441" stroke="#777" stroke-width="1.0"/>
<line x1="89.8" y1="399.3" x2="89.8" y2="441" stroke="#777" stroke-width="1.0"/>
<line x1="92.5" y1="423" x2="92.5" y2="441" stroke="#666" stroke-width="1.0"/>
<line x1="94.7" y1="377.7" x2="94.7" y2="441" stroke="#444" stroke-width="1.0"/>
<line x1="94.7" y1="404" x2="94.7" y2="441" stroke="#000" stroke-width="1.4"/>
<line x1="100.9" y1="376.8" x2="100.9" y2="441" stroke="#666" stroke-width="1.0"/>
<line x1="104.2" y1="410.5" x2="104.2" y2="441" stroke="#555" stroke-width="1.0"/>
<line x1="104.2" y1="410.5" x2="104.2" y2="441" stroke="#000" stroke-width="1.4"/>
<path d="M103.6,427.31 L104.8,427.31 L106.4,434.94 L103.2,434.94 L103.2,441 L106.4,441Z" fill="#000"/>
<line x1="111.7" y1="366.8" x2="111.7" y2="441" stroke="#444" stroke-width="1.0"/>
<line x1="111.7" y1="407" x2="111.7" y2="441" stroke="#000" stroke-width="1.4"/>
<path d="M111.1,415.82 L112.3,415.82 L113.9,434.37 L110.7,434.37 L110.7,441 L113.9,441Z" fill="#000"/>
<line x1="114.4" y1="414" x2="114.4" y2="441" stroke="#666" stroke-width="1.0"/>
<line x1="116.7" y1="420" x2="116.7" y2="441" stroke="#666" stroke-width="1.0"/>
<line x1="122.7" y1="340" x2="122.7" y2="441" stroke="#444" stroke-width="1.0"/>
<line x1="122.7" y1="402.5" x2="122.7" y2="441" stroke="#000" stroke-width="1.4"/>
<path d="M122.1,408.3 L123.3,408.3 L124.9,433.55 L121.7,433.55 L121.7,441 L124.9,441Z" fill="#000"/>
<line x1="125.6" y1="409.7" x2="125.6" y2="441" stroke="#666" stroke-width="1.0"/>
<line x1="127.8" y1="414" x2="127.8" y2="441" stroke="#666" stroke-width="1.0"/>
<line x1="133.6" y1="311.2" x2="133.6" y2="441" stroke="#444" stroke-width="1.0"/>
<line x1="133.6" y1="379.4" x2="133.6" y2="441" stroke="#000" stroke-width="1.4"/>
<path d="M133,402.89 L134.2,402.89 L135.8,432.89 L132.6,432.89 L132.6,441 L135.8,441Z" fill="#000"/>
<line x1="136.7" y1="414" x2="136.7" y2="441" stroke="#666" stroke-width="1.0"/>
<line x1="144.4" y1="305" x2="144.4" y2="441" stroke="#333" stroke-width="1.0"/>
<line x1="144.4" y1="328.3" x2="144.4" y2="441" stroke="#000" stroke-width="1.4"/>
<path d="M143.8,402.57 L145,402.57 L146.6,432.57 L143.4,432.57 L143.4,441 L146.6,441Z" fill="#000"/>
<line x1="149" y1="413" x2="149" y2="441" stroke="#555" stroke-width="1.0"/>
<line x1="154.9" y1="351.2" x2="154.9" y2="441" stroke="#333" stroke-width="1.0"/>
<line x1="154.9" y1="351.2" x2="154.9" y2="441" stroke="#000" stroke-width="1.4"/>
<path d="M154.3,409.8 L155.5,409.8 L157.1,432.25 L153.9,432.25 L153.9,441 L157.1,441Z" fill="#000"/>
<line x1="159.8" y1="399" x2="159.8" y2="441" stroke="#666" stroke-width="1.0"/>
<line x1="166.3" y1="303.8" x2="166.3" y2="441" stroke="#333" stroke-width="1.0"/>
<line x1="166.3" y1="329.5" x2="166.3" y2="441" stroke="#000" stroke-width="1.4"/>
<path d="M165.7,401.91 L166.9,401.91 L168.5,431.91 L165.3,431.91 L165.3,441 L168.5,441Z" fill="#000"/>
<line x1="171" y1="421" x2="171" y2="441" stroke="#555" stroke-width="1.0"/>
<line x1="176.5" y1="352.7" x2="176.5" y2="441" stroke="#333" stroke-width="1.0"/>
<line x1="176.5" y1="381" x2="176.5" y2="441" stroke="#000" stroke-width="1.4"/>
<path d="M175.9,409.53 L177.1,409.53 L178.7,431.61 L175.5,431.61 L175.5,441 L178.7,441Z" fill="#000"/>
<line x1="182" y1="415.9" x2="182" y2="441" stroke="#555" stroke-width="1.0"/>
<line x1="187.6" y1="406" x2="187.6" y2="441" stroke="#444" stroke-width="1.0"/>
<line x1="199" y1="418.6" x2="199" y2="441" stroke="#555" stroke-width="1.0"/>
<line x1="209.3" y1="420" x2="209.3" y2="441" stroke="#555" stroke-width="1.0"/>
<line x1="219.5" y1="424" x2="219.5" y2="441" stroke="#555" stroke-width="1.0"/>
<line x1="313.6" y1="405" x2="313.6" y2="441" stroke="#444" stroke-width="1.0"/>
<line x1="343.2" y1="401" x2="343.2" y2="441" stroke="#333" stroke-width="1.0"/>
<line x1="343.2" y1="412.8" x2="343.2" y2="441" stroke="#000" stroke-width="1.4"/>
<line x1="360" y1="411.5" x2="360" y2="441" stroke="#444" stroke-width="1.0"/>
<line x1="377" y1="385" x2="377" y2="441" stroke="#333" stroke-width="1.0"/>
<line x1="377" y1="413" x2="377" y2="441" stroke="#000" stroke-width="1.4"/>
<line x1="416.4" y1="351.3" x2="416.4" y2="441" stroke="#333" stroke-width="1.0"/>
<line x1="416.4" y1="409.4" x2="416.4" y2="441" stroke="#000" stroke-width="1.4"/>
<line x1="462.4" y1="351.8" x2="462.4" y2="441" stroke="#333" stroke-width="1.0"/>
<line x1="462.4" y1="365.5" x2="462.4" y2="441" stroke="#000" stroke-width="1.4"/>
<line x1="485.6" y1="376" x2="485.6" y2="441" stroke="#333" stroke-width="1.0"/>
<line x1="485.6" y1="396.4" x2="485.6" y2="441" stroke="#000" stroke-width="1.4"/>
<line x1="516.2" y1="383.7" x2="516.2" y2="441" stroke="#333" stroke-width="1.0"/>
<line x1="516.2" y1="386.5" x2="516.2" y2="441" stroke="#000" stroke-width="1.4"/>
<line x1="563.1" y1="407.8" x2="563.1" y2="441" stroke="#444" stroke-width="1.0"/>
<line x1="580.6" y1="410" x2="580.6" y2="441" stroke="#444" stroke-width="1.0"/>
<line x1="645" y1="424.6" x2="645" y2="441" stroke="#444" stroke-width="1.0"/>
<line x1="648.5" y1="426" x2="648.5" y2="441" stroke="#444" stroke-width="1.0"/>
<path d="M23,441 L23,435.77 L23.33,436.23 L23.66,435.96 L23.99,437.3 L24.32,436.16 L24.65,435.21 L24.98,436.66 L25.31,437.27 L25.64,435.27 L25.97,436.05 L26.3,437.13 L26.63,436.06 L26.96,435.17 L27.29,437.11 L27.62,435.57 L27.95,435.99 L28.28,437.08 L28.61,437.15 L28.94,435.28 L29.27,436.85 L29.6,436.62 L29.93,436.1 L30.26,436.63 L30.59,437.4 L30.92,437.01 L31.25,436.55 L31.58,435.82 L31.91,436.23 L32.24,436.65 L32.57,437.14 L32.9,435.76 L33.23,437.15 L33.56,435.92 L33.89,436.49 L34.22,436.36 L34.55,436.75 L34.88,437.12 L35.21,437.18 L35.54,436.14 L35.87,436.98 L36.2,437.39 L36.53,437.14 L36.86,435.38 L37.19,435.95 L37.52,436.29 L37.85,436.71 L38.18,435.67 L38.51,437 L38.84,436.16 L39.17,437.39 L39.5,436.13 L39.83,435.23 L40.16,435.96 L40.49,437.32 L40.82,436.26 L41.15,436.9 L41.48,435.38 L41.81,437.39 L42.14,437.39 L42.47,437.29 L42.8,436.85 L43.13,435.49 L43.46,436.33 L43.79,436.08 L44.12,437.36 L44.45,437.17 L44.78,436.76 L45.11,436.17 L45.44,435.85 L45.77,436.3 L46.1,436.97 L46.43,437.16 L46.76,436.67 L47.09,437.02 L47.42,435.83 L47.75,435.46 L48.08,435.71 L48.41,437.26 L48.74,435.75 L49.07,437.39 L49.4,437.23 L49.73,435.98 L50.06,436.88 L50.39,435.64 L50.72,436.02 L51.05,436.14 L51.38,436.24 L51.71,435.4 L52.04,435.63 L52.37,437.38 L52.7,435.19 L53.03,436.65 L53.36,436.94 L53.69,435.52 L54.02,435.38 L54.35,435.79 L54.68,435.93 L55.01,437.39 L55.34,436.98 L55.67,435.68 L56,435.15 L56.33,436.97 L56.66,435.82 L56.99,437.27 L57.32,435.86 L57.65,436.81 L57.98,437.32 L58.31,437.17 L58.64,436.32 L58.97,436.55 L59.3,436.02 L59.63,436.83 L59.96,436.25 L60.29,436.77 L60.62,435.8 L60.95,437.4 L61.28,436.27 L61.61,436.27 L61.94,437.34 L62.27,435.81 L62.6,436.15 L62.93,435.29 L63.26,437.15 L63.59,436.66 L63.92,435.54 L64.25,435.31 L64.58,436.02 L64.91,436.82 L65.24,435.87 L65.57,436.59 L65.9,436.4 L66.23,436.04 L66.56,435.35 L66.89,437.4 L67.22,435.99 L67.55,435.4 L67.88,436.77 L68.21,437.05 L68.54,436.32 L68.87,437.38 L69.2,435.7 L69.53,436.51 L69.86,436.08 L70.19,435.77 L70.52,437.39 L70.85,437.14 L71.18,436.68 L71.51,436.22 L71.84,436.79 L72.17,436.97 L72.5,437.38 L72.83,436.65 L73.16,435.33 L73.49,437.38 L73.82,436.24 L74.15,437.11 L74.48,435.23 L74.81,435.7 L75.14,437.09 L75.47,435.23 L75.8,436.91 L76.13,436.01 L76.46,437.01 L76.79,436.95 L77.12,437.34 L77.45,436.94 L77.78,436.69 L78.11,437.38 L78.44,437.39 L78.77,437.39 L79.1,435.49 L79.43,436.68 L79.76,435.39 L80.09,436.53 L80.42,436.34 L80.75,436.78 L81.08,435.77 L81.41,436.84 L81.74,435.7 L82.07,436.73 L82.4,437.25 L82.73,436.68 L83.06,437.38 L83.39,436.74 L83.72,436.75 L84.05,435.96 L84.38,435.15 L84.71,437.2 L85.04,436.22 L85.37,435.61 L85.7,436.03 L86.03,437.06 L86.36,436.67 L86.69,435.34 L87.02,436.44 L87.35,436.05 L87.68,436.91 L88.01,435.74 L88.34,436.34 L88.67,435.75 L89,436.97 L89.33,437.06 L89.66,437.16 L89.99,436.25 L90.32,437.3 L90.65,436.79 L90.98,436.01 L91.31,436.9 L91.64,436.91 L91.97,436.94 L92.3,436.4 L92.63,435.63 L92.96,436.82 L93.29,436.18 L93.62,434.86 L93.95,436.22 L94.28,436.73 L94.61,435.24 L94.94,435.01 L95.27,435.46 L95.6,436.53 L95.93,436.08 L96.26,436.5 L96.59,434.82 L96.92,437.02 L97.25,434.91 L97.58,436.55 L97.91,436.77 L98.24,434.94 L98.57,435.06 L98.9,436.88 L99.23,436.38 L99.56,436.76 L99.89,435.1 L100.22,434.57 L100.55,436.31 L100.88,436.13 L101.21,436.76 L101.54,436.64 L101.87,436.68 L102.2,434.99 L102.53,436.38 L102.86,435.71 L103.19,436.2 L103.52,435.51 L103.85,435.39 L104.18,435.95 L104.51,436.13 L104.84,434.17 L105.17,434.05 L105.5,435.53 L105.83,435.7 L106.16,435.34 L106.49,435.24 L106.82,433.83 L107.15,435.52 L107.48,435.75 L107.81,433.77 L108.14,434.79 L108.47,436.19 L108.8,435.07 L109.13,434.13 L109.46,434.97 L109.79,435.82 L110.12,435.53 L110.45,434.34 L110.78,434.9 L111.11,436.25 L111.44,435.56 L111.77,434.21 L112.1,436.13 L112.43,435.27 L112.76,434.76 L113.09,435.51 L113.42,434.27 L113.75,436.03 L114.08,433.29 L114.41,433.94 L114.74,433.47 L115.07,434.72 L115.4,434.88 L115.73,435.33 L116.06,435.83 L116.39,434.64 L116.72,435.27 L117.05,433.32 L117.38,435.62 L117.71,435.85 L118.04,433.54 L118.37,432.74 L118.7,434.77 L119.03,433.13 L119.36,433.71 L119.69,433.42 L120.02,434.14 L120.35,434.41 L120.68,433.94 L121.01,433.27 L121.34,432.61 L121.67,432.84 L122,433.45 L122.33,432.61 L122.66,435.61 L122.99,435.61 L123.32,435.03 L123.65,435.58 L123.98,433.97 L124.31,435.13 L124.64,432.65 L124.97,435.35 L125.3,433.03 L125.63,435.39 L125.96,432.27 L126.29,434.51 L126.62,434.76 L126.95,434.61 L127.28,433.16 L127.61,432.45 L127.94,433.26 L128.27,435.06 L128.6,434.33 L128.93,433.9 L129.26,434.62 L129.59,431.98 L129.92,432.95 L130.25,432.96 L130.58,434.64 L130.91,433.63 L131.24,434.67 L131.57,434.37 L131.9,432.59 L132.23,434.59 L132.56,432.97 L132.89,434.6 L133.22,432.47 L133.55,434.83 L133.88,432.05 L134.21,435.07 L134.54,434.65 L134.87,433.01 L135.2,434.16 L135.53,434.77 L135.86,434.8 L136.19,433.52 L136.52,434.3 L136.85,431.86 L137.18,432.56 L137.51,433.61 L137.84,432.95 L138.17,434.53 L138.5,433.81 L138.83,432.23 L139.16,431.78 L139.49,434.72 L139.82,434.18 L140.15,432.34 L140.48,434.28 L140.81,434.09 L141.14,434.82 L141.47,432.02 L141.8,434.77 L142.13,432.72 L142.46,434.8 L142.79,434.3 L143.12,431.54 L143.45,434.71 L143.78,432.18 L144.11,434.41 L144.44,431.98 L144.77,434.01 L145.1,433.21 L145.43,431.99 L145.76,434.73 L146.09,433.81 L146.42,431.54 L146.75,434.2 L147.08,433.04 L147.41,431.47 L147.74,432.42 L148.07,431.42 L148.4,433.06 L148.73,432.54 L149.06,434.72 L149.39,431.24 L149.72,433.56 L150.05,433.09 L150.38,433.09 L150.71,433.93 L151.04,431.11 L151.37,432.52 L151.7,433.06 L152.03,434.43 L152.36,432.16 L152.69,432.56 L153.02,431.09 L153.35,432.85 L153.68,433.8 L154.01,432.59 L154.34,434.39 L154.67,434.13 L155,432.79 L155.33,432.47 L155.66,430.91 L155.99,434.62 L156.32,431.34 L156.65,433.44 L156.98,434.61 L157.31,433.46 L157.64,432.6 L157.97,433.55 L158.3,433.61 L158.63,431.56 L158.96,433.3 L159.29,430.83 L159.62,433.91 L159.95,434.4 L160.28,433.03 L160.61,431.92 L160.94,433.54 L161.27,433.92 L161.6,432.65 L161.93,431.43 L162.26,432.57 L162.59,432.45 L162.92,433.32 L163.25,432.19 L163.58,431.68 L163.91,434.36 L164.24,430.56 L164.57,433.13 L164.9,433.01 L165.23,432.85 L165.56,431.75 L165.89,432.93 L166.22,432.32 L166.55,433.6 L166.88,433.75 L167.21,432.71 L167.54,434.17 L167.87,434.35 L168.2,431.78 L168.53,434.07 L168.86,432.17 L169.19,430.69 L169.52,431.12 L169.85,434.15 L170.18,432.84 L170.51,432.45 L170.84,433.32 L171.17,433.22 L171.5,430.41 L171.83,433.96 L172.16,430.96 L172.49,431.29 L172.82,433.85 L173.15,433.16 L173.48,432.49 L173.81,430.62 L174.14,434.29 L174.47,430.64 L174.8,434.17 L175.13,433.39 L175.46,434.26 L175.79,430.2 L176.12,430.23 L176.45,432.81 L176.78,431.52 L177.11,434.14 L177.44,432.25 L177.77,433.13 L178.1,432.24 L178.43,433.28 L178.76,431.68 L179.09,432.54 L179.42,432.47 L179.75,432.47 L180.08,433.07 L180.41,432.37 L180.74,431.36 L181.07,431.77 L181.4,433.81 L181.73,431.61 L182.06,433.59 L182.39,431.65 L182.72,431.19 L183.05,431.66 L183.38,430.9 L183.71,432.73 L184.04,429.79 L184.37,430.36 L184.7,432.16 L185.03,433.13 L185.36,430.06 L185.69,431.91 L186.02,433.67 L186.35,432.65 L186.68,433.74 L187.01,432.28 L187.34,433.23 L187.67,433.61 L188,430.92 L188.33,433.01 L188.66,429.83 L188.99,431.25 L189.32,432.68 L189.65,433.06 L189.98,433.6 L190.31,432.8 L190.64,431.88 L190.97,433.91 L191.3,431.77 L191.63,433.32 L191.96,433.47 L192.29,433.51 L192.62,433 L192.95,431.55 L193.28,433.1 L193.61,431.21 L193.94,432.06 L194.27,432.69 L194.6,429.6 L194.93,429.74 L195.26,433.27 L195.59,432.16 L195.92,431.71 L196.25,432.67 L196.58,432.57 L196.91,429.53 L197.24,431.51 L197.57,429.64 L197.9,432.63 L198.23,431.2 L198.56,431.7 L198.89,430.4 L199.22,433.12 L199.55,433.67 L199.88,430.27 L200.21,429.81 L200.54,433.63 L200.87,429.86 L201.2,431.95 L201.53,433.54 L201.86,432.93 L202.19,433.23 L202.52,431.7 L202.85,429.11 L203.18,432.29 L203.51,430.83 L203.84,432.68 L204.17,433.3 L204.5,429.15 L204.83,429.69 L205.16,433.39 L205.49,432.84 L205.82,431.51 L206.15,430.44 L206.48,432.59 L206.81,433.48 L207.14,432.73 L207.47,431.36 L207.8,429.73 L208.13,433.52 L208.46,430.55 L208.79,431.1 L209.12,432.43 L209.45,431.79 L209.78,433.45 L210.11,431.66 L210.44,430.17 L210.77,432.46 L211.1,431.27 L211.43,430.67 L211.76,433.18 L212.09,431.94 L212.42,432.51 L212.75,432.74 L213.08,431.03 L213.41,433.35 L213.74,431.44 L214.07,430.32 L214.4,432.77 L214.73,433.35 L215.06,429.48 L215.39,429.53 L215.72,432.22 L216.05,429.53 L216.38,432.68 L216.71,432.78 L217.04,430.29 L217.37,433.01 L217.7,432.09 L218.03,430.61 L218.36,432.49 L218.69,433.32 L219.02,429.07 L219.35,432.2 L219.68,432.45 L220.01,431.42 L220.34,429.72 L220.67,431.93 L221,431.37 L221.33,430 L221.66,428.91 L221.99,430.88 L222.32,429.81 L222.65,432.73 L222.98,432.74 L223.31,433.19 L223.64,432.57 L223.97,432.73 L224.3,429.82 L224.63,428.99 L224.96,433.17 L225.29,430.71 L225.62,428.78 L225.95,429.18 L226.28,432.82 L226.61,431.05 L226.94,430.55 L227.27,433.15 L227.6,432.56 L227.93,428.92 L228.26,429.92 L228.59,428.76 L228.92,431.82 L229.25,431.62 L229.58,428.68 L229.91,431.42 L230.24,431.44 L230.57,430.08 L230.9,433.25 L231.23,433.15 L231.56,431.52 L231.89,430.73 L232.22,432.32 L232.55,431.44 L232.88,430.18 L233.21,429.52 L233.54,432.66 L233.87,430.28 L234.2,432.8 L234.53,431.64 L234.86,430.26 L235.19,432.37 L235.52,430.92 L235.85,432.58 L236.18,430.89 L236.51,431.57 L236.84,431.9 L237.17,433.11 L237.5,432.06 L237.83,429.98 L238.16,432.96 L238.49,430.02 L238.82,429.77 L239.15,429.2 L239.48,431.41 L239.81,431.46 L240.14,431.62 L240.47,431.25 L240.8,429.49 L241.13,431.22 L241.46,430.62 L241.79,428.35 L242.12,430.37 L242.45,431.01 L242.78,424.72 L243.11,428.36 L243.44,427.41 L243.77,427.48 L244.1,425.84 L244.43,429.51 L244.76,429.71 L245.09,430.37 L245.42,428.19 L245.75,430.82 L246.08,428.54 L246.41,429.42 L246.74,428.92 L247.07,432.82 L247.4,432.83 L247.73,430.13 L248.06,430.75 L248.39,432.43 L248.72,432.06 L249.05,433.42 L249.38,428.85 L249.71,433.18 L250.04,429.89 L250.37,431.72 L250.7,430.33 L251.03,433.27 L251.36,431.4 L251.69,431.67 L252.02,430.47 L252.35,433.07 L252.68,429.1 L253.01,428.76 L253.34,432.82 L253.67,433.24 L254,431.33 L254.33,431.82 L254.66,430.78 L254.99,428.81 L255.32,430.35 L255.65,430.34 L255.98,429.34 L256.31,430.94 L256.64,431.24 L256.97,431.08 L257.3,429.43 L257.63,426.12 L257.96,427.83 L258.29,426.93 L258.62,422.74 L258.95,421.13 L259.28,425.62 L259.61,419.5 L259.94,421.56 L260.27,425.86 L260.6,425.59 L260.93,428.64 L261.26,424.97 L261.59,425.23 L261.92,427.54 L262.25,432.53 L262.58,429.07 L262.91,432.24 L263.24,431.04 L263.57,432.48 L263.9,432.27 L264.23,432.44 L264.56,433.43 L264.89,431.23 L265.22,431.56 L265.55,430.72 L265.88,432.06 L266.21,428.85 L266.54,430.37 L266.87,430.19 L267.2,432.48 L267.53,429.2 L267.86,430.12 L268.19,430.42 L268.52,433.35 L268.85,431.36 L269.18,433.4 L269.51,432.98 L269.84,430.52 L270.17,432.09 L270.5,429.8 L270.83,429.79 L271.16,433.34 L271.49,432.75 L271.82,429.93 L272.15,429.93 L272.48,425.58 L272.81,424.04 L273.14,423.13 L273.47,423.04 L273.8,425.85 L274.13,424.12 L274.46,426.21 L274.79,420.19 L275.12,425.65 L275.45,423.69 L275.78,426.49 L276.11,426.87 L276.44,421.98 L276.77,427.14 L277.1,425.85 L277.43,428.82 L277.76,429.19 L278.09,427.77 L278.42,432.23 L278.75,432.14 L279.08,429.34 L279.41,431.92 L279.74,429.95 L280.07,429.77 L280.4,432.8 L280.73,432.7 L281.06,430.08 L281.39,430.46 L281.72,432.19 L282.05,432.73 L282.38,432.84 L282.71,430.06 L283.04,430.41 L283.37,432.35 L283.7,432.97 L284.03,430.45 L284.36,431.69 L284.69,431.04 L285.02,432.25 L285.35,432.49 L285.68,432.29 L286.01,431.4 L286.34,430.78 L286.67,433.41 L287,433.36 L287.33,430.77 L287.66,427.5 L287.99,428.54 L288.32,423.64 L288.65,428.52 L288.98,425.88 L289.31,420.92 L289.64,421.45 L289.97,427.57 L290.3,425.13 L290.63,426.93 L290.96,426.99 L291.29,422.5 L291.62,426.74 L291.95,428.43 L292.28,430.31 L292.61,427.47 L292.94,428.43 L293.27,423.95 L293.6,423.84 L293.93,421.65 L294.26,427.78 L294.59,424.76 L294.92,420.85 L295.25,424.36 L295.58,419.85 L295.91,424.86 L296.24,422.6 L296.57,428.64 L296.9,424.76 L297.23,428.19 L297.56,425.74 L297.89,428.65 L298.22,429.81 L298.55,430.6 L298.88,428.75 L299.21,433.27 L299.54,430.33 L299.87,429.45 L300.2,433.21 L300.53,431.38 L300.86,432.35 L301.19,430.9 L301.52,432.82 L301.85,431.98 L302.18,431.03 L302.51,433.09 L302.84,430.21 L303.17,433.07 L303.5,433.19 L303.83,429.67 L304.16,428.82 L304.49,427.62 L304.82,428.19 L305.15,424.04 L305.48,421.24 L305.81,421.46 L306.14,421.77 L306.47,427.32 L306.8,420.5 L307.13,427.24 L307.46,421.15 L307.79,426.34 L308.12,425.37 L308.45,429.7 L308.78,431.01 L309.11,429.3 L309.44,431.28 L309.77,432.35 L310.1,430.92 L310.43,430.36 L310.76,432.64 L311.09,429.75 L311.42,431.49 L311.75,426.93 L312.08,427.72 L312.41,424.31 L312.74,428.3 L313.07,425.38 L313.4,427.4 L313.73,422.97 L314.06,419.3 L314.39,418.5 L314.72,418.76 L315.05,421.35 L315.38,418.07 L315.71,421.64 L316.04,423.9 L316.37,427.46 L316.7,424.73 L317.03,424.07 L317.36,431.03 L317.69,430.93 L318.02,429.64 L318.35,430.99 L318.68,431.13 L319.01,431.56 L319.34,433.43 L319.67,430.87 L320,431.19 L320.33,429.79 L320.66,431.12 L320.99,430.97 L321.32,430.91 L321.65,432.93 L321.98,431.82 L322.31,430.09 L322.64,433.04 L322.97,429.61 L323.3,429.45 L323.63,432.4 L323.96,432.39 L324.29,429.06 L324.62,432.61 L324.95,430.5 L325.28,430.47 L325.61,428.81 L325.94,432.55 L326.27,430.42 L326.6,429.02 L326.93,429.05 L327.26,431.77 L327.59,431.69 L327.92,430.17 L328.25,430.61 L328.58,431.67 L328.91,430.13 L329.24,432.57 L329.57,431.25 L329.9,430.99 L330.23,429.66 L330.56,429.2 L330.89,433.26 L331.22,433.22 L331.55,431.53 L331.88,432.11 L332.21,433.26 L332.54,432.84 L332.87,430.27 L333.2,433 L333.53,430.15 L333.86,430.48 L334.19,433.44 L334.52,431.18 L334.85,432.69 L335.18,432.68 L335.51,430.71 L335.84,424.87 L336.17,423.71 L336.5,424.14 L336.83,427.7 L337.16,426.51 L337.49,427.05 L337.82,419.94 L338.15,426.94 L338.48,423.51 L338.81,424.04 L339.14,420.51 L339.47,422.66 L339.8,429.63 L340.13,424.69 L340.46,429.58 L340.79,429.09 L341.12,429.81 L341.45,433.37 L341.78,431.95 L342.11,430.22 L342.44,426.46 L342.77,424.95 L343.1,422.54 L343.43,425.05 L343.76,420.94 L344.09,422.79 L344.42,419.45 L344.75,418.53 L345.08,420.6 L345.41,420.5 L345.74,424.45 L346.07,425.51 L346.4,421.26 L346.73,420.73 L347.06,422.88 L347.39,427.66 L347.72,426.22 L348.05,428.24 L348.38,432.13 L348.71,430.57 L349.04,432 L349.37,431.04 L349.7,428.8 L350.03,430.07 L350.36,428.95 L350.69,431.13 L351.02,432.15 L351.35,429.55 L351.68,432.84 L352.01,433.4 L352.34,429.46 L352.67,432.77 L353,429.38 L353.33,431.19 L353.66,432.45 L353.99,430.41 L354.32,431.82 L354.65,432.43 L354.98,430.48 L355.31,432.81 L355.64,432.34 L355.97,433.43 L356.3,432.03 L356.63,431.07 L356.96,431.33 L357.29,431.3 L357.62,432.78 L357.95,429.03 L358.28,432.61 L358.61,427.47 L358.94,429.27 L359.27,428.37 L359.6,420.47 L359.93,423.41 L360.26,422.99 L360.59,413.53 L360.92,419.76 L361.25,418.84 L361.58,412.07 L361.91,411.73 L362.24,409.93 L362.57,420.35 L362.9,415.88 L363.23,412.18 L363.56,423.84 L363.89,422.31 L364.22,423.54 L364.55,420.67 L364.88,429.07 L365.21,429.15 L365.54,431.42 L365.87,430.7 L366.2,429.92 L366.53,432.7 L366.86,429.87 L367.19,429.47 L367.52,432.89 L367.85,430.53 L368.18,429.04 L368.51,430.25 L368.84,433.37 L369.17,433.25 L369.5,433.21 L369.83,432.84 L370.16,431.39 L370.49,429.15 L370.82,429.47 L371.15,428.95 L371.48,430.1 L371.81,430.09 L372.14,433.3 L372.47,432.06 L372.8,429.18 L373.13,432.75 L373.46,429.64 L373.79,429.94 L374.12,430.5 L374.45,429.62 L374.78,430.7 L375.11,430.86 L375.44,430.82 L375.77,430.7 L376.1,432.26 L376.43,431.44 L376.76,432.37 L377.09,433.41 L377.42,431.11 L377.75,430.93 L378.08,428.77 L378.41,430.18 L378.74,430.08 L379.07,432.01 L379.4,433.33 L379.73,428.91 L380.06,432.38 L380.39,429.36 L380.72,432.58 L381.05,429.74 L381.38,432.34 L381.71,432.57 L382.04,433.11 L382.37,429.48 L382.7,430.23 L383.03,430.1 L383.36,432.34 L383.69,431.11 L384.02,433.31 L384.35,432.31 L384.68,429.77 L385.01,432.33 L385.34,431.45 L385.67,431.93 L386,427.92 L386.33,430.39 L386.66,427.74 L386.99,424.81 L387.32,419.88 L387.65,418.62 L387.98,425.61 L388.31,423.89 L388.64,419.61 L388.97,423.89 L389.3,423.27 L389.63,414.71 L389.96,420.43 L390.29,416.84 L390.62,418.23 L390.95,423.8 L391.28,424.08 L391.61,421.36 L391.94,429.32 L392.27,430.43 L392.6,432.23 L392.93,433.22 L393.26,431.31 L393.59,433.43 L393.92,430.64 L394.25,429.95 L394.58,431.57 L394.91,432.91 L395.24,432.71 L395.57,432.13 L395.9,430.86 L396.23,432.43 L396.56,428.88 L396.89,431.85 L397.22,433.08 L397.55,433.27 L397.88,429.15 L398.21,431.54 L398.54,432.79 L398.87,429.88 L399.2,433.38 L399.53,429.29 L399.86,428.84 L400.19,429.08 L400.52,432.38 L400.85,429.14 L401.18,429.4 L401.51,433.02 L401.84,430.55 L402.17,433.24 L402.5,432.85 L402.83,428.74 L403.16,433 L403.49,429.4 L403.82,429.22 L404.15,429.71 L404.48,433.16 L404.81,431.91 L405.14,431.02 L405.47,430.12 L405.8,431.76 L406.13,430.59 L406.46,433.21 L406.79,430.43 L407.12,432.47 L407.45,431.37 L407.78,429.81 L408.11,429.14 L408.44,430.19 L408.77,429.4 L409.1,432.43 L409.43,433.12 L409.76,428.87 L410.09,430.78 L410.42,429.8 L410.75,429.22 L411.08,430.01 L411.41,430.26 L411.74,432.23 L412.07,432.95 L412.4,433.1 L412.73,429.83 L413.06,428.83 L413.39,429.93 L413.72,431.51 L414.05,432.18 L414.38,432.75 L414.71,430.18 L415.04,430.02 L415.37,424.44 L415.7,423.3 L416.03,422.94 L416.36,420.8 L416.69,416.42 L417.02,416.57 L417.35,416.99 L417.68,419.27 L418.01,407.84 L418.34,418.37 L418.67,414.93 L419,409.01 L419.33,420.75 L419.66,416.78 L419.99,417.83 L420.32,420.23 L420.65,425.34 L420.98,418.76 L421.31,421.16 L421.64,429.27 L421.97,428.62 L422.3,431.37 L422.63,433.19 L422.96,432.19 L423.29,430.19 L423.62,432.43 L423.95,429.12 L424.28,430.35 L424.61,429.19 L424.94,429.58 L425.27,430.27 L425.6,428.87 L425.93,431.16 L426.26,433.18 L426.59,432.3 L426.92,432.1 L427.25,429.45 L427.58,430.58 L427.91,431.76 L428.24,432.37 L428.57,429.73 L428.9,431.99 L429.23,429.94 L429.56,431.78 L429.89,430.69 L430.22,429.29 L430.55,430.81 L430.88,429.42 L431.21,431.53 L431.54,432.91 L431.87,432.98 L432.2,433.12 L432.53,432.35 L432.86,433.33 L433.19,432.98 L433.52,432.03 L433.85,429.74 L434.18,431.7 L434.51,429.14 L434.84,432.18 L435.17,428.98 L435.5,429.06 L435.83,429.52 L436.16,430.93 L436.49,432.73 L436.82,431.43 L437.15,431.05 L437.48,431.68 L437.81,429.44 L438.14,431.95 L438.47,433.38 L438.8,433.38 L439.13,431.68 L439.46,428.85 L439.79,431.2 L440.12,431.94 L440.45,430.91 L440.78,429.57 L441.11,432.25 L441.44,429.93 L441.77,433.29 L442.1,432.07 L442.43,432.09 L442.76,431.6 L443.09,431.38 L443.42,432.45 L443.75,433.03 L444.08,429.29 L444.41,430.9 L444.74,433.28 L445.07,430.69 L445.4,433.24 L445.73,431.84 L446.06,433.28 L446.39,428.85 L446.72,431.91 L447.05,430.81 L447.38,430.54 L447.71,433.41 L448.04,428.89 L448.37,433 L448.7,433.39 L449.03,431.7 L449.36,431.55 L449.69,429.09 L450.02,429.47 L450.35,426.2 L450.68,428.18 L451.01,425.59 L451.34,424.29 L451.67,425.02 L452,421.91 L452.33,425.04 L452.66,419.83 L452.99,424.53 L453.32,423.48 L453.65,415.78 L453.98,418.04 L454.31,423.83 L454.64,421.44 L454.97,425.75 L455.3,427.76 L455.63,427.68 L455.96,430.71 L456.29,430.03 L456.62,432.72 L456.95,431.34 L457.28,431.08 L457.61,429.98 L457.94,428.94 L458.27,430.56 L458.6,429.98 L458.93,430.04 L459.26,429.76 L459.59,430.64 L459.92,430.84 L460.25,429.34 L460.58,430.49 L460.91,429.43 L461.24,429.91 L461.57,431.87 L461.9,426.41 L462.23,425.05 L462.56,426.88 L462.89,424.04 L463.22,424.89 L463.55,417.98 L463.88,423.5 L464.21,420.27 L464.54,422.41 L464.87,421.11 L465.2,425.78 L465.53,426.26 L465.86,425.88 L466.19,426.83 L466.52,424.97 L466.85,428.45 L467.18,427.04 L467.51,430.96 L467.84,430.28 L468.17,431.6 L468.5,432.26 L468.83,433.04 L469.16,431.99 L469.49,432.11 L469.82,433.35 L470.15,430.88 L470.48,433.24 L470.81,432.58 L471.14,432.4 L471.47,429.65 L471.8,432.19 L472.13,433.42 L472.46,431.54 L472.79,432.78 L473.12,433.05 L473.45,429.24 L473.78,433.25 L474.11,432.84 L474.44,433.2 L474.77,432.72 L475.1,433.39 L475.43,431.49 L475.76,430.1 L476.09,431.8 L476.42,430.79 L476.75,429.73 L477.08,430.91 L477.41,433.07 L477.74,429.84 L478.07,428.82 L478.4,428.77 L478.73,432.79 L479.06,429.6 L479.39,432.68 L479.72,432.53 L480.05,431.97 L480.38,430.63 L480.71,432.17 L481.04,432.55 L481.37,432.34 L481.7,433.39 L482.03,431.11 L482.36,430.76 L482.69,431.82 L483.02,428.91 L483.35,430.06 L483.68,432.27 L484.01,431.07 L484.34,431.48 L484.67,432.88 L485,432.12 L485.33,430.65 L485.66,432.22 L485.99,433.01 L486.32,432.16 L486.65,432.82 L486.98,432.39 L487.31,433.3 L487.64,431.36 L487.97,431.63 L488.3,430.77 L488.63,426.54 L488.96,422.62 L489.29,425.15 L489.62,424.12 L489.95,418 L490.28,415.85 L490.61,420.35 L490.94,417.99 L491.27,420.23 L491.6,411.32 L491.93,414.93 L492.26,409.96 L492.59,416.73 L492.92,419.01 L493.25,412.72 L493.58,423.79 L493.91,421.68 L494.24,422.26 L494.57,425.33 L494.9,424.43 L495.23,426.12 L495.56,428.43 L495.89,432.28 L496.22,431.46 L496.55,432.95 L496.88,433.32 L497.21,433.34 L497.54,429.99 L497.87,431.31 L498.2,431.39 L498.53,430.59 L498.86,430.55 L499.19,430.79 L499.52,431.58 L499.85,430.07 L500.18,433 L500.51,430.77 L500.84,432.31 L501.17,433.14 L501.5,430.51 L501.83,429.41 L502.16,433.1 L502.49,433.21 L502.82,431.35 L503.15,431.71 L503.48,433.27 L503.81,432.69 L504.14,431.39 L504.47,433.05 L504.8,431.14 L505.13,433.25 L505.46,430.68 L505.79,430.87 L506.12,430.16 L506.45,429.27 L506.78,429.06 L507.11,430.04 L507.44,431.1 L507.77,430.47 L508.1,431.29 L508.43,430.42 L508.76,430.9 L509.09,431.05 L509.42,433.12 L509.75,430.1 L510.08,432.85 L510.41,430.06 L510.74,429.12 L511.07,431.56 L511.4,430.38 L511.73,433.41 L512.06,429.47 L512.39,432.49 L512.72,433.15 L513.05,431.94 L513.38,432.94 L513.71,432.35 L514.04,432.81 L514.37,429.16 L514.7,429.46 L515.03,431.63 L515.36,430.87 L515.69,432.7 L516.02,431.26 L516.35,429.72 L516.68,432.94 L517.01,431.8 L517.34,433.23 L517.67,433.25 L518,432.61 L518.33,433.18 L518.66,429.18 L518.99,430.24 L519.32,433.15 L519.65,430.69 L519.98,428.95 L520.31,432.09 L520.64,432.37 L520.97,430.47 L521.3,428.98 L521.63,431 L521.96,431.98 L522.29,433.12 L522.62,432.66 L522.95,432.83 L523.28,429.02 L523.61,429.96 L523.94,433.43 L524.27,433.41 L524.6,433.28 L524.93,432.28 L525.26,430.97 L525.59,429.42 L525.92,431.99 L526.25,433 L526.58,429.18 L526.91,431.16 L527.24,433.35 L527.57,433.02 L527.9,428.91 L528.23,429.38 L528.56,430.42 L528.89,433.36 L529.22,429.97 L529.55,432.52 L529.88,429.62 L530.21,433.36 L530.54,432.33 L530.87,431.54 L531.2,430.14 L531.53,431.75 L531.86,431.74 L532.19,429.47 L532.52,432.64 L532.85,432.29 L533.18,430.88 L533.51,431.71 L533.84,431.83 L534.17,432.38 L534.5,430.47 L534.83,430.97 L535.16,427.64 L535.49,425.36 L535.82,428.16 L536.15,427.74 L536.48,423.48 L536.81,421.08 L537.14,427.3 L537.47,421.36 L537.8,421.77 L538.13,423.67 L538.46,424.25 L538.79,428.95 L539.12,427.43 L539.45,431.04 L539.78,432.98 L540.11,429.42 L540.44,432.12 L540.77,429.34 L541.1,431.77 L541.43,433.26 L541.76,429.89 L542.09,430.23 L542.42,428.92 L542.75,430.5 L543.08,429.18 L543.41,431.26 L543.74,433.01 L544.07,428.76 L544.4,433.1 L544.73,431.21 L545.06,433.32 L545.39,432.27 L545.72,433.18 L546.05,433.38 L546.38,429.02 L546.71,431.05 L547.04,432.84 L547.37,432.6 L547.7,430.46 L548.03,432.84 L548.36,433.41 L548.69,429.76 L549.02,431.02 L549.35,432.21 L549.68,430.25 L550.01,433.07 L550.34,430.54 L550.67,432.12 L551,431.33 L551.33,430.62 L551.66,429.3 L551.99,431.64 L552.32,433.25 L552.65,433.16 L552.98,430.86 L553.31,431.08 L553.64,429.13 L553.97,432.53 L554.3,429.54 L554.63,431.43 L554.96,428.76 L555.29,432.54 L555.62,433 L555.95,430.4 L556.28,432.61 L556.61,431.16 L556.94,431.07 L557.27,429.15 L557.6,430.23 L557.93,430.59 L558.26,433.44 L558.59,429.67 L558.92,433.06 L559.25,433.44 L559.58,429.46 L559.91,431.14 L560.24,432.04 L560.57,432.84 L560.9,429.72 L561.23,430.78 L561.56,429.37 L561.89,429.14 L562.22,432.12 L562.55,429.8 L562.88,432.69 L563.21,428.86 L563.54,429.85 L563.87,431.49 L564.2,432.9 L564.53,433.43 L564.86,431.59 L565.19,429.92 L565.52,431.19 L565.85,428.99 L566.18,432.59 L566.51,428.72 L566.84,432.2 L567.17,432.57 L567.5,431.52 L567.83,433.11 L568.16,432.71 L568.49,432.53 L568.82,433.43 L569.15,433.09 L569.48,431.54 L569.81,431.29 L570.14,433.02 L570.47,429.9 L570.8,432.17 L571.13,432.58 L571.46,429.28 L571.79,432.56 L572.12,431.96 L572.45,430.93 L572.78,433.37 L573.11,431.35 L573.44,428.92 L573.77,429.01 L574.1,433.35 L574.43,433.35 L574.76,429.59 L575.09,431.92 L575.42,431.01 L575.75,432.07 L576.08,433.37 L576.41,430.02 L576.74,430.4 L577.07,432.87 L577.4,430.77 L577.73,432.53 L578.06,430.52 L578.39,430.06 L578.72,431.17 L579.05,432.75 L579.38,431.23 L579.71,432.99 L580.04,429.91 L580.37,429.57 L580.7,430.74 L581.03,433.36 L581.36,431.63 L581.69,430.9 L582.02,432.72 L582.35,433.36 L582.68,430.53 L583.01,433.36 L583.34,432.55 L583.67,431.75 L584,433.16 L584.33,432.98 L584.66,433.41 L584.99,430.88 L585.32,426.94 L585.65,429.15 L585.98,428.21 L586.31,424.78 L586.64,424.49 L586.97,423.14 L587.3,427.29 L587.63,425.33 L587.96,425.82 L588.29,425.19 L588.62,420.94 L588.95,421.92 L589.28,421.28 L589.61,423.33 L589.94,428.01 L590.27,428.42 L590.6,430.19 L590.93,432.99 L591.26,429.46 L591.59,430.35 L591.92,433.09 L592.25,430.71 L592.58,432.82 L592.91,432.51 L593.24,429.99 L593.57,429.44 L593.9,430.86 L594.23,433.3 L594.56,432.39 L594.89,430.07 L595.22,432.55 L595.55,431.73 L595.88,431.91 L596.21,432.37 L596.54,431.54 L596.87,433.27 L597.2,432.4 L597.53,432.33 L597.86,430.87 L598.19,432.21 L598.52,431.43 L598.85,433.36 L599.18,431.05 L599.51,433.41 L599.84,432.17 L600.17,431.23 L600.5,430.5 L600.83,428.89 L601.16,431.94 L601.49,433.37 L601.82,432.38 L602.15,432.71 L602.48,429.3 L602.81,433.4 L603.14,432.39 L603.47,429.16 L603.8,431.09 L604.13,433.1 L604.46,432.76 L604.79,431.25 L605.12,431.62 L605.45,431.15 L605.78,430.05 L606.11,432.54 L606.44,431.84 L606.77,433.43 L607.1,431.05 L607.43,429.23 L607.76,428.87 L608.09,430.66 L608.42,431.48 L608.75,433.34 L609.08,432.42 L609.41,430.73 L609.74,431.82 L610.07,431.36 L610.4,433.16 L610.73,432.53 L611.06,432.59 L611.39,433.38 L611.72,429.65 L612.05,433.11 L612.38,431.74 L612.71,431.79 L613.04,429.18 L613.37,429.92 L613.7,433.01 L614.03,429.18 L614.36,429.85 L614.69,430.04 L615.02,430.1 L615.35,429.06 L615.68,429.46 L616.01,430.35 L616.34,431.39 L616.67,430.92 L617,429.45 L617.33,432.6 L617.66,429.64 L617.99,430.64 L618.32,431.58 L618.65,431.2 L618.98,430.21 L619.31,433.09 L619.64,432.21 L619.97,433.05 L620.3,431.86 L620.63,430.76 L620.96,431.78 L621.29,430.79 L621.62,431.72 L621.95,429.53 L622.28,429.94 L622.61,432.56 L622.94,431.6 L623.27,428.89 L623.6,431.87 L623.93,432.84 L624.26,433.39 L624.59,432.45 L624.92,429 L625.25,431.28 L625.58,432.51 L625.91,433.39 L626.24,431.7 L626.57,433.15 L626.9,432.91 L627.23,430.87 L627.56,430.04 L627.89,429.24 L628.22,429.75 L628.55,429.42 L628.88,431.42 L629.21,431.76 L629.54,431.97 L629.87,429.32 L630.2,429.85 L630.53,429.87 L630.86,433.18 L631.19,433.03 L631.52,430.04 L631.85,430.91 L632.18,429.3 L632.51,432.99 L632.84,432.95 L633.17,433.1 L633.5,433.13 L633.83,433.18 L634.16,428.82 L634.49,432.7 L634.82,429.77 L635.15,431.11 L635.48,433.08 L635.81,428.8 L636.14,429.83 L636.47,432.87 L636.8,431.07 L637.13,431.58 L637.46,431.93 L637.79,432.15 L638.12,432.26 L638.45,431.97 L638.78,430.32 L639.11,432.9 L639.44,428.97 L639.77,429.5 L640.1,433.09 L640.43,431.3 L640.76,431.76 L641.09,431.8 L641.42,431.96 L641.75,433.28 L642.08,430.44 L642.41,433.32 L642.74,429.77 L643.07,430.7 L643.4,432.01 L643.73,430.98 L644.06,431.39 L644.39,429.49 L644.72,433.26 L645.05,433.33 L645.38,431.29 L645.71,429.69 L646.04,431.12 L646.37,426.6 L646.7,430.94 L647.03,429.02 L647.36,424.89 L647.69,425.25 L648.02,429.91 L648.35,426.01 L648.68,430.16 L649.01,430.38 L649.34,430.7 L649.67,426.28 L650,431.78 L650.33,432.57 L650.66,431.79 L650.99,431.96 L651.32,431.99 L651.32,441Z" fill="#050505"/>
<path d="M415.6,440.4 L416.9,434 L418.2,440.4Z" fill="#fff"/>
<path d="M449.9,440.4 L451.2,434 L452.5,440.4Z" fill="#fff"/>
<path d="M488.2,440.4 L489.5,434 L490.8,440.4Z" fill="#fff"/>
<path d="M533.7,440.4 L535,434 L536.3,440.4Z" fill="#fff"/>
<path d="M585.5,440.4 L586.8,434 L588.1,440.4Z" fill="#fff"/>
<path d="M342.2,440.4 L343.5,434 L344.8,440.4Z" fill="#fff"/>
<line x1="22.7" y1="277.3" x2="22.7" y2="441.5" stroke="#555" stroke-width="1.4"/>
<line x1="18.5" y1="441" x2="22.7" y2="441" stroke="#444" stroke-width="1"/>
<line x1="21.1" y1="424.63" x2="22.7" y2="424.63" stroke="#444" stroke-width="1"/>
<line x1="21.1" y1="408.26" x2="22.7" y2="408.26" stroke="#444" stroke-width="1"/>
<line x1="21.1" y1="391.89" x2="22.7" y2="391.89" stroke="#444" stroke-width="1"/>
<line x1="21.1" y1="375.52" x2="22.7" y2="375.52" stroke="#444" stroke-width="1"/>
<line x1="18.5" y1="359.15" x2="22.7" y2="359.15" stroke="#444" stroke-width="1"/>
<line x1="21.1" y1="342.78" x2="22.7" y2="342.78" stroke="#444" stroke-width="1"/>
<line x1="21.1" y1="326.41" x2="22.7" y2="326.41" stroke="#444" stroke-width="1"/>
<line x1="21.1" y1="310.04" x2="22.7" y2="310.04" stroke="#444" stroke-width="1"/>
<line x1="21.1" y1="293.67" x2="22.7" y2="293.67" stroke="#444" stroke-width="1"/>
<line x1="18.5" y1="277.3" x2="22.7" y2="277.3" stroke="#444" stroke-width="1"/>
<line x1="18.5" y1="441" x2="651.5" y2="441" stroke="#222" stroke-width="1.2"/>
<line x1="24.6" y1="441" x2="24.6" y2="444.6" stroke="#333" stroke-width="0.9"/>
<line x1="28.52" y1="441" x2="28.52" y2="443.5" stroke="#333" stroke-width="0.9"/>
<line x1="32.43" y1="441" x2="32.43" y2="443.5" stroke="#333" stroke-width="0.9"/>
<line x1="36.34" y1="441" x2="36.34" y2="443.5" stroke="#333" stroke-width="0.9"/>
<line x1="40.26" y1="441" x2="40.26" y2="443.5" stroke="#333" stroke-width="0.9"/>
<line x1="44.17" y1="441" x2="44.17" y2="444.6" stroke="#333" stroke-width="0.9"/>
<line x1="48.09" y1="441" x2="48.09" y2="443.5" stroke="#333" stroke-width="0.9"/>
<line x1="52.01" y1="441" x2="52.01" y2="443.5" stroke="#333" stroke-width="0.9"/>
<line x1="55.92" y1="441" x2="55.92" y2="443.5" stroke="#333" stroke-width="0.9"/>
<line x1="59.84" y1="441" x2="59.84" y2="443.5" stroke="#333" stroke-width="0.9"/>
<line x1="63.75" y1="441" x2="63.75" y2="444.6" stroke="#333" stroke-width="0.9"/>
<line x1="67.67" y1="441" x2="67.67" y2="443.5" stroke="#333" stroke-width="0.9"/>
<line x1="71.58" y1="441" x2="71.58" y2="443.5" stroke="#333" stroke-width="0.9"/>
<line x1="75.5" y1="441" x2="75.5" y2="443.5" stroke="#333" stroke-width="0.9"/>
<line x1="79.41" y1="441" x2="79.41" y2="443.5" stroke="#333" stroke-width="0.9"/>
<line x1="83.33" y1="441" x2="83.33" y2="444.6" stroke="#333" stroke-width="0.9"/>
<line x1="87.24" y1="441" x2="87.24" y2="443.5" stroke="#333" stroke-width="0.9"/>
<line x1="91.16" y1="441" x2="91.16" y2="443.5" stroke="#333" stroke-width="0.9"/>
<line x1="95.07" y1="441" x2="95.07" y2="443.5" stroke="#333" stroke-width="0.9"/>
<line x1="98.99" y1="441" x2="98.99" y2="443.5" stroke="#333" stroke-width="0.9"/>
<line x1="102.9" y1="441" x2="102.9" y2="444.6" stroke="#333" stroke-width="0.9"/>
<line x1="106.81" y1="441" x2="106.81" y2="443.5" stroke="#333" stroke-width="0.9"/>
<line x1="110.73" y1="441" x2="110.73" y2="443.5" stroke="#333" stroke-width="0.9"/>
<line x1="114.65" y1="441" x2="114.65" y2="443.5" stroke="#333" stroke-width="0.9"/>
<line x1="118.56" y1="441" x2="118.56" y2="443.5" stroke="#333" stroke-width="0.9"/>
<line x1="122.47" y1="441" x2="122.47" y2="444.6" stroke="#333" stroke-width="0.9"/>
<line x1="126.39" y1="441" x2="126.39" y2="443.5" stroke="#333" stroke-width="0.9"/>
<line x1="130.31" y1="441" x2="130.31" y2="443.5" stroke="#333" stroke-width="0.9"/>
<line x1="134.22" y1="441" x2="134.22" y2="443.5" stroke="#333" stroke-width="0.9"/>
<line x1="138.14" y1="441" x2="138.14" y2="443.5" stroke="#333" stroke-width="0.9"/>
<line x1="142.05" y1="441" x2="142.05" y2="444.6" stroke="#333" stroke-width="0.9"/>
<line x1="145.97" y1="441" x2="145.97" y2="443.5" stroke="#333" stroke-width="0.9"/>
<line x1="149.88" y1="441" x2="149.88" y2="443.5" stroke="#333" stroke-width="0.9"/>
<line x1="153.79" y1="441" x2="153.79" y2="443.5" stroke="#333" stroke-width="0.9"/>
<line x1="157.71" y1="441" x2="157.71" y2="443.5" stroke="#333" stroke-width="0.9"/>
<line x1="161.62" y1="441" x2="161.62" y2="444.6" stroke="#333" stroke-width="0.9"/>
<line x1="165.54" y1="441" x2="165.54" y2="443.5" stroke="#333" stroke-width="0.9"/>
<line x1="169.46" y1="441" x2="169.46" y2="443.5" stroke="#333" stroke-width="0.9"/>
<line x1="173.37" y1="441" x2="173.37" y2="443.5" stroke="#333" stroke-width="0.9"/>
<line x1="177.28" y1="441" x2="177.28" y2="443.5" stroke="#333" stroke-width="0.9"/>
<line x1="181.2" y1="441" x2="181.2" y2="444.6" stroke="#333" stroke-width="0.9"/>
<line x1="185.12" y1="441" x2="185.12" y2="443.5" stroke="#333" stroke-width="0.9"/>
<line x1="189.03" y1="441" x2="189.03" y2="443.5" stroke="#333" stroke-width="0.9"/>
<line x1="192.94" y1="441" x2="192.94" y2="443.5" stroke="#333" stroke-width="0.9"/>
<line x1="196.86" y1="441" x2="196.86" y2="443.5" stroke="#333" stroke-width="0.9"/>
<line x1="200.78" y1="441" x2="200.78" y2="444.6" stroke="#333" stroke-width="0.9"/>
<line x1="204.69" y1="441" x2="204.69" y2="443.5" stroke="#333" stroke-width="0.9"/>
<line x1="208.6" y1="441" x2="208.6" y2="443.5" stroke="#333" stroke-width="0.9"/>
<line x1="212.52" y1="441" x2="212.52" y2="443.5" stroke="#333" stroke-width="0.9"/>
<line x1="216.44" y1="441" x2="216.44" y2="443.5" stroke="#333" stroke-width="0.9"/>
<line x1="220.35" y1="441" x2="220.35" y2="444.6" stroke="#333" stroke-width="0.9"/>
<line x1="224.27" y1="441" x2="224.27" y2="443.5" stroke="#333" stroke-width="0.9"/>
<line x1="228.18" y1="441" x2="228.18" y2="443.5" stroke="#333" stroke-width="0.9"/>
<line x1="232.09" y1="441" x2="232.09" y2="443.5" stroke="#333" stroke-width="0.9"/>
<line x1="236.01" y1="441" x2="236.01" y2="443.5" stroke="#333" stroke-width="0.9"/>
<line x1="239.93" y1="441" x2="239.93" y2="444.6" stroke="#333" stroke-width="0.9"/>
<line x1="243.84" y1="441" x2="243.84" y2="443.5" stroke="#333" stroke-width="0.9"/>
<line x1="247.75" y1="441" x2="247.75" y2="443.5" stroke="#333" stroke-width="0.9"/>
<line x1="251.67" y1="441" x2="251.67" y2="443.5" stroke="#333" stroke-width="0.9"/>
<line x1="255.59" y1="441" x2="255.59" y2="443.5" stroke="#333" stroke-width="0.9"/>
<line x1="259.5" y1="441" x2="259.5" y2="444.6" stroke="#333" stroke-width="0.9"/>
<line x1="263.42" y1="441" x2="263.42" y2="443.5" stroke="#333" stroke-width="0.9"/>
<line x1="267.33" y1="441" x2="267.33" y2="443.5" stroke="#333" stroke-width="0.9"/>
<line x1="271.25" y1="441" x2="271.25" y2="443.5" stroke="#333" stroke-width="0.9"/>
<line x1="275.16" y1="441" x2="275.16" y2="443.5" stroke="#333" stroke-width="0.9"/>
<line x1="279.08" y1="441" x2="279.08" y2="444.6" stroke="#333" stroke-width="0.9"/>
<line x1="282.99" y1="441" x2="282.99" y2="443.5" stroke="#333" stroke-width="0.9"/>
<line x1="286.91" y1="441" x2="286.91" y2="443.5" stroke="#333" stroke-width="0.9"/>
<line x1="290.82" y1="441" x2="290.82" y2="443.5" stroke="#333" stroke-width="0.9"/>
<line x1="294.74" y1="441" x2="294.74" y2="443.5" stroke="#333" stroke-width="0.9"/>
<line x1="298.65" y1="441" x2="298.65" y2="444.6" stroke="#333" stroke-width="0.9"/>
<line x1="302.57" y1="441" x2="302.57" y2="443.5" stroke="#333" stroke-width="0.9"/>
<line x1="306.48" y1="441" x2="306.48" y2="443.5" stroke="#333" stroke-width="0.9"/>
<line x1="310.4" y1="441" x2="310.4" y2="443.5" stroke="#333" stroke-width="0.9"/>
<line x1="314.31" y1="441" x2="314.31" y2="443.5" stroke="#333" stroke-width="0.9"/>
<line x1="318.23" y1="441" x2="318.23" y2="444.6" stroke="#333" stroke-width="0.9"/>
<line x1="322.14" y1="441" x2="322.14" y2="443.5" stroke="#333" stroke-width="0.9"/>
<line x1="326.06" y1="441" x2="326.06" y2="443.5" stroke="#333" stroke-width="0.9"/>
<line x1="329.97" y1="441" x2="329.97" y2="443.5" stroke="#333" stroke-width="0.9"/>
<line x1="333.89" y1="441" x2="333.89" y2="443.5" stroke="#333" stroke-width="0.9"/>
<line x1="337.8" y1="441" x2="337.8" y2="444.6" stroke="#333" stroke-width="0.9"/>
<line x1="341.72" y1="441" x2="341.72" y2="443.5" stroke="#333" stroke-width="0.9"/>
<line x1="345.63" y1="441" x2="345.63" y2="443.5" stroke="#333" stroke-width="0.9"/>
<line x1="349.55" y1="441" x2="349.55" y2="443.5" stroke="#333" stroke-width="0.9"/>
<line x1="353.46" y1="441" x2="353.46" y2="443.5" stroke="#333" stroke-width="0.9"/>
<line x1="357.38" y1="441" x2="357.38" y2="444.6" stroke="#333" stroke-width="0.9"/>
<line x1="361.29" y1="441" x2="361.29" y2="443.5" stroke="#333" stroke-width="0.9"/>
<line x1="365.21" y1="441" x2="365.21" y2="443.5" stroke="#333" stroke-width="0.9"/>
<line x1="369.12" y1="441" x2="369.12" y2="443.5" stroke="#333" stroke-width="0.9"/>
<line x1="373.04" y1="441" x2="373.04" y2="443.5" stroke="#333" stroke-width="0.9"/>
<line x1="376.95" y1="441" x2="376.95" y2="444.6" stroke="#333" stroke-width="0.9"/>
<line x1="380.87" y1="441" x2="380.87" y2="443.5" stroke="#333" stroke-width="0.9"/>
<line x1="384.78" y1="441" x2="384.78" y2="443.5" stroke="#333" stroke-width="0.9"/>
<line x1="388.7" y1="441" x2="388.7" y2="443.5" stroke="#333" stroke-width="0.9"/>
<line x1="392.61" y1="441" x2="392.61" y2="443.5" stroke="#333" stroke-width="0.9"/>
<line x1="396.53" y1="441" x2="396.53" y2="444.6" stroke="#333" stroke-width="0.9"/>
<line x1="400.44" y1="441" x2="400.44" y2="443.5" stroke="#333" stroke-width="0.9"/>
<line x1="404.36" y1="441" x2="404.36" y2="443.5" stroke="#333" stroke-width="0.9"/>
<line x1="408.27" y1="441" x2="408.27" y2="443.5" stroke="#333" stroke-width="0.9"/>
<line x1="412.19" y1="441" x2="412.19" y2="443.5" stroke="#333" stroke-width="0.9"/>
<line x1="416.1" y1="441" x2="416.1" y2="444.6" stroke="#333" stroke-width="0.9"/>
<line x1="420.02" y1="441" x2="420.02" y2="443.5" stroke="#333" stroke-width="0.9"/>
<line x1="423.93" y1="441" x2="423.93" y2="443.5" stroke="#333" stroke-width="0.9"/>
<line x1="427.85" y1="441" x2="427.85" y2="443.5" stroke="#333" stroke-width="0.9"/>
<line x1="431.76" y1="441" x2="431.76" y2="443.5" stroke="#333" stroke-width="0.9"/>
<line x1="435.68" y1="441" x2="435.68" y2="444.6" stroke="#333" stroke-width="0.9"/>
<line x1="439.59" y1="441" x2="439.59" y2="443.5" stroke="#333" stroke-width="0.9"/>
<line x1="443.51" y1="441" x2="443.51" y2="443.5" stroke="#333" stroke-width="0.9"/>
<line x1="447.42" y1="441" x2="447.42" y2="443.5" stroke="#333" stroke-width="0.9"/>
<line x1="451.34" y1="441" x2="451.34" y2="443.5" stroke="#333" stroke-width="0.9"/>
<line x1="455.25" y1="441" x2="455.25" y2="444.6" stroke="#333" stroke-width="0.9"/>
<line x1="459.17" y1="441" x2="459.17" y2="443.5" stroke="#333" stroke-width="0.9"/>
<line x1="463.08" y1="441" x2="463.08" y2="443.5" stroke="#333" stroke-width="0.9"/>
<line x1="467" y1="441" x2="467" y2="443.5" stroke="#333" stroke-width="0.9"/>
<line x1="470.91" y1="441" x2="470.91" y2="443.5" stroke="#333" stroke-width="0.9"/>
<line x1="474.83" y1="441" x2="474.83" y2="444.6" stroke="#333" stroke-width="0.9"/>
<line x1="478.74" y1="441" x2="478.74" y2="443.5" stroke="#333" stroke-width="0.9"/>
<line x1="482.66" y1="441" x2="482.66" y2="443.5" stroke="#333" stroke-width="0.9"/>
<line x1="486.57" y1="441" x2="486.57" y2="443.5" stroke="#333" stroke-width="0.9"/>
<line x1="490.49" y1="441" x2="490.49" y2="443.5" stroke="#333" stroke-width="0.9"/>
<line x1="494.4" y1="441" x2="494.4" y2="444.6" stroke="#333" stroke-width="0.9"/>
<line x1="498.32" y1="441" x2="498.32" y2="443.5" stroke="#333" stroke-width="0.9"/>
<line x1="502.23" y1="441" x2="502.23" y2="443.5" stroke="#333" stroke-width="0.9"/>
<line x1="506.15" y1="441" x2="506.15" y2="443.5" stroke="#333" stroke-width="0.9"/>
<line x1="510.06" y1="441" x2="510.06" y2="443.5" stroke="#333" stroke-width="0.9"/>
<line x1="513.98" y1="441" x2="513.98" y2="444.6" stroke="#333" stroke-width="0.9"/>
<line x1="517.89" y1="441" x2="517.89" y2="443.5" stroke="#333" stroke-width="0.9"/>
<line x1="521.81" y1="441" x2="521.81" y2="443.5" stroke="#333" stroke-width="0.9"/>
<line x1="525.72" y1="441" x2="525.72" y2="443.5" stroke="#333" stroke-width="0.9"/>
<line x1="529.63" y1="441" x2="529.63" y2="443.5" stroke="#333" stroke-width="0.9"/>
<line x1="533.55" y1="441" x2="533.55" y2="444.6" stroke="#333" stroke-width="0.9"/>
<line x1="537.47" y1="441" x2="537.47" y2="443.5" stroke="#333" stroke-width="0.9"/>
<line x1="541.38" y1="441" x2="541.38" y2="443.5" stroke="#333" stroke-width="0.9"/>
<line x1="545.3" y1="441" x2="545.3" y2="443.5" stroke="#333" stroke-width="0.9"/>
<line x1="549.21" y1="441" x2="549.21" y2="443.5" stroke="#333" stroke-width="0.9"/>
<line x1="553.12" y1="441" x2="553.12" y2="444.6" stroke="#333" stroke-width="0.9"/>
<line x1="557.04" y1="441" x2="557.04" y2="443.5" stroke="#333" stroke-width="0.9"/>
<line x1="560.96" y1="441" x2="560.96" y2="443.5" stroke="#333" stroke-width="0.9"/>
<line x1="564.87" y1="441" x2="564.87" y2="443.5" stroke="#333" stroke-width="0.9"/>
<line x1="568.79" y1="441" x2="568.79" y2="443.5" stroke="#333" stroke-width="0.9"/>
<line x1="572.7" y1="441" x2="572.7" y2="444.6" stroke="#333" stroke-width="0.9"/>
<line x1="576.62" y1="441" x2="576.62" y2="443.5" stroke="#333" stroke-width="0.9"/>
<line x1="580.53" y1="441" x2="580.53" y2="443.5" stroke="#333" stroke-width="0.9"/>
<line x1="584.45" y1="441" x2="584.45" y2="443.5" stroke="#333" stroke-width="0.9"/>
<line x1="588.36" y1="441" x2="588.36" y2="443.5" stroke="#333" stroke-width="0.9"/>
<line x1="592.28" y1="441" x2="592.28" y2="444.6" stroke="#333" stroke-width="0.9"/>
<line x1="596.19" y1="441" x2="596.19" y2="443.5" stroke="#333" stroke-width="0.9"/>
<line x1="600.11" y1="441" x2="600.11" y2="443.5" stroke="#333" stroke-width="0.9"/>
<line x1="604.02" y1="441" x2="604.02" y2="443.5" stroke="#333" stroke-width="0.9"/>
<line x1="607.94" y1="441" x2="607.94" y2="443.5" stroke="#333" stroke-width="0.9"/>
<line x1="611.85" y1="441" x2="611.85" y2="444.6" stroke="#333" stroke-width="0.9"/>
<line x1="615.77" y1="441" x2="615.77" y2="443.5" stroke="#333" stroke-width="0.9"/>
<line x1="619.68" y1="441" x2="619.68" y2="443.5" stroke="#333" stroke-width="0.9"/>
<line x1="623.6" y1="441" x2="623.6" y2="443.5" stroke="#333" stroke-width="0.9"/>
<line x1="627.51" y1="441" x2="627.51" y2="443.5" stroke="#333" stroke-width="0.9"/>
<line x1="631.43" y1="441" x2="631.43" y2="444.6" stroke="#333" stroke-width="0.9"/>
<text x="24.6" y="452.9" font-size="8.6" text-anchor="middle" font-weight="normal" fill="#1a1a1a" stroke="#1a1a1a" stroke-width="0.28" >400</text>
<text x="63.75" y="452.9" font-size="8.6" text-anchor="middle" font-weight="normal" fill="#1a1a1a" stroke="#1a1a1a" stroke-width="0.28" >500</text>
<text x="102.9" y="452.9" font-size="8.6" text-anchor="middle" font-weight="normal" fill="#1a1a1a" stroke="#1a1a1a" stroke-width="0.28" >600</text>
<text x="142.05" y="452.9" font-size="8.6" text-anchor="middle" font-weight="normal" fill="#1a1a1a" stroke="#1a1a1a" stroke-width="0.28" >700</text>
<text x="181.2" y="452.9" font-size="8.6" text-anchor="middle" font-weight="normal" fill="#1a1a1a" stroke="#1a1a1a" stroke-width="0.28" >800</text>
<text x="220.35" y="452.9" font-size="8.6" text-anchor="middle" font-weight="normal" fill="#1a1a1a" stroke="#1a1a1a" stroke-width="0.28" >900</text>
<text x="259.5" y="452.9" font-size="8.6" text-anchor="middle" font-weight="normal" fill="#1a1a1a" stroke="#1a1a1a" stroke-width="0.28" >1000</text>
<text x="298.65" y="452.9" font-size="8.6" text-anchor="middle" font-weight="normal" fill="#1a1a1a" stroke="#1a1a1a" stroke-width="0.28" >1100</text>
<text x="337.8" y="452.9" font-size="8.6" text-anchor="middle" font-weight="normal" fill="#1a1a1a" stroke="#1a1a1a" stroke-width="0.28" >1200</text>
<text x="376.95" y="452.9" font-size="8.6" text-anchor="middle" font-weight="normal" fill="#1a1a1a" stroke="#1a1a1a" stroke-width="0.28" >1300</text>
<text x="416.1" y="452.9" font-size="8.6" text-anchor="middle" font-weight="normal" fill="#1a1a1a" stroke="#1a1a1a" stroke-width="0.28" >1400</text>
<text x="455.25" y="452.9" font-size="8.6" text-anchor="middle" font-weight="normal" fill="#1a1a1a" stroke="#1a1a1a" stroke-width="0.28" >1500</text>
<text x="494.4" y="452.9" font-size="8.6" text-anchor="middle" font-weight="normal" fill="#1a1a1a" stroke="#1a1a1a" stroke-width="0.28" >1600</text>
<text x="533.55" y="452.9" font-size="8.6" text-anchor="middle" font-weight="normal" fill="#1a1a1a" stroke="#1a1a1a" stroke-width="0.28" >1700</text>
<text x="572.7" y="452.9" font-size="8.6" text-anchor="middle" font-weight="normal" fill="#1a1a1a" stroke="#1a1a1a" stroke-width="0.28" >1800</text>
<text x="611.85" y="452.9" font-size="8.6" text-anchor="middle" font-weight="normal" fill="#1a1a1a" stroke="#1a1a1a" stroke-width="0.28" >1900</text>
<text x="18" y="281.3" font-size="8.6" text-anchor="end" font-weight="normal" fill="#1a1a1a" stroke="#1a1a1a" stroke-width="0.28" >100</text>
<text x="18" y="444.8" font-size="8.6" text-anchor="end" font-weight="normal" fill="#1a1a1a" stroke="#1a1a1a" stroke-width="0.28" >0</text>
<text x="655.8" y="444.6" font-size="8.6" text-anchor="start" font-weight="normal" fill="#1a1a1a" stroke="#1a1a1a" stroke-width="0.28" >m/z</text>
<text transform="translate(60.85,99.5) scale(0.93,1)" font-size="8.4" text-anchor="middle" font-weight="normal" fill="#1a1a1a" stroke="#1a1a1a" stroke-width="0.28" >523.47</text>
<path d="M68,100.5 L73,105.5 L73,110" fill="none" stroke="#333" stroke-width="0.9" stroke-linejoin="round"/>
<text transform="translate(83.8,90.2) scale(0.93,1)" font-size="8.4" text-anchor="middle" font-weight="normal" fill="#1a1a1a" stroke="#1a1a1a" stroke-width="0.28" >551.50</text>
<text transform="translate(110.35,91.1) scale(0.93,1)" font-size="8.4" text-anchor="middle" font-weight="normal" fill="#1a1a1a" stroke="#1a1a1a" stroke-width="0.28" >649.48</text>
<path d="M117.8,91.8 L122.5,97 L122.5,101" fill="none" stroke="#333" stroke-width="0.9" stroke-linejoin="round"/>
<text transform="translate(133.3,38.2) scale(0.93,1)" font-size="8.4" text-anchor="middle" font-weight="normal" fill="#1a1a1a" stroke="#1a1a1a" stroke-width="0.28" >677.50</text>
<text transform="translate(155.5,61.5) scale(0.93,1)" font-size="8.4" text-anchor="middle" font-weight="normal" fill="#1a1a1a" stroke="#1a1a1a" stroke-width="0.28" >703.52</text>
<path d="M148.5,62.5 L144.3,67.5 L144.3,72" fill="none" stroke="#333" stroke-width="0.9" stroke-linejoin="round"/>
<text transform="translate(165.8,112.8) scale(0.93,1)" font-size="8.4" text-anchor="middle" font-weight="normal" fill="#1a1a1a" stroke="#1a1a1a" stroke-width="0.28" >760.57</text>
<text transform="translate(264.1,118.2) scale(0.93,1)" font-size="8.4" text-anchor="middle" font-weight="normal" fill="#1a1a1a" stroke="#1a1a1a" stroke-width="0.28" >1045.44</text>
<path d="M272.7,119 L278.1,124 L278.1,130" fill="none" stroke="#333" stroke-width="0.9" stroke-linejoin="round"/>
<text transform="translate(303.1,94.3) scale(0.93,1)" font-size="8.4" text-anchor="middle" font-weight="normal" fill="#1a1a1a" stroke="#1a1a1a" stroke-width="0.28" >1144.87</text>
<path d="M311,95 L317,100.5 L317,105" fill="none" stroke="#333" stroke-width="0.9" stroke-linejoin="round"/>
<text transform="translate(339,93) scale(0.93,1)" font-size="8.4" text-anchor="middle" font-weight="normal" fill="#1a1a1a" stroke="#1a1a1a" stroke-width="0.28" >1202.10</text>
<text transform="translate(371.8,98.7) scale(0.93,1)" font-size="8.4" text-anchor="middle" font-weight="normal" fill="#1a1a1a" stroke="#1a1a1a" stroke-width="0.28" >1335.55</text>
<path d="M385.7,97.2 L392,98.8 L392,104" fill="none" stroke="#333" stroke-width="0.9" stroke-linejoin="round"/>
<text transform="translate(422.5,80.4) scale(0.93,1)" font-size="8.4" text-anchor="middle" font-weight="normal" fill="#1a1a1a" stroke="#1a1a1a" stroke-width="0.28" >1413.79</text>
<text transform="translate(456.6,114.3) scale(0.93,1)" font-size="8.4" text-anchor="middle" font-weight="normal" fill="#1a1a1a" stroke="#1a1a1a" stroke-width="0.28" >1502.35</text>
<text transform="translate(495.5,115.8) scale(0.93,1)" font-size="8.4" text-anchor="middle" font-weight="normal" fill="#1a1a1a" stroke="#1a1a1a" stroke-width="0.28" >1602.47</text>
<text transform="translate(555.4,121.5) scale(0.93,1)" font-size="8.4" text-anchor="middle" font-weight="normal" fill="#1a1a1a" stroke="#1a1a1a" stroke-width="0.28" >1716.85</text>
<path d="M545,123 L540.5,128.8 L540.5,133" fill="none" stroke="#333" stroke-width="0.9" stroke-linejoin="round"/>
<text transform="translate(592,142) scale(0.93,1)" font-size="8.4" text-anchor="middle" font-weight="normal" fill="#1a1a1a" stroke="#1a1a1a" stroke-width="0.28" >1848.84</text>
<text transform="translate(83.8,341.1) scale(0.93,1)" font-size="8.4" text-anchor="middle" font-weight="normal" fill="#1a1a1a" stroke="#1a1a1a" stroke-width="0.28" >551.50</text>
<text transform="translate(99.1,361.4) scale(0.93,1)" font-size="8.4" text-anchor="middle" font-weight="normal" fill="#1a1a1a" stroke="#1a1a1a" stroke-width="0.28" >621.44</text>
<path d="M106.3,362.2 L111.7,367 L111.7,372" fill="none" stroke="#333" stroke-width="0.9" stroke-linejoin="round"/>
<text transform="translate(110.35,334.8) scale(0.93,1)" font-size="8.4" text-anchor="middle" font-weight="normal" fill="#1a1a1a" stroke="#1a1a1a" stroke-width="0.28" >649.47</text>
<path d="M118,335.6 L122.7,340.3 L122.7,345" fill="none" stroke="#333" stroke-width="0.9" stroke-linejoin="round"/>
<text transform="translate(131.7,300.3) scale(0.93,1)" font-size="8.4" text-anchor="middle" font-weight="normal" fill="#1a1a1a" stroke="#1a1a1a" stroke-width="0.28" >703.53</text>
<path d="M139,301 L144.4,305.5 L144.4,310" fill="none" stroke="#333" stroke-width="0.9" stroke-linejoin="round"/>
<text transform="translate(165.9,303.3) scale(0.93,1)" font-size="8.4" text-anchor="middle" font-weight="normal" fill="#1a1a1a" stroke="#1a1a1a" stroke-width="0.28" >760.57</text>
<text transform="translate(188.2,346.9) scale(0.93,1)" font-size="8.4" text-anchor="middle" font-weight="normal" fill="#1a1a1a" stroke="#1a1a1a" stroke-width="0.28" >787.60</text>
<path d="M181,347.6 L176.5,353 L176.5,357" fill="none" stroke="#333" stroke-width="0.9" stroke-linejoin="round"/>
<text transform="translate(199.45,399.9) scale(0.93,1)" font-size="8.4" text-anchor="middle" font-weight="normal" fill="#1a1a1a" stroke="#1a1a1a" stroke-width="0.28" >815.65</text>
<path d="M192.7,401.3 L187.6,406 L187.6,410" fill="none" stroke="#333" stroke-width="0.9" stroke-linejoin="round"/>
<text transform="translate(300,399.7) scale(0.93,1)" font-size="8.4" text-anchor="middle" font-weight="normal" fill="#1a1a1a" stroke="#1a1a1a" stroke-width="0.28" >1137.57</text>
<path d="M309.7,401 L313.6,405 L313.6,410" fill="none" stroke="#333" stroke-width="0.9" stroke-linejoin="round"/>
<text transform="translate(329.55,394.7) scale(0.93,1)" font-size="8.4" text-anchor="middle" font-weight="normal" fill="#1a1a1a" stroke="#1a1a1a" stroke-width="0.28" >1213.48</text>
<path d="M339,395.5 L343.2,401 L343.2,405" fill="none" stroke="#333" stroke-width="0.9" stroke-linejoin="round"/>
<text transform="translate(377.2,384) scale(0.93,1)" font-size="8.4" text-anchor="middle" font-weight="normal" fill="#1a1a1a" stroke="#1a1a1a" stroke-width="0.28" >1299.99</text>
<text transform="translate(416.55,350.9) scale(0.93,1)" font-size="8.4" text-anchor="middle" font-weight="normal" fill="#1a1a1a" stroke="#1a1a1a" stroke-width="0.28" >1399.98</text>
<text transform="translate(462.25,351) scale(0.93,1)" font-size="8.4" text-anchor="middle" font-weight="normal" fill="#1a1a1a" stroke="#1a1a1a" stroke-width="0.28" >1516.48</text>
<text transform="translate(505.7,373.8) scale(0.93,1)" font-size="8.4" text-anchor="middle" font-weight="normal" fill="#1a1a1a" stroke="#1a1a1a" stroke-width="0.28" >1577.32</text>
<path d="M491,372.6 L485.8,375.8 L485.8,381" fill="none" stroke="#333" stroke-width="0.9" stroke-linejoin="round"/>
<text transform="translate(535.2,383.7) scale(0.93,1)" font-size="8.4" text-anchor="middle" font-weight="normal" fill="#1a1a1a" stroke="#1a1a1a" stroke-width="0.28" >1654.37</text>
<path d="M521.5,380.8 L516.2,384 L516.2,388" fill="none" stroke="#333" stroke-width="0.9" stroke-linejoin="round"/>
<text transform="translate(577.9,402.6) scale(0.93,1)" font-size="8.4" text-anchor="middle" font-weight="normal" fill="#1a1a1a" stroke="#1a1a1a" stroke-width="0.28" >1774.35</text>
<path d="M567.6,403.2 L563.1,407.8 L563.1,412" fill="none" stroke="#333" stroke-width="0.9" stroke-linejoin="round"/>
<text transform="translate(600.5,419) scale(0.93,1)" font-size="8.4" text-anchor="middle" font-weight="normal" fill="#1a1a1a" stroke="#1a1a1a" stroke-width="0.28" >1819.98</text>
<path d="M586.8,416.2 L581.6,419.8" fill="none" stroke="#333" stroke-width="0.9" stroke-linejoin="round"/>
<rect x="91.8" y="220.4" width="112.7" height="3.9" fill="#000"/>
<rect x="227.1" y="220.4" width="428.6" height="3.9" fill="#000"/>
<text x="148.6" y="237.8" font-size="12.2" text-anchor="middle" font-weight="bold" fill="#111" >lipids</text>
<text x="435.4" y="237.8" font-size="12.2" text-anchor="middle" font-weight="bold" fill="#111" >peptides/proteins</text>
<rect x="91.8" y="457.5" width="112.7" height="3.9" fill="#000"/>
<rect x="227.1" y="457.5" width="428.6" height="3.9" fill="#000"/>
<text x="148.6" y="474.9" font-size="12.2" text-anchor="middle" font-weight="bold" fill="#111" >lipids</text>
<text x="435.4" y="474.9" font-size="12.2" text-anchor="middle" font-weight="bold" fill="#111" >peptides/proteins</text>
<text x="8.6" y="20.9" font-size="16" text-anchor="start" font-weight="bold" fill="#000" >a</text>
<text x="8.9" y="263.6" font-size="16" text-anchor="start" font-weight="bold" fill="#000" >b</text>
<text x="0" y="0" font-size="10.5" font-weight="bold" text-anchor="middle" fill="#111" transform="translate(8,136.2) rotate(-90)">intensity</text>
<text x="0" y="0" font-size="8" text-anchor="middle" fill="#1a1a1a" transform="translate(17.8,120.5) rotate(-90)">%</text>
<text x="0" y="0" font-size="10.5" font-weight="bold" text-anchor="middle" fill="#111" transform="translate(9.2,357.7) rotate(-90)">intensity</text>
<text x="0" y="0" font-size="8" text-anchor="middle" fill="#1a1a1a" transform="translate(17.4,358.4) rotate(-90)">%</text>
<path d="M463.4,63.49 L463.56,64.61 L463.73,60.28 L463.89,60.55 L464.06,66.51 L464.22,61.97 L464.38,67.18 L464.55,68.97 L464.71,69.16 L464.87,66.9 L465.04,67.97 L465.2,68.09 L465.37,71.02 L465.53,65.64 L465.69,70.75 L465.86,68.25 L466.02,64.98 L466.18,65.92 L466.35,65.77 L466.51,65.41 L466.68,61.78 L466.84,61.82 L467,63.48 L467.17,66.43 L467.33,62.4 L467.49,62.82 L467.66,65.84 L467.82,65.17 L467.99,66.7 L468.15,63.65 L468.31,69.8 L468.48,67.97 L468.64,67.91 L468.81,67.27 L468.97,64.63 L469.13,65.85 L469.3,66.87 L469.46,64.35 L469.62,68.56 L469.79,67.67 L469.95,67.61 L470.12,63.53 L470.28,64.88 L470.44,68.33 L470.61,63.61 L470.77,65.25 L470.93,63.21 L471.1,64.04 L471.26,66.56 L471.43,62.72 L471.59,63.55 L471.75,61.27 L471.92,65.64 L472.08,61.85 L472.25,63.57 L472.41,68 L472.57,66.28 L472.74,67.67 L472.9,71.63 L473.06,69.06 L473.23,68.25 L473.39,67.51 L473.56,71.63 L473.72,70 L473.88,69.99 L474.05,67.33 L474.21,67.83 L474.37,67.05 L474.54,66.78 L474.7,70.82 L474.87,68.33 L475.03,70.89 L475.19,71.08 L475.36,68.63 L475.52,62.36 L475.68,68.87 L475.85,70.48 L476.01,63.28 L476.18,68.69 L476.34,70.33 L476.5,66.9 L476.67,64.93 L476.83,66.71 L477,67.44 L477.16,61.94 L477.32,66.31 L477.49,60.73 L477.65,64.18 L477.81,66.83 L477.98,63.65 L478.14,65.33 L478.31,60.97 L478.47,60.33 L478.63,65.43 L478.8,66.59 L478.96,65.44 L479.12,61.79 L479.29,63.48 L479.45,64.68 L479.62,62.7 L479.78,69.52 L479.94,64.81 L480.11,65.05 L480.27,67.61 L480.44,69.27 L480.6,63.33 L480.76,67.93 L480.93,65.94 L481.09,68.65 L481.25,63.89 L481.42,63.69 L481.58,65.3 L481.75,66.88 L481.91,64.83 L482.07,66.06 L482.24,70.32 L482.4,69.48 L482.56,66.55 L482.73,65.83 L482.89,67.27 L483.06,71.63 L483.22,67.26 L483.38,68.45 L483.55,71.63 L483.71,67.57 L483.87,71.58 L484.04,71.31 L484.2,67.16 L484.37,71.63 L484.53,70.88 L484.69,67.1 L484.86,70.13 L485.02,65.61 L485.19,71.54 L485.35,67.13 L485.51,70.48 L485.68,71.63 L485.84,69.62 L486,64.12 L486.17,62.12 L486.33,65.5 L486.5,65.19 L486.66,68.78 L486.82,65.41 L486.99,69.54 L487.15,68.91 L487.31,64.96 L487.48,67.71 L487.64,70.72 L487.81,68.49 L487.97,68.61 L488.13,65.09 L488.3,70.42 L488.46,66.08 L488.63,68.3 L488.79,69.3 L488.95,71.09 L489.12,67.86 L489.28,67.69 L489.44,69.67 L489.61,70.18 L489.77,64.4 L489.94,67.23 L490.1,67.88 L490.26,66.07 L490.43,64.15 L490.59,67.11 L490.75,67.06 L490.92,64.97 L491.08,68.69 L491.25,68.61 L491.41,66.1 L491.57,67.28 L491.74,65.48 L491.9,68.56 L492.06,66.82 L492.23,71.63 L492.39,68.12 L492.56,71.63 L492.72,71.63 L492.88,71.26 L493.05,71.63 L493.21,65.62 L493.38,71.63 L493.54,68.02 L493.7,68.14 L493.87,69.8 L494.03,70.85 L494.19,71.31 L494.36,69.17 L494.52,71.63 L494.69,67.98 L494.85,69.93 L495.01,69.3 L495.18,68.6 L495.34,71.63 L495.5,68.95 L495.67,71.63 L495.83,69.03 L496,66.02 L496.16,69.78 L496.32,69.22 L496.49,66.93 L496.65,71.63 L496.82,66.82 L496.98,71.63 L497.14,71.63 L497.31,68.15 L497.47,68.13 L497.63,71.63 L497.8,70.43 L497.96,69.36 L498.13,71.63 L498.29,67.53 L498.45,71.63 L498.62,71.63 L498.78,66.73 L498.94,68.16 L499.11,67.03 L499.27,71.63 L499.44,71.63 L499.6,71.32 L499.76,69.27 L499.93,69.9 L500.09,67.69 L500.25,66.41 L500.42,68.38 L500.58,69.37 L500.75,67.04 L500.91,71.63 L501.07,70.74 L501.24,68.43 L501.4,68.14 L501.57,65.33 L501.73,66.89 L501.89,65.37 L502.06,66.08 L502.22,69.24 L502.38,71.63 L502.55,70.22 L502.71,71.63 L502.88,70.55 L503.04,70.35 L503.2,68.48 L503.37,69.62 L503.53,68.03 L503.69,70.81 L503.86,70.6 L504.02,68.22 L504.19,71.63 L504.35,70.51 L504.51,68.26 L504.68,71.39 L504.84,69.8 L505.01,71.48 L505.17,69.49 L505.33,68.88 L505.5,59.3 L505.66,68.96 L505.82,66.95 L505.99,71.63 L506.15,70.29 L506.32,67.98 L506.48,70.05 L506.64,66.73 L506.81,67.9 L506.97,65.69 L507.13,67.71 L507.3,67.64 L507.46,63.89 L507.63,65.31 L507.79,67.99 L507.95,61.63 L508.12,66.35 L508.28,62.07 L508.44,65.29 L508.61,62.4 L508.77,64.15 L508.94,62.62 L509.1,66.98 L509.26,65.38 L509.43,61.9 L509.59,64.25 L509.76,64.02 L509.92,65.69 L510.08,65.61 L510.25,66.01 L510.41,64.4 L510.57,67.27 L510.74,69.16 L510.9,67.68 L511.07,69.01 L511.23,64.49 L511.39,65.68 L511.56,65.78 L511.72,63.29 L511.88,63.98 L512.05,70.58 L512.21,65.32 L512.38,66.52 L512.54,69.64 L512.7,65.72 L512.87,62.54 L513.03,65.8 L513.2,62.68 L513.36,68.6 L513.52,66.13 L513.69,65.94 L513.85,63.45 L514.01,61.41 L514.18,65.82 L514.34,59.86 L514.51,63.84 L514.67,60.98 L514.83,63.95 L515,62.36 L515.16,60.31 L515.32,62.13 L515.49,63.64 L515.65,64.88 L515.82,65.37 L515.98,61.33 L516.14,59 L516.31,65.48 L516.47,64.02 L516.63,60.25 L516.8,54.02 L516.96,60.26 L517.13,59.84 L517.29,63.31 L517.45,58.77 L517.62,65.83 L517.78,60.11 L517.95,58.12 L518.11,65.13 L518.27,59.41 L518.44,62.17 L518.6,63.18 L518.76,60.18 L518.93,63.71 L519.09,64.33 L519.26,60.08 L519.42,59.39 L519.58,66.04 L519.75,63.14 L519.91,57.34 L520.07,60.11 L520.24,58.25 L520.4,59.86 L520.57,57.5 L520.73,61.47 L520.89,54.91 L521.06,59.37 L521.22,60.02 L521.39,55.05 L521.55,57.9 L521.71,50.85 L521.88,53.91 L522.04,52.99 L522.2,47.45 L522.37,47.27 L522.53,49.37 L522.7,50.68 L522.86,41.19 L523.02,45.61 L523.19,45.91 L523.35,44.74 L523.51,39.9 L523.68,38.65 L523.84,42.07 L524.01,39.63 L524.17,39.91 L524.33,36.41 L524.5,49.73 L524.66,48.48 L524.82,52.2 L524.99,52.96 L525.15,53.72 L525.32,50.55 L525.48,47.69 L525.64,46.91 L525.81,53.74 L525.97,55.41 L526.14,50.57 L526.3,56.24 L526.46,53.89 L526.63,55.24 L526.79,53.76 L526.95,57.91 L527.12,55.93 L527.28,61.68 L527.45,55.64 L527.61,57.53 L527.77,57.32 L527.94,64 L528.1,61.42 L528.26,56 L528.43,56.97 L528.59,57.57 L528.76,60.7 L528.92,53.64 L529.08,61.02 L529.25,60.56 L529.41,56.83 L529.58,51.22 L529.74,50.03 L529.9,51.05 L530.07,57.93 L530.23,54.46 L530.39,55.16 L530.56,53.5 L530.72,55.81 L530.89,52.83 L531.05,59.86 L531.21,54.62 L531.38,60.31 L531.54,61.83 L531.7,63.96 L531.87,62.36 L532.03,56.44 L532.2,62.71 L532.36,57.29 L532.52,54.91 L532.69,49.92 L532.85,50.3 L533.01,53.35 L533.18,47.44 L533.34,38.28 L533.51,28.18 L533.67,36.18 L533.83,25.85 L534,15.3 L534.16,15.3 L534.33,15.3 L534.49,15.3 L534.65,19.09 L534.82,22.27 L534.98,15.3 L535.14,25.55 L535.31,28.55 L535.47,37.57 L535.64,36.11 L535.8,46.54 L535.96,51.77 L536.13,56.92 L536.29,56.13 L536.45,61.24 L536.62,60.57 L536.78,64.03 L536.95,63.3 L537.11,58.15 L537.27,60.75 L537.44,66.17 L537.6,61.04 L537.77,63.51 L537.93,64.31 L538.09,59.86 L538.26,63.96 L538.42,58.48 L538.58,62.36 L538.75,59.3 L538.91,59.18 L539.08,49.3 L539.24,50.75 L539.4,46.91 L539.57,43.61 L539.73,46.88 L539.89,42.74 L540.06,40.62 L540.22,41.99 L540.39,44.55 L540.55,43.54 L540.71,48.07 L540.88,48.9 L541.04,52.26 L541.2,51.76 L541.37,59.38 L541.53,55.89 L541.7,54.65 L541.86,56.45 L542.02,59.97 L542.19,59.65 L542.35,58.23 L542.52,61.9 L542.68,57 L542.84,57.34 L543.01,58.99 L543.17,57.92 L543.33,48.88 L543.5,56.32 L543.66,41.81 L543.83,51.69 L543.99,41.35 L544.15,39.38 L544.32,39.82 L544.48,37.26 L544.64,38.49 L544.81,31.38 L544.97,41.99 L545.14,43.36 L545.3,36.26 L545.46,46.78 L545.63,44 L545.79,43.02 L545.96,46.26 L546.12,45.85 L546.28,51.74 L546.45,56.89 L546.61,52.74 L546.77,54.94 L546.94,59.95 L547.1,56.64 L547.27,49.79 L547.43,55.31 L547.59,53.91 L547.76,55.83 L547.92,53.96 L548.08,52.5 L548.25,57.3 L548.41,57.47 L548.58,53.07 L548.74,48.71 L548.9,55.91 L549.07,52.74 L549.23,51.09 L549.39,50.13 L549.56,54.13 L549.72,50.01 L549.89,48.36 L550.05,48.68 L550.21,55.5 L550.38,52.61 L550.54,50.34 L550.71,49.89 L550.87,55.1 L551.03,51.32 L551.2,46.96 L551.36,47.03 L551.52,52.44 L551.69,52.65 L551.85,55.73 L552.02,53.38 L552.18,56.3 L552.34,55.41 L552.51,57.72 L552.67,51.08 L552.83,58.25 L553,49.01 L553.16,59.49 L553.33,56.51 L553.49,48.36 L553.65,55.89 L553.82,52.58 L553.98,42.16 L554.15,49.63 L554.31,54.43 L554.47,51.53 L554.64,45.4 L554.8,47.76 L554.96,55.12 L555.13,45.81 L555.29,45.6 L555.46,46.7 L555.62,43.93 L555.78,56.6 L555.95,47.5 L556.11,53.6 L556.27,58.54 L556.44,57.57 L556.6,51.22 L556.77,51.9 L556.93,55.7 L557.09,61.45 L557.26,59.28 L557.42,58.75 L557.58,55.21 L557.75,58.99 L557.91,63.96 L558.08,59.21 L558.24,64.72 L558.4,64.86 L558.57,58.06 L558.73,59.42 L558.9,65.24 L559.06,62.2 L559.22,60.29 L559.39,58.84 L559.55,57.96 L559.71,56.8 L559.88,58.43 L560.04,63.77 L560.21,64.23 L560.37,58.63 L560.53,59.14 L560.7,59.17 L560.86,59.88 L561.02,57.56 L561.19,54.7 L561.35,55.03 L561.52,61.15 L561.68,54.05 L561.84,55.37 L562.01,60.1 L562.17,55.11 L562.34,55.23 L562.5,52.05 L562.66,50.78 L562.83,53.4 L562.99,49.02 L563.15,47.06 L563.32,53.83 L563.48,48.13 L563.65,53.76 L563.81,56.92 L563.97,59.29 L564.14,57.31 L564.3,60.69 L564.46,55.79 L564.63,62.36 L564.79,65.88 L564.96,66.69 L565.12,65.57 L565.28,60.9 L565.45,59.42 L565.61,65.3 L565.77,59.7 L565.94,58.98 L566.1,60.01 L566.27,56.97 L566.43,58.14 L566.59,59.88 L566.76,59.81 L566.92,59.63 L567.09,59.09 L567.25,62.87 L567.41,64.84 L567.58,57.53 L567.74,64.01 L567.9,57.74 L568.07,64.77 L568.23,62 L568.4,61.24 L568.56,56.94 L568.72,67.11 L568.89,59.2 L569.05,64.86 L569.21,65.7 L569.38,64.88 L569.54,65.39 L569.71,65.85 L569.87,68.59 L570.03,60.8 L570.2,65.52 L570.36,66.02 L570.53,63.26 L570.69,68.35 L570.85,61.3 L571.02,63.27 L571.18,64.44 L571.34,66.84 L571.51,67.96 L571.67,59.48 L571.84,65.76 L572,63.17 L572.16,64.83 L572.33,65.58 L572.49,66.66 L572.65,58.19 L572.82,67.67 L572.98,60.79 L573.15,64.01 L573.31,67.23 L573.47,61.7 L573.64,62.88 L573.8,60.92 L573.96,61.63 L574.13,62.37 L574.29,64.91 L574.46,66.36 L574.62,61.59 L574.78,67.97 L574.95,67.94 L575.11,69.02 L575.28,63.64 L575.44,64.94 L575.6,66.46 L575.77,62.85 L575.93,63.85 L576.09,67.53 L576.26,69.3 L576.42,67.25 L576.59,69 L576.75,69.72 L576.91,62.83 L577.08,69 L577.24,66.59 L577.4,67.99 L577.57,65.46 L577.73,62.73 L577.9,67.97 L578.06,68.33 L578.22,67.4 L578.39,67.02 L578.55,65.76 L578.72,68.96 L578.88,68.48 L579.04,67.73 L579.21,70.65 L579.37,64.12 L579.53,70.15 L579.7,63.18 L579.86,68.88 L580.03,66.59 L580.19,63.62 L580.35,64.4 L580.52,66.38 L580.68,64.28 L580.84,65.09 L581.01,65.4 L581.17,65.07 L581.34,68.84 L581.5,63.85 L581.66,62.22 L581.83,60.7 L581.99,68.69 L582.15,69.44 L582.32,69.33 L582.48,67.18 L582.65,67.96 L582.81,67.34 L582.97,63 L583.14,64.05 L583.3,69.79 L583.47,67.95 L583.63,68.42 L583.79,64.98 L583.96,61.73 L584.12,66.34 L584.28,64.06 L584.45,61.17 L584.61,64.94 L584.78,66.72 L584.94,64.48 L585.1,65.22 L585.27,62.65 L585.43,61.02 L585.59,61.54 L585.76,66.8 L585.92,62.52 L586.09,60.67 L586.25,56.93 L586.41,65.72 L586.58,66.11 L586.74,63.59 L586.91,63.91 L587.07,61.87 L587.23,67.24 L587.4,64.08 L587.56,68.54 L587.72,69.08 L587.89,63.23 L588.05,64.55 L588.22,70.56 L588.38,68.82 L588.54,68.01 L588.71,65.88 L588.87,66.61 L589.03,66.78 L589.2,64.46 L589.36,68.93 L589.53,70.94 L589.69,67.29 L589.85,66.29 L590.02,64.1 L590.18,65.83 L590.34,65.49 L590.51,68.74 L590.67,64.77 L590.84,66.86 L591,63.71 L591.16,63.45 L591.33,66.77 L591.49,65.12 L591.66,67.95 L591.82,67.79 L591.98,62.24 L592.15,68.81 L592.31,64.66 L592.47,64.98 L592.64,68.89 L592.8,63.93 L592.97,67.84 L593.13,63.02 L593.29,66.13 L593.46,66.24 L593.62,65.57 L593.78,63.32 L593.95,65.94 L594.11,69.39 L594.28,66.35 L594.44,68.09 L594.6,64.64 L594.77,65.12 L594.93,63.48 L595.1,69.96 L595.26,68.32 L595.42,70.04 L595.59,65.94 L595.75,68.43 L595.91,68.4 L596.08,69.01 L596.24,66.25 L596.41,70.17 L596.57,69.55 L596.73,67.09 L596.9,65.8 L597.06,67.66 L597.22,66.08 L597.39,67.43 L597.55,69.49 L597.72,65.59 L597.88,64.08 L598.04,69.43 L598.21,66.36 L598.37,66.77 L598.53,66.18 L598.7,62.73 L598.86,66.97 L599.03,62.09 L599.19,68.65 L599.35,62.88 L599.52,67.03 L599.68,68.51 L599.85,65.02 L600.01,67.45 L600.17,65.02 L600.34,68.4 L600.5,62.31 L600.66,65.33 L600.83,68.82 L600.99,61.89 L601.16,67.49 L601.32,69.36 L601.48,68.19 L601.65,66.46 L601.81,67.7 L601.97,65.02 L602.14,67.59 L602.3,71.57 L602.47,65.65 L602.63,66.34 L602.79,68.35 L602.96,71.63 L603.12,66.22 L603.29,66.1 L603.45,65.54 L603.61,66.28 L603.78,70.36 L603.94,67.46 L604.1,71.63 L604.27,67.12 L604.43,71.63 L604.6,67.21 L604.76,67.37 L604.92,66.93 L605.09,69.21 L605.25,65.51 L605.41,69.07 L605.58,70.96 L605.74,70.83 L605.91,65.35 L606.07,69.15 L606.23,70.48 L606.4,65.97 L606.56,70.61 L606.72,64.43 L606.89,66.49 L607.05,69.41 L607.22,70.67 L607.38,71.14 L607.54,65.58 L607.71,65.13 L607.87,65.76 L608.04,66.76 L608.2,64.03 L608.36,66.79 L608.53,65.52 L608.69,64.83 L608.85,64.72 L609.02,64.65 L609.18,68.31 L609.35,62.5 L609.51,67.93 L609.67,68 L609.84,66.19 L610,65.48 L610.16,70.11 L610.33,70.55 L610.49,71.63 L610.66,71.63 L610.82,70.81 L610.98,71.28 L611.15,71.48 L611.31,69.73 L611.48,69.66 L611.64,70.67 L611.8,66.24 L611.97,65.48 L612.13,65.49 L612.29,68.43 L612.46,61.19 L612.62,67.76 L612.79,64.05 L612.95,71.63 L613.11,63.03 L613.28,68.95 L613.44,67.33 L613.6,71.16 L613.77,69.74 L613.93,66.34 L614.1,69.8 L614.26,70.39 L614.42,71.22 L614.59,71.63 L614.75,65.79 L614.91,65.06 L615.08,67.32 L615.24,68.24 L615.41,68.77 L615.57,69.72 L615.73,61.61 L615.9,64.37 L616.06,67.23 L616.23,68.25 L616.39,64.6 L616.55,69.06 L616.72,67.9 L616.88,70.35 L617.04,69.77 L617.21,69.23 L617.37,71.36 L617.54,68.65 L617.7,68.42 L617.86,67.39 L618.03,71.63 L618.19,67.31 L618.35,70.77 L618.52,67.38 L618.68,70.07 L618.85,64.99 L619.01,68.94 L619.17,64.75 L619.34,68.28 L619.5,70.25 L619.67,66.29 L619.83,64.12 L619.99,69.68 L620.16,62.7 L620.32,67.19 L620.48,67.32 L620.65,66.42 L620.81,64.5 L620.98,68.34 L621.14,63.13 L621.3,66.81 L621.47,66.46 L621.63,64.31 L621.79,64.23 L621.96,63.23 L622.12,69.7 L622.29,68.35 L622.45,66.59 L622.61,63.6 L622.78,69.19 L622.94,68.44 L623.1,63.97 L623.27,65.1 L623.43,69.24 L623.6,62.7 L623.76,67.88 L623.92,66.04 L624.09,62.47 L624.25,60.93 L624.42,65.04 L624.58,65.8 L624.74,63.92 L624.91,66.96 L625.07,59.94 L625.23,65.21 L625.4,59.69 L625.56,65.4 L625.73,59.29 L625.89,59.14 L626.05,61.52 L626.22,61.58 L626.38,66.87 L626.54,67.56 L626.71,63.32 L626.87,66.56 L627.04,67.2 L627.2,64.88 L627.36,64.64 L627.53,70.11 L627.69,66.76 L627.86,70.19 L628.02,69.26 L628.18,68.03 L628.35,69.82 L628.51,67.63 L628.67,65.07 L628.84,62.1 L629,55.91 L629.17,56.72 L629.33,53.2 L629.49,49.66 L629.66,59.37 L629.82,52.79 L629.98,58.51 L630.15,56.36 L630.31,62.04 L630.48,68.16 L630.64,63.19 L630.8,67.31 L630.97,69.61 L631.13,68.06 L631.29,66.91 L631.46,69.8 L631.62,71.63 L631.79,70.08 L631.95,71.63 L632.11,68.97 L632.28,71.63 L632.44,71.47 L632.61,71.63 L632.77,70.98 L632.93,70.13 L633.1,67.67 L633.26,69.5 L633.42,65.21 L633.59,68.27 L633.75,69.02 L633.92,64.95 L634.08,69.22 L634.24,65.41 L634.41,71.28 L634.57,66.31 L634.73,69.77 L634.9,71.63 L635.06,67.15 L635.23,71.63 L635.39,67.59 L635.55,67.75 L635.72,71.63 L635.88,71.63 L636.05,69.46 L636.21,70.68 L636.37,71.63 L636.54,71.63 L636.7,71.63 L636.86,71.06 L637.03,71.63 L637.19,71.63 L637.36,71.63 L637.52,70.09 L637.68,70.35 L637.85,69.09 L638.01,71.27 L638.17,66.96 L638.34,67.83 L638.5,70.21 L638.67,65.65 L638.83,67.85 L638.99,70.55 L639.16,68.63 L639.32,67.24 L639.48,66.84 L639.65,68.11 L639.81,66.1 L639.98,68.3 L640.14,66.32 L640.3,63.54 L640.47,63.08 L640.63,65.37 L640.8,60.84 L640.96,64.16 L641.12,64.02 L641.29,65.25 L641.45,66.57 L641.61,68.31 L641.78,67.11 L641.94,67.49 L642.11,63.62 L642.27,64.01 L642.43,65.28 L642.6,70.17 L642.76,66.35 L642.92,71.45 L643.09,70.39 L643.25,66.51 L643.42,68.23 L643.58,67.87 L643.74,67.35 L643.91,69.61 L644.07,70.02 L644.24,69.78 L644.4,69.73 L644.56,69.23 L644.73,65.79 L644.89,69.7 L645.05,68.19 L645.22,71.63 L645.38,67.99 L645.55,71.63 L645.71,67.18 L645.87,69.5 L646.04,68.31 L646.2,70.59 L646.36,68.15 L646.53,63.77 L646.69,66.26 L646.86,63.94 L647.02,64.1 L647.18,66.34 L647.35,69.33" fill="none" stroke="#000" stroke-width="1.1" stroke-linejoin="round"/>
<line x1="462.8" y1="15.3" x2="462.8" y2="71.8" stroke="#333" stroke-width="1"/>
<line x1="460.4" y1="71.8" x2="462.8" y2="71.8" stroke="#333" stroke-width="0.8"/>
<line x1="461.2" y1="66.15" x2="462.8" y2="66.15" stroke="#333" stroke-width="0.8"/>
<line x1="461.2" y1="60.5" x2="462.8" y2="60.5" stroke="#333" stroke-width="0.8"/>
<line x1="461.2" y1="54.85" x2="462.8" y2="54.85" stroke="#333" stroke-width="0.8"/>
<line x1="461.2" y1="49.2" x2="462.8" y2="49.2" stroke="#333" stroke-width="0.8"/>
<line x1="460.4" y1="43.55" x2="462.8" y2="43.55" stroke="#333" stroke-width="0.8"/>
<line x1="461.2" y1="37.9" x2="462.8" y2="37.9" stroke="#333" stroke-width="0.8"/>
<line x1="461.2" y1="32.25" x2="462.8" y2="32.25" stroke="#333" stroke-width="0.8"/>
<line x1="461.2" y1="26.6" x2="462.8" y2="26.6" stroke="#333" stroke-width="0.8"/>
<line x1="461.2" y1="20.95" x2="462.8" y2="20.95" stroke="#333" stroke-width="0.8"/>
<line x1="460.4" y1="15.3" x2="462.8" y2="15.3" stroke="#333" stroke-width="0.8"/>
<line x1="460.4" y1="71.8" x2="647.7" y2="71.8" stroke="#222" stroke-width="1.1"/>
<line x1="462.94" y1="71.8" x2="462.94" y2="73.5" stroke="#333" stroke-width="0.8"/>
<line x1="468.4" y1="71.8" x2="468.4" y2="74.6" stroke="#333" stroke-width="0.8"/>
<line x1="473.86" y1="71.8" x2="473.86" y2="73.5" stroke="#333" stroke-width="0.8"/>
<line x1="479.32" y1="71.8" x2="479.32" y2="73.5" stroke="#333" stroke-width="0.8"/>
<line x1="484.78" y1="71.8" x2="484.78" y2="73.5" stroke="#333" stroke-width="0.8"/>
<line x1="490.24" y1="71.8" x2="490.24" y2="73.5" stroke="#333" stroke-width="0.8"/>
<line x1="495.7" y1="71.8" x2="495.7" y2="74.6" stroke="#333" stroke-width="0.8"/>
<line x1="501.16" y1="71.8" x2="501.16" y2="73.5" stroke="#333" stroke-width="0.8"/>
<line x1="506.62" y1="71.8" x2="506.62" y2="73.5" stroke="#333" stroke-width="0.8"/>
<line x1="512.08" y1="71.8" x2="512.08" y2="73.5" stroke="#333" stroke-width="0.8"/>
<line x1="517.54" y1="71.8" x2="517.54" y2="73.5" stroke="#333" stroke-width="0.8"/>
<line x1="523" y1="71.8" x2="523" y2="74.6" stroke="#333" stroke-width="0.8"/>
<line x1="528.46" y1="71.8" x2="528.46" y2="73.5" stroke="#333" stroke-width="0.8"/>
<line x1="533.92" y1="71.8" x2="533.92" y2="73.5" stroke="#333" stroke-width="0.8"/>
<line x1="539.38" y1="71.8" x2="539.38" y2="73.5" stroke="#333" stroke-width="0.8"/>
<line x1="544.84" y1="71.8" x2="544.84" y2="73.5" stroke="#333" stroke-width="0.8"/>
<line x1="550.3" y1="71.8" x2="550.3" y2="74.6" stroke="#333" stroke-width="0.8"/>
<line x1="555.76" y1="71.8" x2="555.76" y2="73.5" stroke="#333" stroke-width="0.8"/>
<line x1="561.22" y1="71.8" x2="561.22" y2="73.5" stroke="#333" stroke-width="0.8"/>
<line x1="566.68" y1="71.8" x2="566.68" y2="73.5" stroke="#333" stroke-width="0.8"/>
<line x1="572.14" y1="71.8" x2="572.14" y2="73.5" stroke="#333" stroke-width="0.8"/>
<line x1="577.6" y1="71.8" x2="577.6" y2="74.6" stroke="#333" stroke-width="0.8"/>
<line x1="583.06" y1="71.8" x2="583.06" y2="73.5" stroke="#333" stroke-width="0.8"/>
<line x1="588.52" y1="71.8" x2="588.52" y2="73.5" stroke="#333" stroke-width="0.8"/>
<line x1="593.98" y1="71.8" x2="593.98" y2="73.5" stroke="#333" stroke-width="0.8"/>
<line x1="599.44" y1="71.8" x2="599.44" y2="73.5" stroke="#333" stroke-width="0.8"/>
<line x1="604.9" y1="71.8" x2="604.9" y2="74.6" stroke="#333" stroke-width="0.8"/>
<line x1="610.36" y1="71.8" x2="610.36" y2="73.5" stroke="#333" stroke-width="0.8"/>
<line x1="615.82" y1="71.8" x2="615.82" y2="73.5" stroke="#333" stroke-width="0.8"/>
<line x1="621.28" y1="71.8" x2="621.28" y2="73.5" stroke="#333" stroke-width="0.8"/>
<line x1="626.74" y1="71.8" x2="626.74" y2="73.5" stroke="#333" stroke-width="0.8"/>
<line x1="632.2" y1="71.8" x2="632.2" y2="74.6" stroke="#333" stroke-width="0.8"/>
<line x1="637.66" y1="71.8" x2="637.66" y2="73.5" stroke="#333" stroke-width="0.8"/>
<line x1="643.12" y1="71.8" x2="643.12" y2="73.5" stroke="#333" stroke-width="0.8"/>
<text x="468.4" y="83.4" font-size="7.8" text-anchor="middle" font-weight="normal" fill="#1a1a1a" stroke="#1a1a1a" stroke-width="0.28" >1190</text>
<text x="495.7" y="83.4" font-size="7.8" text-anchor="middle" font-weight="normal" fill="#1a1a1a" stroke="#1a1a1a" stroke-width="0.28" >1195</text>
<text x="523" y="83.4" font-size="7.8" text-anchor="middle" font-weight="normal" fill="#1a1a1a" stroke="#1a1a1a" stroke-width="0.28" >1200</text>
<text x="550.3" y="83.4" font-size="7.8" text-anchor="middle" font-weight="normal" fill="#1a1a1a" stroke="#1a1a1a" stroke-width="0.28" >1205</text>
<text x="577.6" y="83.4" font-size="7.8" text-anchor="middle" font-weight="normal" fill="#1a1a1a" stroke="#1a1a1a" stroke-width="0.28" >1210</text>
<text x="604.9" y="83.4" font-size="7.8" text-anchor="middle" font-weight="normal" fill="#1a1a1a" stroke="#1a1a1a" stroke-width="0.28" >1215</text>
<text x="632.2" y="83.4" font-size="7.8" text-anchor="middle" font-weight="normal" fill="#1a1a1a" stroke="#1a1a1a" stroke-width="0.28" >1220</text>
<text x="460.2" y="18" font-size="7.8" text-anchor="end" font-weight="normal" fill="#1a1a1a" stroke="#1a1a1a" stroke-width="0.28" >100</text>
<text x="460" y="74.5" font-size="7.8" text-anchor="end" font-weight="normal" fill="#1a1a1a" stroke="#1a1a1a" stroke-width="0.28" >0</text>
<text x="651.1" y="75.6" font-size="8.6" text-anchor="start" font-weight="normal" fill="#1a1a1a" stroke="#1a1a1a" stroke-width="0.28" >m/z</text>
<text x="0" y="0" font-size="7" text-anchor="middle" fill="#1a1a1a" stroke="#1a1a1a" stroke-width="0.25" transform="translate(457.8,43.55) rotate(-90)">%</text>
<text x="507.2" y="31.4" font-size="7" text-anchor="middle" font-weight="normal" fill="#1a1a1a" stroke="#1a1a1a" stroke-width="0.28" >1200.1606</text>
<path d="M518.3,32.2 L523.8,38" fill="none" stroke="#333" stroke-width="0.8" stroke-linejoin="round"/>
<text x="535" y="14" font-size="7" text-anchor="middle" font-weight="normal" fill="#1a1a1a" stroke="#1a1a1a" stroke-width="0.28" >1202.0958</text>
<text x="562.15" y="28.2" font-size="7" text-anchor="middle" font-weight="normal" fill="#1a1a1a" stroke="#1a1a1a" stroke-width="0.28" >1204.0023</text>
<path d="M549.6,29.2 L545.2,33.6" fill="none" stroke="#333" stroke-width="0.8" stroke-linejoin="round"/>
<text x="575.9" y="44" font-size="7" text-anchor="middle" font-weight="normal" fill="#1a1a1a" stroke="#1a1a1a" stroke-width="0.28" >1205.6982</text>
<path d="M558.9,43 L554.4,45.7" fill="none" stroke="#333" stroke-width="0.8" stroke-linejoin="round"/>
<path d="M461.2,311.45 L461.36,317.52 L461.53,319.32 L461.69,319.58 L461.85,311.94 L462.01,308.29 L462.18,318.08 L462.34,311.58 L462.5,308.24 L462.67,304.77 L462.83,305.87 L462.99,311.08 L463.16,312.13 L463.32,307.94 L463.48,301.87 L463.64,305.59 L463.81,303.21 L463.97,314.95 L464.13,308.83 L464.3,312.27 L464.46,306.02 L464.62,308.44 L464.79,305.08 L464.95,316.52 L465.11,312.47 L465.27,304.81 L465.44,307.01 L465.6,306.13 L465.76,309.1 L465.93,304.68 L466.09,309.39 L466.25,309.5 L466.42,304.34 L466.58,305.64 L466.74,309.53 L466.9,310.38 L467.07,310.74 L467.23,314.46 L467.39,313.67 L467.56,306.39 L467.72,312.95 L467.88,305.19 L468.05,309.12 L468.21,303.12 L468.37,311.64 L468.53,297.59 L468.7,305.1 L468.86,298.97 L469.02,300.7 L469.19,300.65 L469.35,308.06 L469.51,305.72 L469.68,298.85 L469.84,306.74 L470,300.11 L470.16,297.91 L470.33,305.24 L470.49,308.49 L470.65,312.85 L470.82,304.86 L470.98,318.07 L471.14,308.75 L471.31,306.36 L471.47,311.3 L471.63,309.88 L471.79,308.08 L471.96,308.57 L472.12,309.94 L472.28,315.67 L472.45,306.59 L472.61,308.15 L472.77,303.96 L472.94,307.44 L473.1,307.18 L473.26,305.36 L473.42,307.54 L473.59,314.33 L473.75,302.47 L473.91,303.48 L474.08,301.4 L474.24,307.63 L474.4,313.81 L474.57,306.05 L474.73,301.52 L474.89,303.53 L475.05,313.37 L475.22,304.18 L475.38,309.3 L475.54,305.48 L475.71,308.88 L475.87,305.86 L476.03,301.7 L476.2,307.14 L476.36,309.69 L476.52,312.72 L476.68,305.65 L476.85,302.35 L477.01,299.95 L477.17,305.46 L477.34,302.73 L477.5,298.12 L477.66,309.87 L477.82,296.63 L477.99,309.04 L478.15,308.17 L478.31,296.73 L478.48,306.39 L478.64,296.13 L478.8,304.16 L478.97,306.12 L479.13,287.34 L479.29,299.37 L479.45,299.2 L479.62,301.64 L479.78,296.12 L479.94,294.45 L480.11,304.06 L480.27,298.05 L480.43,306.85 L480.6,302.05 L480.76,295.76 L480.92,306.07 L481.08,303.72 L481.25,300.07 L481.41,297.89 L481.57,298.28 L481.74,302.25 L481.9,302.52 L482.06,299.98 L482.23,301.3 L482.39,298.14 L482.55,296.75 L482.71,294.23 L482.88,299.67 L483.04,302.55 L483.2,291.76 L483.37,291.01 L483.53,289.66 L483.69,301.82 L483.86,302.47 L484.02,292.91 L484.18,300 L484.34,294.99 L484.51,293.3 L484.67,291.61 L484.83,297.58 L485,303.11 L485.16,303.36 L485.32,296.52 L485.49,293.23 L485.65,299.79 L485.81,297.94 L485.97,300.56 L486.14,302.28 L486.3,296.38 L486.46,308.19 L486.63,299.54 L486.79,308.48 L486.95,295.98 L487.12,298 L487.28,300.64 L487.44,304.94 L487.6,297.87 L487.77,302.98 L487.93,300.96 L488.09,296.37 L488.26,301.63 L488.42,308.85 L488.58,300.41 L488.75,307.52 L488.91,308.72 L489.07,307.16 L489.23,298.12 L489.4,300.37 L489.56,299.77 L489.72,308.08 L489.89,298.89 L490.05,298.53 L490.21,302.2 L490.38,296.47 L490.54,306.49 L490.7,306.07 L490.86,294.39 L491.03,305.04 L491.19,298.64 L491.35,301.44 L491.52,303.32 L491.68,296.08 L491.84,299.78 L492.01,305.56 L492.17,297.58 L492.33,293.82 L492.49,303.12 L492.66,306.44 L492.82,303.19 L492.98,304.51 L493.15,307.66 L493.31,297.04 L493.47,307.56 L493.64,305.59 L493.8,299.01 L493.96,304.11 L494.12,296.04 L494.29,299.14 L494.45,297.68 L494.61,304.82 L494.78,302.28 L494.94,300.74 L495.1,298.82 L495.26,298.48 L495.43,301.02 L495.59,311.34 L495.75,308.34 L495.92,304.53 L496.08,309.82 L496.24,306.35 L496.41,304.97 L496.57,300 L496.73,305.96 L496.89,310.21 L497.06,300.84 L497.22,307.59 L497.38,303.15 L497.55,299.89 L497.71,307.39 L497.87,302.37 L498.04,298.42 L498.2,307.28 L498.36,311.3 L498.52,310.14 L498.69,305.56 L498.85,300.55 L499.01,312.76 L499.18,309.58 L499.34,303.73 L499.5,306.14 L499.67,312.25 L499.83,308.99 L499.99,305.53 L500.15,306.08 L500.32,304.21 L500.48,315.99 L500.64,306.48 L500.81,308.81 L500.97,304.65 L501.13,307.6 L501.3,312.95 L501.46,307.34 L501.62,310.9 L501.78,313.83 L501.95,305.22 L502.11,315.75 L502.27,317.14 L502.44,308.55 L502.6,311.35 L502.76,311.21 L502.93,308.77 L503.09,304.94 L503.25,313.34 L503.41,308.1 L503.58,308.6 L503.74,313.79 L503.9,310.6 L504.07,304.62 L504.23,315.93 L504.39,309.16 L504.56,309.91 L504.72,314.02 L504.88,315.93 L505.04,304.53 L505.21,307.3 L505.37,307.26 L505.53,311.34 L505.7,305.64 L505.86,307.11 L506.02,315.04 L506.19,304.34 L506.35,312.74 L506.51,306.74 L506.67,304.47 L506.84,306.19 L507,308.08 L507.16,303.63 L507.33,313.46 L507.49,308.25 L507.65,310.05 L507.82,310.11 L507.98,301.76 L508.14,310.38 L508.3,310.02 L508.47,309.66 L508.63,310.21 L508.79,303.86 L508.96,304.32 L509.12,303.8 L509.28,307.41 L509.45,310.67 L509.61,305.13 L509.77,308.03 L509.93,318.49 L510.1,318.15 L510.26,312.37 L510.42,308.47 L510.59,317.29 L510.75,317.34 L510.91,315.97 L511.07,309.69 L511.24,313.63 L511.4,318.06 L511.56,319.22 L511.73,317.95 L511.89,313.21 L512.05,310.92 L512.22,308.17 L512.38,312.65 L512.54,319.23 L512.7,313.02 L512.87,318.91 L513.03,309.44 L513.19,314.87 L513.36,311.55 L513.52,306.78 L513.68,306.11 L513.85,306.45 L514.01,316.68 L514.17,311.74 L514.33,317.93 L514.5,316.6 L514.66,314.44 L514.82,314.77 L514.99,318.34 L515.15,309.55 L515.31,319.06 L515.48,310.42 L515.64,318.86 L515.8,310.67 L515.96,310.8 L516.13,307.23 L516.29,309.74 L516.45,310.9 L516.62,312.37 L516.78,310.92 L516.94,309.51 L517.11,318.75 L517.27,317.22 L517.43,316.61 L517.59,316.51 L517.76,307.89 L517.92,312.24 L518.08,309.75 L518.25,316.5 L518.41,311.06 L518.57,312.89 L518.74,316.02 L518.9,315.69 L519.06,310.71 L519.22,316.89 L519.39,308.51 L519.55,312.66 L519.71,308.11 L519.88,307.08 L520.04,317.31 L520.2,316.13 L520.37,314.84 L520.53,313.79 L520.69,318.39 L520.85,316.57 L521.02,312.4 L521.18,314.89 L521.34,318.83 L521.51,319.09 L521.67,315.26 L521.83,314.97 L522,310.64 L522.16,309.72 L522.32,319.68 L522.48,311.72 L522.65,309.91 L522.81,306.89 L522.97,309.43 L523.14,310.48 L523.3,304.03 L523.46,310.23 L523.63,308.08 L523.79,313.02 L523.95,303.77 L524.11,306.35 L524.28,307.42 L524.44,305.88 L524.6,309.45 L524.77,316.04 L524.93,315.44 L525.09,316.91 L525.26,313.4 L525.42,314.37 L525.58,312.65 L525.74,320.39 L525.91,315.99 L526.07,316.44 L526.23,318.19 L526.4,312.24 L526.56,320.42 L526.72,320.78 L526.88,320.15 L527.05,316.88 L527.21,314.29 L527.37,316.12 L527.54,316.54 L527.7,318.36 L527.86,318.96 L528.03,319.35 L528.19,315.06 L528.35,310.02 L528.51,315.42 L528.68,314.5 L528.84,314.19 L529,310.55 L529.17,311.69 L529.33,315.24 L529.49,316.68 L529.66,317.03 L529.82,320.22 L529.98,320.93 L530.14,313.09 L530.31,319.85 L530.47,312.37 L530.63,317.95 L530.8,316.36 L530.96,316.78 L531.12,312.83 L531.29,314.9 L531.45,318.21 L531.61,314.71 L531.77,312.27 L531.94,318.3 L532.1,312.83 L532.26,317.39 L532.43,318.23 L532.59,317.47 L532.75,319.74 L532.92,311.96 L533.08,313.36 L533.24,310.2 L533.4,319.82 L533.57,318.39 L533.73,314.76 L533.89,317.06 L534.06,310.03 L534.22,312.78 L534.38,314.92 L534.55,308.27 L534.71,311.57 L534.87,308.18 L535.03,307.85 L535.2,316.88 L535.36,318.87 L535.52,317.27 L535.69,313.68 L535.85,314.63 L536.01,319.49 L536.18,322.07 L536.34,316.8 L536.5,319.79 L536.66,317.46 L536.83,313.42 L536.99,313.29 L537.15,315.86 L537.32,320.76 L537.48,313.55 L537.64,313.49 L537.81,311.59 L537.97,319.69 L538.13,310.81 L538.29,312.81 L538.46,317.87 L538.62,312.49 L538.78,311.77 L538.95,314.2 L539.11,311.53 L539.27,317.84 L539.44,317.1 L539.6,319.45 L539.76,314.47 L539.92,310.59 L540.09,319.97 L540.25,319.61 L540.41,312.8 L540.58,310.36 L540.74,314.47 L540.9,311.45 L541.07,317.32 L541.23,318.02 L541.39,317.32 L541.55,317.96 L541.72,320.09 L541.88,314.55 L542.04,310.33 L542.21,316.76 L542.37,318.51 L542.53,312.43 L542.69,310.86 L542.86,311.99 L543.02,318.33 L543.18,312.04 L543.35,316.62 L543.51,310.26 L543.67,315.04 L543.84,311.01 L544,318.39 L544.16,319.61 L544.32,316.58 L544.49,316.61 L544.65,309.15 L544.81,310.63 L544.98,315.12 L545.14,309.54 L545.3,313.15 L545.47,311.74 L545.63,312.23 L545.79,318.2 L545.95,313.05 L546.12,312.57 L546.28,311.86 L546.44,307.69 L546.61,309.63 L546.77,310.06 L546.93,312.02 L547.1,314.34 L547.26,311.11 L547.42,319.87 L547.58,311.66 L547.75,318.78 L547.91,317.8 L548.07,317.47 L548.24,312.34 L548.4,311.64 L548.56,314.24 L548.73,312.69 L548.89,321.04 L549.05,316.3 L549.21,313.45 L549.38,318.96 L549.54,314.94 L549.7,315.04 L549.87,313.22 L550.03,318.58 L550.19,317.68 L550.36,315.58 L550.52,309.79 L550.68,315.82 L550.84,311.28 L551.01,313.74 L551.17,308.15 L551.33,314.44 L551.5,317.35 L551.66,309.31 L551.82,308.93 L551.99,309.12 L552.15,313.72 L552.31,312.56 L552.47,315.05 L552.64,314.88 L552.8,318.69 L552.96,317.13 L553.13,310.18 L553.29,319.07 L553.45,320.91 L553.62,317.36 L553.78,320.78 L553.94,313.64 L554.1,322.63 L554.27,322.63 L554.43,316.8 L554.59,322.63 L554.76,316.51 L554.92,321.53 L555.08,315.79 L555.25,321.77 L555.41,314.41 L555.57,318.34 L555.73,321.23 L555.9,314.96 L556.06,318.91 L556.22,311.07 L556.39,311.41 L556.55,310.14 L556.71,318.66 L556.88,318.43 L557.04,318.07 L557.2,314.72 L557.36,311.85 L557.53,314.28 L557.69,312.12 L557.85,311.51 L558.02,315.4 L558.18,318.01 L558.34,308.13 L558.51,318.27 L558.67,308.66 L558.83,313.33 L558.99,311.93 L559.16,307.38 L559.32,314.24 L559.48,316.04 L559.65,316.97 L559.81,311.69 L559.97,314.25 L560.13,320.72 L560.3,318.34 L560.46,317.23 L560.62,322.04 L560.79,313.78 L560.95,320.55 L561.11,322.63 L561.28,318.28 L561.44,319.25 L561.6,316.52 L561.76,322.38 L561.93,322.55 L562.09,312.62 L562.25,316.79 L562.42,321.05 L562.58,321.15 L562.74,320.53 L562.91,321.2 L563.07,319.03 L563.23,315.32 L563.39,320.94 L563.56,314.33 L563.72,317.23 L563.88,315.58 L564.05,314.57 L564.21,321.08 L564.37,319.11 L564.54,314.03 L564.7,322.14 L564.86,312.68 L565.02,322.63 L565.19,314.75 L565.35,311.42 L565.51,314.04 L565.68,316.16 L565.84,319.41 L566,310.82 L566.17,317.84 L566.33,318.95 L566.49,316.71 L566.65,313.85 L566.82,314.55 L566.98,320.33 L567.14,322.28 L567.31,318.82 L567.47,319.91 L567.63,319.52 L567.8,316.24 L567.96,322.63 L568.12,315 L568.28,320.76 L568.45,316.13 L568.61,312.97 L568.77,312.18 L568.94,310.45 L569.1,319.23 L569.26,307.23 L569.43,312.29 L569.59,312.52 L569.75,307.99 L569.91,311.73 L570.08,306.47 L570.24,310.52 L570.4,309.14 L570.57,305.32 L570.73,307.99 L570.89,305.43 L571.06,309.64 L571.22,314.89 L571.38,306.39 L571.54,310.75 L571.71,310.67 L571.87,315.97 L572.03,312.04 L572.2,317.86 L572.36,317.57 L572.52,312.77 L572.69,315.85 L572.85,316.5 L573.01,308.86 L573.17,311.32 L573.34,310.6 L573.5,311.68 L573.66,318.37 L573.83,309.06 L573.99,311.44 L574.15,313.87 L574.32,311.42 L574.48,315.71 L574.64,317.95 L574.8,315.86 L574.97,316.42 L575.13,313.82 L575.29,310.2 L575.46,320.16 L575.62,318.4 L575.78,316.5 L575.94,313.65 L576.11,310.64 L576.27,313.37 L576.43,314.59 L576.6,307.22 L576.76,308.85 L576.92,311.43 L577.09,308.5 L577.25,309.21 L577.41,304.52 L577.57,310.68 L577.74,307.13 L577.9,311.62 L578.06,313.01 L578.23,314.23 L578.39,318.62 L578.55,317.18 L578.72,317.56 L578.88,315.78 L579.04,314.72 L579.2,314.71 L579.37,316.1 L579.53,316.97 L579.69,317.54 L579.86,313.67 L580.02,318.14 L580.18,320.61 L580.35,315.25 L580.51,322.63 L580.67,320.82 L580.83,315.55 L581,313.59 L581.16,313.68 L581.32,317.7 L581.49,314.7 L581.65,314.1 L581.81,314.79 L581.98,317.73 L582.14,314.29 L582.3,317.71 L582.46,316.04 L582.63,311.02 L582.79,316.57 L582.95,318.91 L583.12,317.78 L583.28,317.58 L583.44,318.99 L583.61,313.3 L583.77,311.82 L583.93,317.7 L584.09,312.19 L584.26,317.7 L584.42,313.12 L584.58,316.88 L584.75,318.61 L584.91,319.25 L585.07,310.58 L585.24,316.95 L585.4,310.7 L585.56,313.14 L585.72,309.48 L585.89,316.33 L586.05,318.52 L586.21,312.73 L586.38,311.82 L586.54,312.69 L586.7,317.03 L586.87,319.68 L587.03,320.03 L587.19,317.89 L587.35,310.77 L587.52,318.73 L587.68,317.78 L587.84,316.5 L588.01,319.76 L588.17,320.84 L588.33,321.56 L588.5,318.52 L588.66,311.28 L588.82,320.55 L588.98,321.06 L589.15,314.84 L589.31,315.4 L589.47,318.01 L589.64,306.93 L589.8,314.46 L589.96,302.74 L590.13,309.87 L590.29,307.19 L590.45,300.25 L590.61,302.39 L590.78,291.94 L590.94,285.9 L591.1,292.91 L591.27,274.26 L591.43,277.46 L591.59,281.29 L591.75,266.5 L591.92,276.97 L592.08,269.84 L592.24,266.68 L592.41,266.5 L592.57,266.5 L592.73,266.5 L592.9,266.5 L593.06,266.5 L593.22,270 L593.38,288.51 L593.55,289.79 L593.71,283.42 L593.87,297.55 L594.04,301.7 L594.2,294.44 L594.36,304.65 L594.53,308.75 L594.69,306.69 L594.85,306.92 L595.01,300.64 L595.18,308.92 L595.34,313.78 L595.5,299.03 L595.67,308.1 L595.83,314.53 L595.99,307.42 L596.16,314.48 L596.32,308.7 L596.48,311.74 L596.64,308.47 L596.81,307.29 L596.97,307.82 L597.13,310.59 L597.3,308.07 L597.46,310.43 L597.62,309.97 L597.79,310.87 L597.95,308.19 L598.11,309.77 L598.27,316.74 L598.44,311.59 L598.6,308.19 L598.76,312.7 L598.93,309.23 L599.09,314.2 L599.25,312.56 L599.42,312.47 L599.58,311.55 L599.74,312.42 L599.9,310.19 L600.07,306.93 L600.23,314.35 L600.39,309.52 L600.56,314.49 L600.72,306.1 L600.88,313.81 L601.05,313.04 L601.21,316.14 L601.37,310.59 L601.53,315.99 L601.7,312.57 L601.86,312.73 L602.02,309.03 L602.19,309.49 L602.35,311.54 L602.51,308.21 L602.68,315.29 L602.84,309.13 L603,313.56 L603.16,310.96 L603.33,303.7 L603.49,306.66 L603.65,302.93 L603.82,305.83 L603.98,299.5 L604.14,300.87 L604.31,311.41 L604.47,307.58 L604.63,300.51 L604.79,297.73 L604.96,310.17 L605.12,306.97 L605.28,293.98 L605.45,297.75 L605.61,309.3 L605.77,297.83 L605.94,302.09 L606.1,303.77 L606.26,305.4 L606.42,298.16 L606.59,301.83 L606.75,305.89 L606.91,315 L607.08,315.27 L607.24,310.42 L607.4,312.9 L607.57,314.57 L607.73,309.59 L607.89,312.74 L608.05,311.11 L608.22,319.56 L608.38,309.01 L608.54,314.72 L608.71,312.11 L608.87,310.46 L609.03,318.75 L609.19,310.17 L609.36,309.49 L609.52,309.39 L609.68,310.68 L609.85,308.88 L610.01,317.08 L610.17,316.26 L610.34,310.17 L610.5,316.65 L610.66,311.85 L610.82,311.31 L610.99,313.13 L611.15,313.36 L611.31,313.92 L611.48,319.06 L611.64,313.43 L611.8,317.56 L611.97,318.2 L612.13,319.14 L612.29,321.77 L612.45,313.99 L612.62,315 L612.78,321.05 L612.94,322.63 L613.11,319.54 L613.27,316.29 L613.43,322.63 L613.6,322.63 L613.76,316.46 L613.92,322.63 L614.08,313.95 L614.25,318.39 L614.41,322.63 L614.57,318.57 L614.74,320.96 L614.9,311.81 L615.06,317.74 L615.23,319.32 L615.39,312.74 L615.55,312.84 L615.71,317.73 L615.88,313.24 L616.04,310.9 L616.2,312.16 L616.37,309.41 L616.53,311.53 L616.69,314.11 L616.86,309.49 L617.02,311.02 L617.18,306.98 L617.34,305.57 L617.51,304.93 L617.67,307.14 L617.83,310.04 L618,315.41 L618.16,312.78 L618.32,312.59 L618.49,309.68 L618.65,308.35 L618.81,310.33 L618.97,305.86 L619.14,314.31 L619.3,306.79 L619.46,309.47 L619.63,316.41 L619.79,312.78 L619.95,313.04 L620.12,316.1 L620.28,318.2 L620.44,310.16 L620.6,309.45 L620.77,311.28 L620.93,311.4 L621.09,312.75 L621.26,318.96 L621.42,311.68 L621.58,310.17 L621.75,312.12 L621.91,312.12 L622.07,312.85 L622.23,315.87 L622.4,312.15 L622.56,318.78 L622.72,314.96 L622.89,314 L623.05,322.03 L623.21,321.55 L623.38,317.92 L623.54,311.8 L623.7,311.36 L623.86,314.9 L624.03,316.66 L624.19,315.64 L624.35,320.58 L624.52,314.23 L624.68,319.51 L624.84,317.23 L625,315.61 L625.17,314.51 L625.33,312.12 L625.49,315.33 L625.66,311.4 L625.82,314.6 L625.98,315.12 L626.15,312.37 L626.31,314.88 L626.47,317.21 L626.63,319.19 L626.8,316.5 L626.96,316.33 L627.12,315.7 L627.29,318.79 L627.45,313.65 L627.61,312.14 L627.78,316.32 L627.94,309.25 L628.1,315.26 L628.26,318.41 L628.43,318.17 L628.59,309.65 L628.75,316.27 L628.92,316.77 L629.08,316.54 L629.24,310.14 L629.41,307.25 L629.57,313.39 L629.73,309.1 L629.89,315.66 L630.06,313.41 L630.22,313 L630.38,312.06 L630.55,319.28 L630.71,315.35 L630.87,310.4 L631.04,319.21 L631.2,321.63 L631.36,317.35 L631.52,313.85 L631.69,321.96 L631.85,316.12 L632.01,321.56 L632.18,317.32 L632.34,319.15 L632.5,311.83 L632.67,311.62 L632.83,319.93 L632.99,316.27 L633.15,317.36 L633.32,315.49 L633.48,321.32 L633.64,315.55 L633.81,312.27 L633.97,315.01 L634.13,311.95 L634.3,314.84 L634.46,318.11 L634.62,313.9 L634.78,314.74 L634.95,318.6 L635.11,316.29 L635.27,318.21 L635.44,322.6 L635.6,313.77 L635.76,322.28 L635.93,316.22 L636.09,319.22 L636.25,322.63 L636.41,322.63 L636.58,322.63 L636.74,316.42 L636.9,320.13 L637.07,313.68 L637.23,318.9 L637.39,312.02 L637.56,314.81 L637.72,312.53 L637.88,315.25 L638.04,318.73 L638.21,313.56 L638.37,312.61 L638.53,318.45 L638.7,322.12 L638.86,319.63 L639.02,317.55 L639.19,322.63 L639.35,317.86 L639.51,319.09 L639.67,322.63 L639.84,318.65 L640,322.63 L640.16,316.58 L640.33,320.47 L640.49,312.84 L640.65,320.28 L640.81,317.85 L640.98,315.53 L641.14,318.29 L641.3,316.94 L641.47,315.33 L641.63,316.26 L641.79,318.51 L641.96,316.19 L642.12,319.72 L642.28,316.76 L642.44,314.44 L642.61,322.09 L642.77,316.44" fill="none" stroke="#000" stroke-width="1.1" stroke-linejoin="round"/>
<line x1="460.6" y1="266.5" x2="460.6" y2="322.8" stroke="#333" stroke-width="1"/>
<line x1="458.2" y1="322.8" x2="460.6" y2="322.8" stroke="#333" stroke-width="0.8"/>
<line x1="459" y1="317.17" x2="460.6" y2="317.17" stroke="#333" stroke-width="0.8"/>
<line x1="459" y1="311.54" x2="460.6" y2="311.54" stroke="#333" stroke-width="0.8"/>
<line x1="459" y1="305.91" x2="460.6" y2="305.91" stroke="#333" stroke-width="0.8"/>
<line x1="459" y1="300.28" x2="460.6" y2="300.28" stroke="#333" stroke-width="0.8"/>
<line x1="458.2" y1="294.65" x2="460.6" y2="294.65" stroke="#333" stroke-width="0.8"/>
<line x1="459" y1="289.02" x2="460.6" y2="289.02" stroke="#333" stroke-width="0.8"/>
<line x1="459" y1="283.39" x2="460.6" y2="283.39" stroke="#333" stroke-width="0.8"/>
<line x1="459" y1="277.76" x2="460.6" y2="277.76" stroke="#333" stroke-width="0.8"/>
<line x1="459" y1="272.13" x2="460.6" y2="272.13" stroke="#333" stroke-width="0.8"/>
<line x1="458.2" y1="266.5" x2="460.6" y2="266.5" stroke="#333" stroke-width="0.8"/>
<line x1="458.2" y1="322.8" x2="643.2" y2="322.8" stroke="#222" stroke-width="1.1"/>
<line x1="464.9" y1="322.8" x2="464.9" y2="325.6" stroke="#333" stroke-width="0.8"/>
<line x1="470.33" y1="322.8" x2="470.33" y2="324.5" stroke="#333" stroke-width="0.8"/>
<line x1="475.77" y1="322.8" x2="475.77" y2="324.5" stroke="#333" stroke-width="0.8"/>
<line x1="481.2" y1="322.8" x2="481.2" y2="324.5" stroke="#333" stroke-width="0.8"/>
<line x1="486.63" y1="322.8" x2="486.63" y2="324.5" stroke="#333" stroke-width="0.8"/>
<line x1="492.06" y1="322.8" x2="492.06" y2="325.6" stroke="#333" stroke-width="0.8"/>
<line x1="497.5" y1="322.8" x2="497.5" y2="324.5" stroke="#333" stroke-width="0.8"/>
<line x1="502.93" y1="322.8" x2="502.93" y2="324.5" stroke="#333" stroke-width="0.8"/>
<line x1="508.36" y1="322.8" x2="508.36" y2="324.5" stroke="#333" stroke-width="0.8"/>
<line x1="513.8" y1="322.8" x2="513.8" y2="324.5" stroke="#333" stroke-width="0.8"/>
<line x1="519.23" y1="322.8" x2="519.23" y2="325.6" stroke="#333" stroke-width="0.8"/>
<line x1="524.66" y1="322.8" x2="524.66" y2="324.5" stroke="#333" stroke-width="0.8"/>
<line x1="530.1" y1="322.8" x2="530.1" y2="324.5" stroke="#333" stroke-width="0.8"/>
<line x1="535.53" y1="322.8" x2="535.53" y2="324.5" stroke="#333" stroke-width="0.8"/>
<line x1="540.96" y1="322.8" x2="540.96" y2="324.5" stroke="#333" stroke-width="0.8"/>
<line x1="546.39" y1="322.8" x2="546.39" y2="325.6" stroke="#333" stroke-width="0.8"/>
<line x1="551.83" y1="322.8" x2="551.83" y2="324.5" stroke="#333" stroke-width="0.8"/>
<line x1="557.26" y1="322.8" x2="557.26" y2="324.5" stroke="#333" stroke-width="0.8"/>
<line x1="562.69" y1="322.8" x2="562.69" y2="324.5" stroke="#333" stroke-width="0.8"/>
<line x1="568.13" y1="322.8" x2="568.13" y2="324.5" stroke="#333" stroke-width="0.8"/>
<line x1="573.56" y1="322.8" x2="573.56" y2="325.6" stroke="#333" stroke-width="0.8"/>
<line x1="578.99" y1="322.8" x2="578.99" y2="324.5" stroke="#333" stroke-width="0.8"/>
<line x1="584.43" y1="322.8" x2="584.43" y2="324.5" stroke="#333" stroke-width="0.8"/>
<line x1="589.86" y1="322.8" x2="589.86" y2="324.5" stroke="#333" stroke-width="0.8"/>
<line x1="595.29" y1="322.8" x2="595.29" y2="324.5" stroke="#333" stroke-width="0.8"/>
<line x1="600.72" y1="322.8" x2="600.72" y2="325.6" stroke="#333" stroke-width="0.8"/>
<line x1="606.16" y1="322.8" x2="606.16" y2="324.5" stroke="#333" stroke-width="0.8"/>
<line x1="611.59" y1="322.8" x2="611.59" y2="324.5" stroke="#333" stroke-width="0.8"/>
<line x1="617.02" y1="322.8" x2="617.02" y2="324.5" stroke="#333" stroke-width="0.8"/>
<line x1="622.46" y1="322.8" x2="622.46" y2="324.5" stroke="#333" stroke-width="0.8"/>
<line x1="627.89" y1="322.8" x2="627.89" y2="325.6" stroke="#333" stroke-width="0.8"/>
<line x1="633.32" y1="322.8" x2="633.32" y2="324.5" stroke="#333" stroke-width="0.8"/>
<line x1="638.76" y1="322.8" x2="638.76" y2="324.5" stroke="#333" stroke-width="0.8"/>
<text x="464.9" y="334.4" font-size="7.8" text-anchor="middle" font-weight="normal" fill="#1a1a1a" stroke="#1a1a1a" stroke-width="0.28" >1190</text>
<text x="492.06" y="334.4" font-size="7.8" text-anchor="middle" font-weight="normal" fill="#1a1a1a" stroke="#1a1a1a" stroke-width="0.28" >1195</text>
<text x="519.23" y="334.4" font-size="7.8" text-anchor="middle" font-weight="normal" fill="#1a1a1a" stroke="#1a1a1a" stroke-width="0.28" >1200</text>
<text x="546.39" y="334.4" font-size="7.8" text-anchor="middle" font-weight="normal" fill="#1a1a1a" stroke="#1a1a1a" stroke-width="0.28" >1205</text>
<text x="573.56" y="334.4" font-size="7.8" text-anchor="middle" font-weight="normal" fill="#1a1a1a" stroke="#1a1a1a" stroke-width="0.28" >1210</text>
<text x="600.72" y="334.4" font-size="7.8" text-anchor="middle" font-weight="normal" fill="#1a1a1a" stroke="#1a1a1a" stroke-width="0.28" >1215</text>
<text x="627.89" y="334.4" font-size="7.8" text-anchor="middle" font-weight="normal" fill="#1a1a1a" stroke="#1a1a1a" stroke-width="0.28" >1220</text>
<text x="458" y="269.2" font-size="7.8" text-anchor="end" font-weight="normal" fill="#1a1a1a" stroke="#1a1a1a" stroke-width="0.28" >100</text>
<text x="457.8" y="325.5" font-size="7.8" text-anchor="end" font-weight="normal" fill="#1a1a1a" stroke="#1a1a1a" stroke-width="0.28" >0</text>
<text x="646.6" y="326.6" font-size="8.6" text-anchor="start" font-weight="normal" fill="#1a1a1a" stroke="#1a1a1a" stroke-width="0.28" >m/z</text>
<text x="0" y="0" font-size="7" text-anchor="middle" fill="#1a1a1a" stroke="#1a1a1a" stroke-width="0.25" transform="translate(455.6,294.65) rotate(-90)">%</text>
<text x="592.9" y="265.8" font-size="7" text-anchor="middle" font-weight="normal" fill="#1a1a1a" stroke="#1a1a1a" stroke-width="0.28" >1213.4814</text>
<text x="622.75" y="285.9" font-size="7" text-anchor="middle" font-weight="normal" fill="#1a1a1a" stroke="#1a1a1a" stroke-width="0.28" >1215.9446</text>
<path d="M607.3,286.3 L606,290.4" fill="none" stroke="#333" stroke-width="0.8" stroke-linejoin="round"/>
</svg>
</body></html>
